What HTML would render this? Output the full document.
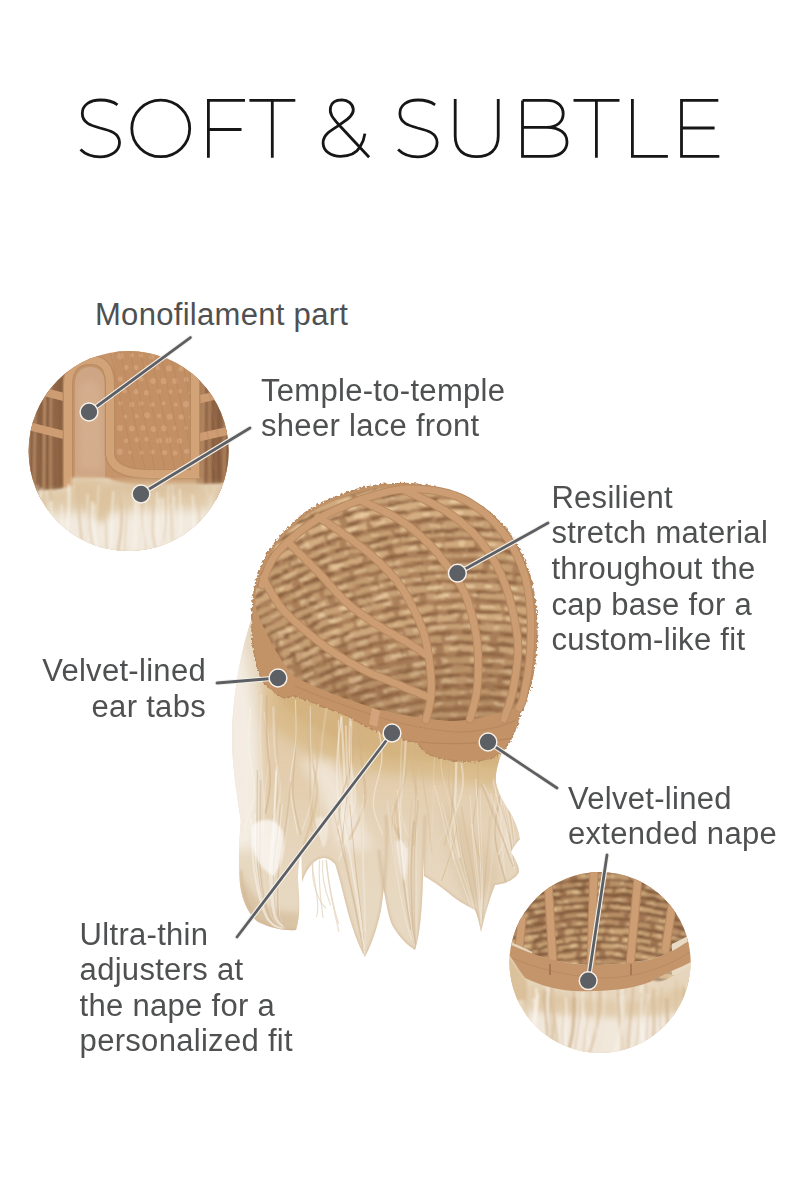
<!DOCTYPE html>
<html>
<head>
<meta charset="utf-8">
<style>
html,body{margin:0;padding:0;background:#fff;}
body{width:800px;height:1200px;position:relative;overflow:hidden;}
#art{position:absolute;left:0;top:0;}
.t{position:absolute;font-family:"Liberation Sans",sans-serif;font-size:31px;line-height:35.6px;color:#4f5051;letter-spacing:0.3px;white-space:nowrap;}
</style>
</head>
<body>
<svg id="art" width="800" height="1200" viewBox="0 0 800 1200">
<defs>
  <filter id="meshf" x="-5%" y="-5%" width="110%" height="110%"><feTurbulence type="fractalNoise" baseFrequency="0.06 0.25" numOctaves="2" seed="3" result="n"/><feDisplacementMap in="SourceGraphic" in2="n" scale="5" xChannelSelector="R" yChannelSelector="G" result="d"/><feGaussianBlur in="d" stdDeviation="1.1"/></filter>
  <filter id="blurS" x="-5%" y="-5%" width="110%" height="110%"><feGaussianBlur stdDeviation="0.5"/></filter>
  <filter id="fuzz" x="-5%" y="-5%" width="110%" height="110%"><feTurbulence type="fractalNoise" baseFrequency="0.35" numOctaves="2" seed="5" result="n"/><feDisplacementMap in="SourceGraphic" in2="n" scale="5" xChannelSelector="R" yChannelSelector="G" result="d"/><feGaussianBlur in="d" stdDeviation="0.4"/></filter>
  <filter id="blur08" x="-5%" y="-5%" width="110%" height="110%"><feGaussianBlur stdDeviation="0.8"/></filter>
  <filter id="blur1"><feGaussianBlur stdDeviation="1.2"/></filter>
  <filter id="blur3" x="-20%" y="-20%" width="140%" height="140%"><feGaussianBlur stdDeviation="3"/></filter>
  <filter id="blur6" x="-20%" y="-20%" width="140%" height="140%"><feGaussianBlur stdDeviation="6"/></filter>
  <clipPath id="c1"><circle cx="128.6" cy="451" r="100"/></clipPath>
  <clipPath id="c2"><circle cx="600" cy="962.5" r="90.5"/></clipPath>
</defs>

<g fill="none" stroke="#161616" stroke-width="2.8" stroke-linecap="butt" stroke-linejoin="miter">
  <path id="S1" d="M117.5,104.8 C113,101.5 107,100 100.5,100 C89,100 82.3,105.5 82.3,113.5 C82.3,123 91,125.5 100,128 C110,130.5 119.5,133 119.5,142.5 C119.5,151 111,156.8 100,156.8 C91,156.8 84.5,153.5 80.5,149.5"/>
  <ellipse cx="160.75" cy="128.4" rx="28.95" ry="28.3"/>
  <path d="M208.4,157.8 V100.4 H245 M208.4,129.5 H241.5"/>
  <path d="M249.4,100.4 H295.3 M272.3,100.4 V157.8"/>
  <path d="M369.1,157.2 L339.3,125.2 C333,118 329,114 330.6,107 C332,101 337,100 341.9,99.9 C348,100 353,104 353.3,109.5 C353.5,116 346,120 339.3,125.2 C330,131 323,135 323.1,143 C323,151 331,156.3 340.6,156.3 C351,156.3 357,152 360,147 C363,142 364.5,137 364.9,133.6"/>
  <use href="#S1" transform="translate(317.6,0)"/>
  <path d="M455.2,99 V136 C455.2,150 464,156.7 476.7,156.7 C489.4,156.7 498.25,150 498.25,136 V99"/>
  <path d="M522.5,100.4 H547 C557,100.4 563.2,106 563.2,113.8 C563.2,121.6 557,127.3 547,127.3 H522.5 M547,127.3 C560,127.3 567,133.5 567,142 C567,150.5 560,156.4 549,156.4 H522.5 V100.4"/>
  <path d="M573.5,100.4 H619.5 M596.4,100.4 V157.8"/>
  <path d="M632.4,99 V156.4 H667.9"/>
  <path d="M718.3,100.4 H681.5 V156.4 H719.3 M681.5,128 H714.6"/>
</g>

<g clip-path="url(#c1)">
<rect x="28" y="350" width="202" height="205" fill="#c6946a"/>
<path d="M28,360 L67,360 L67,500 L28,500 Z" fill="#9e7150"/>
<path d="M196,360 L232,360 L232,500 L196,500 Z" fill="#9e7150"/>
<g filter="url(#blur08)">
<path d="M29,360 C30,400 28,440 28.5,500" stroke="#c59d74" stroke-width="1.6" fill="none" opacity="0.75"/>
<path d="M32.1,360 C33.1,400 31.1,440 30.7,500" stroke="#6f4b30" stroke-width="1.6" fill="none" opacity="0.75"/>
<path d="M35.2,360 C36.2,400 34.2,440 33.9,500" stroke="#c59d74" stroke-width="1.2" fill="none" opacity="0.75"/>
<path d="M38.3,360 C39.3,400 37.3,440 38.1,500" stroke="#6f4b30" stroke-width="1.4" fill="none" opacity="0.75"/>
<path d="M41.4,360 C42.4,400 40.4,440 41.6,500" stroke="#6f4b30" stroke-width="2" fill="none" opacity="0.75"/>
<path d="M44.5,360 C45.5,400 43.5,440 43.4,500" stroke="#c59d74" stroke-width="1.8" fill="none" opacity="0.75"/>
<path d="M47.6,360 C48.6,400 46.6,440 47.8,500" stroke="#6f4b30" stroke-width="1.8" fill="none" opacity="0.75"/>
<path d="M50.7,360 C51.7,400 49.7,440 50.4,500" stroke="#c59d74" stroke-width="1.2" fill="none" opacity="0.75"/>
<path d="M53.8,360 C54.8,400 52.8,440 54.9,500" stroke="#7d573a" stroke-width="1.6" fill="none" opacity="0.75"/>
<path d="M56.9,360 C57.9,400 55.9,440 57,500" stroke="#7d573a" stroke-width="1.8" fill="none" opacity="0.75"/>
<path d="M60,360 C61,400 59,440 60.5,500" stroke="#6f4b30" stroke-width="1.8" fill="none" opacity="0.75"/>
<path d="M63.1,360 C64.1,400 62.1,440 63.5,500" stroke="#7d573a" stroke-width="1.3" fill="none" opacity="0.75"/>
<path d="M66.2,360 C67.2,400 65.2,440 66.8,500" stroke="#6f4b30" stroke-width="1.8" fill="none" opacity="0.75"/>
<path d="M197,360 C198,400 196,440 197,500" stroke="#b88d63" stroke-width="2" fill="none" opacity="0.75"/>
<path d="M200.1,360 C201.1,400 199.1,440 200,500" stroke="#b88d63" stroke-width="1.6" fill="none" opacity="0.75"/>
<path d="M203.2,360 C204.2,400 202.2,440 202.4,500" stroke="#c59d74" stroke-width="1.9" fill="none" opacity="0.75"/>
<path d="M206.3,360 C207.3,400 205.3,440 205.5,500" stroke="#7d573a" stroke-width="1.7" fill="none" opacity="0.75"/>
<path d="M209.4,360 C210.4,400 208.4,440 210.5,500" stroke="#b88d63" stroke-width="1.5" fill="none" opacity="0.75"/>
<path d="M212.5,360 C213.5,400 211.5,440 213.9,500" stroke="#6f4b30" stroke-width="1.7" fill="none" opacity="0.75"/>
<path d="M215.6,360 C216.6,400 214.6,440 214.6,500" stroke="#7d573a" stroke-width="1.4" fill="none" opacity="0.75"/>
<path d="M218.7,360 C219.7,400 217.7,440 218.7,500" stroke="#6f4b30" stroke-width="2.2" fill="none" opacity="0.75"/>
<path d="M221.8,360 C222.8,400 220.8,440 220.5,500" stroke="#7d573a" stroke-width="1.5" fill="none" opacity="0.75"/>
<path d="M224.9,360 C225.9,400 223.9,440 224.5,500" stroke="#b88d63" stroke-width="1.8" fill="none" opacity="0.75"/>
<path d="M228,360 C229,400 227,440 227.9,500" stroke="#6f4b30" stroke-width="2.1" fill="none" opacity="0.75"/>
<path d="M231.1,360 C232.1,400 230.1,440 231,500" stroke="#6f4b30" stroke-width="1.3" fill="none" opacity="0.75"/>
</g>
<path d="M28,388 L68,398 M28,426 L68,436 M196,400 L232,392 M196,438 L232,430" stroke="#cd9c72" stroke-width="8" fill="none"/>
<rect x="114" y="350" width="80" height="118" fill="#c38f64"/>
<circle cx="120.4" cy="356.3" r="3.2" fill="#d9aa80" opacity="0.6"/>
<circle cx="126.1" cy="367.6" r="2.5" fill="#d9aa80" opacity="0.6"/>
<circle cx="120.3" cy="379" r="2.6" fill="#d9aa80" opacity="0.6"/>
<circle cx="124.8" cy="391.2" r="2.1" fill="#d9aa80" opacity="0.6"/>
<circle cx="120.5" cy="403.3" r="2.3" fill="#d9aa80" opacity="0.6"/>
<circle cx="125.3" cy="416.7" r="2.1" fill="#d9aa80" opacity="0.6"/>
<circle cx="119.9" cy="428.1" r="3.1" fill="#d9aa80" opacity="0.6"/>
<circle cx="126.1" cy="440.7" r="2.3" fill="#d9aa80" opacity="0.6"/>
<circle cx="119.8" cy="451.7" r="3.1" fill="#d9aa80" opacity="0.6"/>
<circle cx="131.9" cy="355.3" r="2.2" fill="#d9aa80" opacity="0.6"/>
<circle cx="136" cy="367.5" r="2.6" fill="#d9aa80" opacity="0.6"/>
<circle cx="131.2" cy="379.5" r="2" fill="#d9aa80" opacity="0.6"/>
<circle cx="136.3" cy="391.7" r="2.7" fill="#d9aa80" opacity="0.6"/>
<circle cx="131.9" cy="404.4" r="2.6" fill="#d9aa80" opacity="0.6"/>
<circle cx="136.7" cy="416.4" r="2.1" fill="#d9aa80" opacity="0.6"/>
<circle cx="131.8" cy="428.6" r="3" fill="#d9aa80" opacity="0.6"/>
<circle cx="137.1" cy="439.8" r="2.5" fill="#d9aa80" opacity="0.6"/>
<circle cx="130.2" cy="452.3" r="2.1" fill="#d9aa80" opacity="0.6"/>
<circle cx="141.1" cy="355.4" r="2.2" fill="#d9aa80" opacity="0.6"/>
<circle cx="147.2" cy="367.1" r="2" fill="#d9aa80" opacity="0.6"/>
<circle cx="141.3" cy="379.2" r="2.4" fill="#d9aa80" opacity="0.6"/>
<circle cx="146.6" cy="392.7" r="2.7" fill="#d9aa80" opacity="0.6"/>
<circle cx="141.3" cy="403.5" r="2.4" fill="#d9aa80" opacity="0.6"/>
<circle cx="147.2" cy="415.2" r="3" fill="#d9aa80" opacity="0.6"/>
<circle cx="143" cy="427.9" r="2.6" fill="#d9aa80" opacity="0.6"/>
<circle cx="146.7" cy="439.2" r="2.4" fill="#d9aa80" opacity="0.6"/>
<circle cx="141.5" cy="452.7" r="2.2" fill="#d9aa80" opacity="0.6"/>
<circle cx="152" cy="356.9" r="2.6" fill="#d9aa80" opacity="0.6"/>
<circle cx="157.8" cy="368.1" r="2" fill="#d9aa80" opacity="0.6"/>
<circle cx="153.1" cy="381" r="3" fill="#d9aa80" opacity="0.6"/>
<circle cx="158.9" cy="391.5" r="2.4" fill="#d9aa80" opacity="0.6"/>
<circle cx="152.3" cy="404.5" r="2.6" fill="#d9aa80" opacity="0.6"/>
<circle cx="159.1" cy="415.7" r="2.3" fill="#d9aa80" opacity="0.6"/>
<circle cx="153.6" cy="429" r="3" fill="#d9aa80" opacity="0.6"/>
<circle cx="159.1" cy="440.6" r="2.9" fill="#d9aa80" opacity="0.6"/>
<circle cx="152.5" cy="452" r="2.4" fill="#d9aa80" opacity="0.6"/>
<circle cx="163.1" cy="355.1" r="2.3" fill="#d9aa80" opacity="0.6"/>
<circle cx="169" cy="368.4" r="3.1" fill="#d9aa80" opacity="0.6"/>
<circle cx="163.9" cy="380.9" r="3.2" fill="#d9aa80" opacity="0.6"/>
<circle cx="170.4" cy="391.7" r="2.3" fill="#d9aa80" opacity="0.6"/>
<circle cx="163.5" cy="403.4" r="2.2" fill="#d9aa80" opacity="0.6"/>
<circle cx="169.7" cy="416.8" r="3" fill="#d9aa80" opacity="0.6"/>
<circle cx="164" cy="428.3" r="3" fill="#d9aa80" opacity="0.6"/>
<circle cx="168.7" cy="440.3" r="3.1" fill="#d9aa80" opacity="0.6"/>
<circle cx="164.6" cy="452.5" r="2.6" fill="#d9aa80" opacity="0.6"/>
<circle cx="174.4" cy="356.6" r="2.4" fill="#d9aa80" opacity="0.6"/>
<circle cx="181.1" cy="368.9" r="2.5" fill="#d9aa80" opacity="0.6"/>
<circle cx="174.8" cy="380.9" r="2.9" fill="#d9aa80" opacity="0.6"/>
<circle cx="179.8" cy="391.3" r="2.2" fill="#d9aa80" opacity="0.6"/>
<circle cx="175.8" cy="404.6" r="2.2" fill="#d9aa80" opacity="0.6"/>
<circle cx="181.2" cy="417" r="2.8" fill="#d9aa80" opacity="0.6"/>
<circle cx="174.7" cy="428.1" r="2.2" fill="#d9aa80" opacity="0.6"/>
<circle cx="179.5" cy="440.9" r="2.8" fill="#d9aa80" opacity="0.6"/>
<circle cx="175.1" cy="452.9" r="2.5" fill="#d9aa80" opacity="0.6"/>
<circle cx="186.7" cy="356.7" r="2.3" fill="#d9aa80" opacity="0.6"/>
<circle cx="191" cy="367.6" r="2.3" fill="#d9aa80" opacity="0.6"/>
<circle cx="186.2" cy="379.5" r="2.5" fill="#d9aa80" opacity="0.6"/>
<circle cx="190.8" cy="392.8" r="2.4" fill="#d9aa80" opacity="0.6"/>
<circle cx="185.9" cy="404.2" r="3.1" fill="#d9aa80" opacity="0.6"/>
<circle cx="191.3" cy="416.8" r="2.6" fill="#d9aa80" opacity="0.6"/>
<circle cx="186.1" cy="428" r="2" fill="#d9aa80" opacity="0.6"/>
<circle cx="191.4" cy="439.4" r="2" fill="#d9aa80" opacity="0.6"/>
<circle cx="186.6" cy="451.3" r="2.6" fill="#d9aa80" opacity="0.6"/>
<g stroke="#b07e55" stroke-width="1" opacity="0.35">
<line x1="110" y1="350" x2="135" y2="470"/>
<line x1="120" y1="350" x2="145" y2="470"/>
<line x1="130" y1="350" x2="155" y2="470"/>
<line x1="140" y1="350" x2="165" y2="470"/>
<line x1="150" y1="350" x2="175" y2="470"/>
<line x1="160" y1="350" x2="185" y2="470"/>
<line x1="170" y1="350" x2="195" y2="470"/>
<line x1="180" y1="350" x2="205" y2="470"/>
<line x1="190" y1="350" x2="215" y2="470"/>
<line x1="200" y1="350" x2="225" y2="470"/>
</g>
<path d="M75,490 L75,385 C75,372 82,367 90,367 C98,367 105,372 105,385 L105,490 Z" fill="#cfa685"/>
<path d="M78,392 C82,378 95,376 100,388 L102,470 L80,470 Z" fill="#d7b393" opacity="0.6" filter="url(#blur3)"/>
<path d="M68,500 L68,385 C68,366 78,360 90,360 C102,360 110,366 110,385 L110,455 C112,468 125,474 150,474 L195,474 L195,360" stroke="#b98b62" stroke-width="10.5" fill="none"/>
<path d="M68,500 L68,385 C68,366 78,360 90,360 C102,360 110,366 110,385 L110,455 C112,468 125,474 150,474 L195,474 L195,360" stroke="#d3a378" stroke-width="8" fill="none"/>
<path d="M46,350 C52,360 60,362 68,372" stroke="#cf9d72" stroke-width="6" fill="none"/>
<path d="M210,350 C205,360 200,365 195,372" stroke="#cf9d72" stroke-width="6" fill="none"/>
<path d="M28,492 C45,490 60,490 72,486 L72,478 L108,478 C120,484 140,486 160,484 C185,483 210,486 232,482 L232,555 L28,555 Z" fill="#e6d5bc" filter="url(#blur1)"/>
<path d="M28,492 C60,490 120,488 232,484 L232,515 L28,520 Z" fill="#dcc39d" opacity="0.6" filter="url(#blur3)"/>
<path d="M28,515 C70,510 120,512 232,508 L232,555 L28,555 Z" fill="#f2eadf" filter="url(#blur6)"/>
<path d="M70,480 C82,476 102,478 112,486 C118,500 112,515 100,524 C88,515 76,500 70,480 Z" fill="#dcc29c" opacity="0.85" filter="url(#blur3)"/>
<path d="M110,480 L200,480 L200,492 C160,495 130,494 110,490 Z" fill="#d9be9a" opacity="0.7" filter="url(#blur3)"/>
<g filter="url(#blur08)">
<path d="M173.6,495.7 C172.5,520 173.8,535 174.5,556" stroke="#f8f2ea" stroke-width="2.8" fill="none" opacity="0.55"/>
<path d="M41.3,488 C38.5,520 37.2,535 40.5,556" stroke="#f8f2ea" stroke-width="2.5" fill="none" opacity="0.55"/>
<path d="M210.7,493.3 C211.3,520 210.7,535 210.9,556" stroke="#efe3d2" stroke-width="1.9" fill="none" opacity="0.55"/>
<path d="M135.6,494 C138.2,520 137.6,535 141.6,556" stroke="#efe3d2" stroke-width="2.8" fill="none" opacity="0.55"/>
<path d="M206.8,488.3 C206.5,520 205.9,535 205,556" stroke="#efe3d2" stroke-width="1.1" fill="none" opacity="0.55"/>
<path d="M77.6,485.5 C78.7,520 80.5,535 84,556" stroke="#d7bd99" stroke-width="2.9" fill="none" opacity="0.55"/>
<path d="M157.4,491.7 C155.9,520 153.8,535 156.9,556" stroke="#f8f2ea" stroke-width="1.8" fill="none" opacity="0.55"/>
<path d="M126.5,504.8 C128.5,520 123.1,535 125.4,556" stroke="#dcc4a2" stroke-width="1.8" fill="none" opacity="0.55"/>
<path d="M113.4,491.5 C111,520 112.1,535 110.8,556" stroke="#fbf8f3" stroke-width="1.9" fill="none" opacity="0.55"/>
<path d="M33.6,491 C34.3,520 33.7,535 26.6,556" stroke="#d7bd99" stroke-width="2.9" fill="none" opacity="0.55"/>
<path d="M50.7,489.6 C48,520 53.5,535 47.1,556" stroke="#d7bd99" stroke-width="2.6" fill="none" opacity="0.55"/>
<path d="M198.2,498.2 C200.9,520 197.3,535 198.8,556" stroke="#dcc4a2" stroke-width="2.1" fill="none" opacity="0.55"/>
<path d="M168.7,485.9 C166,520 170.6,535 167.5,556" stroke="#f8f2ea" stroke-width="1.5" fill="none" opacity="0.55"/>
<path d="M33.3,485.9 C31.9,520 34.4,535 28.9,556" stroke="#efe3d2" stroke-width="2.7" fill="none" opacity="0.55"/>
<path d="M119.8,491.1 C120.2,520 124.1,535 116.1,556" stroke="#d7bd99" stroke-width="1.1" fill="none" opacity="0.55"/>
<path d="M170.5,503.7 C173.3,520 168.1,535 165.4,556" stroke="#efe3d2" stroke-width="2.3" fill="none" opacity="0.55"/>
<path d="M135.2,488.3 C134.8,520 136.9,535 131.5,556" stroke="#f8f2ea" stroke-width="3" fill="none" opacity="0.55"/>
<path d="M37.3,484.4 C37.3,520 42.1,535 37.5,556" stroke="#d7bd99" stroke-width="2.9" fill="none" opacity="0.55"/>
<path d="M51,501.2 C50.6,520 51,535 56.4,556" stroke="#fbf8f3" stroke-width="2.9" fill="none" opacity="0.55"/>
<path d="M90.9,488.5 C89.3,520 87.9,535 97.1,556" stroke="#d7bd99" stroke-width="1.8" fill="none" opacity="0.55"/>
<path d="M98.8,485.1 C96.6,520 94.5,535 102.7,556" stroke="#efe3d2" stroke-width="1.9" fill="none" opacity="0.55"/>
<path d="M41,498 C40.3,520 41,535 48.5,556" stroke="#dcc4a2" stroke-width="1.5" fill="none" opacity="0.55"/>
<path d="M88,493.6 C86,520 87.5,535 84.2,556" stroke="#efe3d2" stroke-width="2.9" fill="none" opacity="0.55"/>
<path d="M138.3,489.1 C141.1,520 136.4,535 136,556" stroke="#f8f2ea" stroke-width="1.7" fill="none" opacity="0.55"/>
<path d="M46.6,489.9 C47.5,520 44.1,535 51,556" stroke="#f8f2ea" stroke-width="1.5" fill="none" opacity="0.55"/>
<path d="M47.8,492.4 C45,520 43,535 44.6,556" stroke="#d7bd99" stroke-width="1.2" fill="none" opacity="0.55"/>
<path d="M219.6,501.9 C217.5,520 223.5,535 224.2,556" stroke="#dcc4a2" stroke-width="1.8" fill="none" opacity="0.55"/>
<path d="M94.6,504.7 C92.5,520 96.8,535 96.9,556" stroke="#f8f2ea" stroke-width="2.6" fill="none" opacity="0.55"/>
<path d="M171.6,494.8 C171.1,520 173.6,535 171.7,556" stroke="#dcc4a2" stroke-width="2.5" fill="none" opacity="0.55"/>
<path d="M142.6,501.1 C139.7,520 144.4,535 147.3,556" stroke="#d7bd99" stroke-width="1.2" fill="none" opacity="0.55"/>
<path d="M38.3,497.4 C41,520 37.1,535 37.5,556" stroke="#f8f2ea" stroke-width="2.3" fill="none" opacity="0.55"/>
<path d="M154,498.3 C153.9,520 149,535 158.8,556" stroke="#dcc4a2" stroke-width="2.8" fill="none" opacity="0.55"/>
<path d="M48.2,495 C49.7,520 47.9,535 53.2,556" stroke="#efe3d2" stroke-width="1.5" fill="none" opacity="0.55"/>
<path d="M179.8,488.8 C180.7,520 179.4,535 185.3,556" stroke="#f8f2ea" stroke-width="2" fill="none" opacity="0.55"/>
<path d="M165.4,500.1 C166.1,520 166.8,535 158.6,556" stroke="#d7bd99" stroke-width="1.7" fill="none" opacity="0.55"/>
<path d="M159,498.6 C159.7,520 155.3,535 158.7,556" stroke="#fbf8f3" stroke-width="1.5" fill="none" opacity="0.55"/>
<path d="M163.1,498.5 C164.1,520 161,535 163.3,556" stroke="#fbf8f3" stroke-width="1.9" fill="none" opacity="0.55"/>
<path d="M181.9,504.9 C182.2,520 180,535 175.3,556" stroke="#fbf8f3" stroke-width="1" fill="none" opacity="0.55"/>
<path d="M120.9,501.2 C123.7,520 120.4,535 117.2,556" stroke="#d7bd99" stroke-width="2.8" fill="none" opacity="0.55"/>
<path d="M214.2,485.6 C211.8,520 216.7,535 210.4,556" stroke="#efe3d2" stroke-width="1.3" fill="none" opacity="0.55"/>
<path d="M192.4,494.7 C194.7,520 194.4,535 188.1,556" stroke="#fbf8f3" stroke-width="1.8" fill="none" opacity="0.55"/>
<path d="M61.5,503.9 C62.6,520 60.5,535 65.1,556" stroke="#fbf8f3" stroke-width="1.7" fill="none" opacity="0.55"/>
<path d="M92.6,501.6 C89.6,520 95.1,535 98,556" stroke="#f8f2ea" stroke-width="2.9" fill="none" opacity="0.55"/>
<path d="M68.8,484.2 C70.2,520 66.3,535 61.8,556" stroke="#fbf8f3" stroke-width="3" fill="none" opacity="0.55"/>
<path d="M146.7,491.6 C146.2,520 144.4,535 139.4,556" stroke="#f8f2ea" stroke-width="1.1" fill="none" opacity="0.55"/>
<path d="M161.1,497.3 C159,520 165.8,535 160.1,556" stroke="#efe3d2" stroke-width="1.4" fill="none" opacity="0.55"/>
<path d="M103.9,504.1 C106.2,520 107,535 106,556" stroke="#dcc4a2" stroke-width="2.1" fill="none" opacity="0.55"/>
<path d="M172.5,485 C173.9,520 172,535 176.5,556" stroke="#efe3d2" stroke-width="2" fill="none" opacity="0.55"/>
<path d="M210.6,495.6 C208.6,520 209.7,535 207.1,556" stroke="#efe3d2" stroke-width="2.5" fill="none" opacity="0.55"/>
<path d="M223.3,489.5 C224.2,520 221.3,535 224.2,556" stroke="#fbf8f3" stroke-width="1.2" fill="none" opacity="0.55"/>
</g>
</g>
<g id="hair" filter="url(#blurS)">
<path d="M254,612 C243,640 233,690 232,735 C232,770 238,800 241,822 L520,840 C519,832 517,825 510,812 C504,804 499,795 496,783 C495,775 497,765 502,752 L420,728 L300,684 L262,655 Z" fill="#e7d8c1"/>
<path d="M240,780 L306,780 L306,830 C302,848 298,862 298,878 C299,896 301,914 296,930 C285,931 270,928 258,922 C248,914 242,900 240,885 C238,865 239,840 241,820 Z" fill="#e7d8c1"/>
<path d="M300,790 L386,790 C388,830 386,880 381,910 C377,930 371,945 365,957 C358,945 351,925 346,905 C341,885 338,872 335,864 C325,852 310,858 302,882 Z" fill="#e7d8c1"/>
<path d="M374,790 L426,790 C425,820 424,850 423,880 C422,910 420,935 415,950 C405,944 398,935 392,925 C386,910 382,880 379,850 Z" fill="#e7d8c1"/>
<path d="M420,790 L497,790 C505,805 514,818 519,840 C515,845 511,850 511,853 C516,860 519,866 519,872 C515,880 505,884 495,885 C490,897 485,915 481,932 C479,922 477,914 475,910 C465,905 455,899 446,891 C436,883 429,879 424,876 C424,850 422,820 420,790 Z" fill="#e7d8c1"/>
<clipPath id="hairclip"><path d="M254,612 C243,640 233,690 232,735 C232,770 238,800 241,822 L520,840 C519,832 517,825 510,812 C504,804 499,795 496,783 C495,775 497,765 502,752 L420,728 L300,684 L262,655 Z"/><path d="M240,780 L306,780 L306,830 C302,848 298,862 298,878 C299,896 301,914 296,930 C285,931 270,928 258,922 C248,914 242,900 240,885 C238,865 239,840 241,820 Z"/><path d="M300,790 L386,790 C388,830 386,880 381,910 C377,930 371,945 365,957 C358,945 351,925 346,905 C341,885 338,872 335,864 C325,852 310,858 302,882 Z"/><path d="M374,790 L426,790 C425,820 424,850 423,880 C422,910 420,935 415,950 C405,944 398,935 392,925 C386,910 382,880 379,850 Z"/><path d="M420,790 L497,790 C505,805 514,818 519,840 C515,845 511,850 511,853 C516,860 519,866 519,872 C515,880 505,884 495,885 C490,897 485,915 481,932 C479,922 477,914 475,910 C465,905 455,899 446,891 C436,883 429,879 424,876 C424,850 422,820 420,790 Z"/></clipPath>
<g clip-path="url(#hairclip)">
<path d="M440,800 C470,820 495,850 500,880 C490,890 480,900 470,905 C455,880 445,840 440,800 Z" fill="#d9c3a2" opacity="0.8" filter="url(#blur6)"/>
<path d="M240,870 C250,900 272,915 300,912 L300,935 L238,935 Z" fill="#d5bd9b" opacity="0.75" filter="url(#blur3)"/>
<linearGradient id="gb" x1="0" y1="0" x2="0" y2="1"><stop offset="0" stop-color="#dfc59e" stop-opacity="0.9"/><stop offset="0.5" stop-color="#e1c8a4" stop-opacity="0.65"/><stop offset="1" stop-color="#e6d3b8" stop-opacity="0"/></linearGradient>
<path d="M262,668 L300,685 L420,730 L505,745 L525,760 L525,900 L262,900 C258,820 262,720 262,668 Z" fill="url(#gb)" filter="url(#blur3)"/>
<path d="M268,676 L300,688 L420,732 L505,742 L510,790 C470,782 430,778 380,772 C330,765 290,745 268,720 Z" fill="#d9bb8a" opacity="0.95" filter="url(#blur6)"/>
<path d="M280,690 L420,736 L500,748 L503,768 C470,764 430,760 390,758 C350,750 300,725 280,700 Z" fill="#d3b07b" opacity="0.75" filter="url(#blur3)"/>
<path d="M226,600 C246,640 256,700 258,760 C260,800 258,830 254,850 L226,850 Z" fill="#f5efe6" opacity="0.9" filter="url(#blur6)"/>
<path d="M300,760 C320,790 330,820 340,850 L372,850 C360,810 345,780 330,760 Z" fill="#f4ede3" opacity="0.7" filter="url(#blur6)"/>
<path d="M412.2,721.6 L412.2,724.7 L412.1,728.7 L412,733.5 L411.9,738.8 L411.9,744.5 L411.9,750.3 L412,756.1 L412.2,761.6 L412.7,767 L413.3,772.7 L414.1,778.4 L415,784.2 L415.8,790 L416.5,795.7 L417,801.3 L417.2,806.6 L417.1,812 L416.8,817.6 L416.2,823.2 L415.5,828.7 L414.8,833.8 L414.2,838.4 L413.6,842.3 L413.2,845.2" stroke="#d5b98f" stroke-width="2.6" stroke-opacity="0.4" fill="none" stroke-linecap="round"/>
<path d="M281.3,700.4 L280.9,703.4 L280.2,707.5 L279.5,712.2 L278.7,717.6 L277.9,723.3 L277.2,729.1 L276.7,734.9 L276.4,740.4 L276.4,745.9 L276.7,751.6 L277.1,757.5 L277.6,763.4 L278.1,769.2 L278.6,774.9 L278.8,780.3 L278.8,785.4 L278.4,790.2 L277.8,795.1 L277,799.8 L276.1,804.3 L275.2,808.4 L274.3,812.1 L273.6,815.2 L273.1,817.6" stroke="#d5b98f" stroke-width="2.3" stroke-opacity="0.4" fill="none" stroke-linecap="round"/>
<path d="M250.2,708.4 L250.1,711.4 L249.8,715.4 L249.5,720.2 L249.2,725.5 L248.9,731.2 L248.7,737.1 L248.7,742.8 L248.8,748.4 L249.3,753.8 L250,759.5 L251,765.4 L252,771.3 L253,777.1 L253.7,782.8 L254.2,788.3 L254.2,793.4 L253.6,798.3 L252.6,803.2 L251.2,808.1 L249.6,812.7 L248,817 L246.5,820.8 L245.3,824 L244.4,826.5" stroke="#f8f3eb" stroke-width="1.8" stroke-opacity="0.5" fill="none" stroke-linecap="round"/>
<path d="M338.6,720.6 L338.6,723.6 L338.6,727.7 L338.6,732.4 L338.5,737.8 L338.6,743.5 L338.6,749.3 L338.8,755.1 L339,760.6 L339.3,766.1 L339.8,771.9 L340.4,777.9 L341,783.9 L341.6,789.8 L342.3,795.4 L342.8,800.8 L343.3,805.6 L343.7,810.1 L344.1,814.4 L344.4,818.5 L344.7,822.3 L345,825.7 L345.2,828.8 L345.4,831.3 L345.6,833.4" stroke="#f3eadc" stroke-width="1.6" stroke-opacity="0.5" fill="none" stroke-linecap="round"/>
<path d="M357.3,716.5 L357.6,719.5 L358,723.5 L358.4,728.3 L358.9,733.6 L359.5,739.3 L360,745.2 L360.6,750.9 L361,756.5 L361.6,761.9 L362.4,767.5 L363.3,773.3 L364.1,779.1 L364.7,784.9 L365.2,790.6 L365.2,796.1 L364.8,801.5 L363.7,806.8 L362,812.3 L359.9,817.8 L357.5,823.1 L355.2,828.1 L352.9,832.6 L351.1,836.3 L349.8,839.2" stroke="#cfb087" stroke-width="2.5" stroke-opacity="0.4" fill="none" stroke-linecap="round"/>
<path d="M264,712 L264.5,715.1 L265.2,719.1 L266,723.9 L266.9,729.2 L267.7,734.9 L268.4,740.7 L268.9,746.5 L269.2,752 L269,757.5 L268.6,763.1 L268,768.8 L267.2,774.6 L266.4,780.4 L265.6,786.1 L264.9,791.7 L264.5,797 L264.1,802.4 L263.9,808 L263.7,813.6 L263.6,819.1 L263.5,824.2 L263.5,828.7 L263.4,832.6 L263.4,835.5" stroke="#f8f3eb" stroke-width="1.4" stroke-opacity="0.3" fill="none" stroke-linecap="round"/>
<path d="M497.7,737.7 L498,740.7 L498.5,744.7 L499.1,749.5 L499.7,754.8 L500.3,760.5 L500.9,766.4 L501.3,772.1 L501.6,777.7 L501.7,783 L501.6,788.4 L501.5,793.9 L501.3,799.4 L501,805.1 L500.9,810.8 L500.8,816.7 L500.9,822.7 L501.2,829.2 L501.6,836.4 L502.1,843.9 L502.7,851.4 L503.3,858.6 L503.9,865 L504.3,870.5 L504.6,874.5" stroke="#f8f3eb" stroke-width="1.9" stroke-opacity="0.3" fill="none" stroke-linecap="round"/>
<path d="M448.4,731.3 L448.8,734.3 L449.5,738.3 L450.3,743.1 L451.1,748.5 L451.9,754.1 L452.6,760 L453.1,765.8 L453.4,771.3 L453.5,776.8 L453.4,782.5 L453.1,788.5 L452.8,794.5 L452.3,800.4 L451.8,806 L451.3,811.4 L450.7,816.3 L450.1,820.8 L449.3,825.3 L448.4,829.5 L447.4,833.5 L446.5,837.1 L445.7,840.3 L445,843 L444.5,845.1" stroke="#d5b98f" stroke-width="1.8" stroke-opacity="0.4" fill="none" stroke-linecap="round"/>
<path d="M443.6,727.7 L443.3,730.8 L442.9,734.8 L442.4,739.6 L441.8,744.9 L441.3,750.6 L441,756.4 L441,762.2 L441.2,767.7 L442,773.2 L443.3,778.9 L444.9,784.8 L446.6,790.7 L448.3,796.5 L449.6,802.2 L450.5,807.7 L450.7,812.7 L450,817.6 L448.7,822.6 L446.8,827.4 L444.7,832 L442.4,836.2 L440.3,840 L438.6,843.1 L437.4,845.6" stroke="#ece0cc" stroke-width="1" stroke-opacity="0.5" fill="none" stroke-linecap="round"/>
<path d="M504.1,742.2 L503.8,745.3 L503.4,749.3 L503,754.1 L502.5,759.4 L502.1,765.1 L501.8,770.9 L501.7,776.7 L501.9,782.2 L502.5,787.6 L503.5,793.2 L504.8,798.9 L506.2,804.7 L507.5,810.4 L508.6,816.1 L509.3,821.7 L509.5,827.2 L509,832.8 L507.9,838.7 L506.4,844.6 L504.7,850.4 L502.9,855.9 L501.2,860.8 L499.8,864.9 L498.9,868" stroke="#ece0cc" stroke-width="1.4" stroke-opacity="0.6" fill="none" stroke-linecap="round"/>
<path d="M428.2,729.1 L427.7,732.2 L426.9,736.2 L426,741 L425,746.3 L424,752 L423.2,757.8 L422.7,763.6 L422.5,769.1 L422.7,774.6 L423.1,780.2 L423.9,786 L424.7,791.8 L425.7,797.6 L426.6,803.3 L427.5,808.8 L428.2,814.1 L428.8,819.4 L429.3,824.9 L429.8,830.4 L430.3,835.7 L430.7,840.7 L431.1,845.1 L431.4,848.9 L431.7,851.7" stroke="#d5b98f" stroke-width="1.4" stroke-opacity="0.4" fill="none" stroke-linecap="round"/>
<path d="M341.3,717.2 L341.4,720.2 L341.7,724.3 L342,729 L342.4,734.4 L342.7,740.1 L343,745.9 L343.4,751.7 L343.6,757.2 L343.9,762.6 L344.2,768.3 L344.4,774.1 L344.7,779.9 L344.9,785.7 L345,791.4 L345,796.9 L344.8,802.2 L344.3,807.4 L343.6,812.8 L342.7,818.2 L341.7,823.4 L340.7,828.3 L339.8,832.6 L339,836.3 L338.5,839.1" stroke="#f8f3eb" stroke-width="2.3" stroke-opacity="0.5" fill="none" stroke-linecap="round"/>
<path d="M376.3,717.7 L376.8,720.8 L377.6,724.8 L378.6,729.6 L379.6,734.9 L380.6,740.6 L381.4,746.4 L381.8,752.2 L381.9,757.7 L381.4,763.2 L380.3,768.9 L378.9,774.8 L377.3,780.7 L375.8,786.6 L374.5,792.3 L373.6,797.7 L373.3,802.7 L373.6,807.6 L374.6,812.4 L375.9,817.1 L377.4,821.5 L379,825.6 L380.6,829.2 L381.8,832.3 L382.7,834.7" stroke="#f3eadc" stroke-width="1.4" stroke-opacity="0.6" fill="none" stroke-linecap="round"/>
<path d="M273.3,707.6 L273.4,710.6 L273.5,714.6 L273.6,719.4 L273.7,724.8 L273.8,730.4 L274,736.3 L274.3,742.1 L274.7,747.6 L275.2,752.9 L275.9,758.3 L276.8,763.8 L277.7,769.3 L278.5,774.9 L279.2,780.7 L279.6,786.6 L279.7,792.6 L279.4,799.1 L278.7,806.4 L277.8,814 L276.7,821.5 L275.6,828.8 L274.5,835.3 L273.6,840.8 L273,844.9" stroke="#f8f3eb" stroke-width="2.5" stroke-opacity="0.3" fill="none" stroke-linecap="round"/>
<path d="M347.3,712.7 L347.9,715.7 L348.7,719.7 L349.8,724.5 L350.9,729.9 L351.9,735.5 L352.6,741.4 L353.1,747.2 L353,752.7 L352.3,758.2 L351.1,764 L349.6,770 L347.8,776 L346,781.9 L344.3,787.6 L342.7,792.9 L341.6,797.7 L340.8,802.1 L340.1,806.3 L339.6,810.2 L339.2,813.9 L339,817.2 L338.7,820.1 L338.5,822.5 L338.3,824.5" stroke="#cfb087" stroke-width="1.7" stroke-opacity="0.5" fill="none" stroke-linecap="round"/>
<path d="M326.7,707 L326.3,710 L325.7,714 L325,718.8 L324.2,724.2 L323.4,729.8 L322.7,735.7 L322.1,741.5 L321.6,747 L321.4,752.4 L321.2,757.9 L321.2,763.5 L321.2,769.2 L321.3,774.9 L321.3,780.6 L321.4,786.3 L321.3,792 L321.3,797.9 L321.2,804.2 L321,810.7 L320.9,817.1 L320.8,823.1 L320.7,828.5 L320.6,833.1 L320.5,836.5" stroke="#ece0cc" stroke-width="2.2" stroke-opacity="0.3" fill="none" stroke-linecap="round"/>
<path d="M417.8,728.7 L417.6,731.7 L417.5,735.7 L417.3,740.5 L417.1,745.9 L416.8,751.5 L416.6,757.4 L416.4,763.2 L416.2,768.7 L416.1,774.2 L416,780 L415.9,786.1 L415.8,792.1 L415.7,798 L415.5,803.7 L415.3,809 L415.1,813.7 L414.7,817.9 L414.2,821.9 L413.6,825.6 L413,829 L412.4,832.1 L411.9,834.7 L411.5,837 L411.1,838.8" stroke="#d5b98f" stroke-width="1.1" stroke-opacity="0.4" fill="none" stroke-linecap="round"/>
<path d="M475.1,742.6 L475.4,745.7 L475.9,749.7 L476.4,754.5 L477,759.8 L477.5,765.5 L478,771.4 L478.2,777.1 L478.3,782.6 L477.9,788.1 L477.3,793.8 L476.4,799.6 L475.5,805.5 L474.6,811.3 L473.8,817 L473.3,822.5 L473.2,827.6 L473.6,832.7 L474.4,837.8 L475.4,842.8 L476.6,847.6 L477.8,852 L478.9,856 L479.9,859.3 L480.5,861.9" stroke="#cfb087" stroke-width="1.1" stroke-opacity="0.5" fill="none" stroke-linecap="round"/>
<path d="M295.9,710 L295.8,713 L295.8,717.1 L295.8,721.8 L295.7,727.2 L295.6,732.9 L295.5,738.7 L295.4,744.5 L295.2,750 L295,755.4 L294.6,761 L294.1,766.8 L293.6,772.5 L293.2,778.3 L293,784 L292.9,789.6 L293.1,795 L293.6,800.4 L294.4,806.1 L295.5,811.8 L296.7,817.4 L297.9,822.6 L299,827.3 L300,831.2 L300.6,834.2" stroke="#cfb087" stroke-width="1.4" stroke-opacity="0.5" fill="none" stroke-linecap="round"/>
<path d="M350.2,716.5 L350.2,719.5 L350,723.5 L349.9,728.3 L349.7,733.6 L349.6,739.3 L349.5,745.2 L349.6,750.9 L349.8,756.5 L350.3,761.9 L351.2,767.7 L352.2,773.6 L353.3,779.5 L354.2,785.4 L355,791.1 L355.3,796.5 L355.1,801.5 L354.2,806.2 L352.7,810.9 L350.8,815.4 L348.6,819.7 L346.4,823.6 L344.4,827.1 L342.7,830 L341.5,832.3" stroke="#f8f3eb" stroke-width="2.4" stroke-opacity="0.4" fill="none" stroke-linecap="round"/>
<path d="M315.8,721.9 L316,724.9 L316.2,729 L316.5,733.7 L316.8,739.1 L317.1,744.8 L317.3,750.6 L317.3,756.4 L317.2,761.9 L316.8,767.4 L316.1,773 L315.1,778.9 L314.2,784.7 L313.3,790.6 L312.5,796.3 L312.1,801.7 L312,806.9 L312.4,811.9 L313.3,817.1 L314.4,822.1 L315.7,827 L317.1,831.4 L318.4,835.4 L319.4,838.8 L320.1,841.4" stroke="#d5b98f" stroke-width="1.5" stroke-opacity="0.5" fill="none" stroke-linecap="round"/>
<path d="M399.8,734 L400.4,737 L401.2,741.1 L402.2,745.8 L403.3,751.2 L404.3,756.9 L405,762.7 L405.3,768.5 L405.2,774 L404.3,779.5 L402.8,785.3 L400.7,791.2 L398.5,797.2 L396.4,803.1 L394.6,808.8 L393.3,814.1 L392.9,819 L393.4,823.5 L394.8,827.9 L396.6,832 L398.9,835.9 L401.2,839.4 L403.3,842.5 L405.2,845.1 L406.4,847.2" stroke="#cfb087" stroke-width="2.5" stroke-opacity="0.4" fill="none" stroke-linecap="round"/>
<path d="M310.3,710.3 L310.2,713.4 L310.1,717.4 L309.9,722.2 L309.8,727.5 L309.7,733.2 L309.7,739.1 L309.9,744.8 L310.2,750.3 L310.9,755.7 L311.9,761.2 L313.2,766.7 L314.5,772.3 L315.7,778 L316.6,783.7 L317.2,789.5 L317.1,795.3 L316.3,801.6 L314.9,808.5 L313.1,815.6 L311,822.7 L308.8,829.4 L306.8,835.5 L305.1,840.6 L303.9,844.4" stroke="#d5b98f" stroke-width="2.3" stroke-opacity="0.5" fill="none" stroke-linecap="round"/>
<path d="M402.9,725 L402.7,728 L402.4,732 L402.1,736.8 L401.8,742.2 L401.5,747.9 L401.2,753.7 L400.9,759.5 L400.7,765 L400.6,770.5 L400.4,776.3 L400.2,782.3 L400.1,788.3 L400,794.2 L400.1,799.8 L400.3,805.2 L400.7,810 L401.3,814.4 L402.3,818.7 L403.4,822.7 L404.6,826.5 L405.8,829.9 L406.9,832.8 L407.9,835.4 L408.5,837.3" stroke="#f3eadc" stroke-width="1.6" stroke-opacity="0.3" fill="none" stroke-linecap="round"/>
<path d="M351,722.1 L351,725.1 L351,729.1 L350.9,733.9 L350.8,739.3 L350.8,744.9 L350.8,750.8 L350.8,756.6 L350.8,762.1 L350.9,767.5 L351.1,773.1 L351.4,778.9 L351.7,784.7 L351.9,790.5 L352.1,796.2 L352,801.8 L351.7,807.1 L351.1,812.4 L350.3,817.9 L349.2,823.4 L348,828.8 L346.9,833.8 L345.8,838.2 L344.9,842 L344.2,844.9" stroke="#f8f3eb" stroke-width="2.6" stroke-opacity="0.4" fill="none" stroke-linecap="round"/>
<path d="M266.9,695.9 L266.8,698.9 L266.8,702.9 L266.7,707.7 L266.6,713.1 L266.6,718.7 L266.6,724.6 L266.7,730.4 L266.8,735.9 L267.2,741.3 L267.6,747.1 L268.2,752.9 L268.8,758.9 L269.4,764.7 L269.8,770.4 L270.1,775.8 L270.2,780.9 L270,785.7 L269.6,790.5 L268.9,795.2 L268.2,799.7 L267.5,803.8 L266.8,807.4 L266.2,810.5 L265.8,812.9" stroke="#cfb087" stroke-width="1.7" stroke-opacity="0.6" fill="none" stroke-linecap="round"/>
<path d="M306.1,711.8 L306.4,714.8 L306.7,718.8 L307.2,723.6 L307.7,729 L308.2,734.6 L308.6,740.5 L309.1,746.3 L309.4,751.8 L309.6,757.2 L309.7,762.9 L309.8,768.8 L309.9,774.7 L310,780.5 L310,786.2 L310.1,791.6 L310.2,796.8 L310.4,801.8 L310.6,806.8 L310.8,811.8 L311,816.5 L311.2,820.9 L311.4,824.8 L311.6,828.1 L311.7,830.6" stroke="#d5b98f" stroke-width="1.9" stroke-opacity="0.4" fill="none" stroke-linecap="round"/>
<path d="M436.9,728.5 L436.7,731.6 L436.3,735.6 L435.9,740.4 L435.4,745.7 L435,751.4 L434.6,757.2 L434.2,763 L433.9,768.5 L433.7,773.9 L433.5,779.3 L433.4,784.7 L433.3,790.3 L433.3,796 L433.2,801.7 L433,807.6 L432.8,813.5 L432.5,820 L432.2,827.2 L431.8,834.6 L431.3,842.1 L430.9,849.2 L430.5,855.6 L430.2,861 L430,865.1" stroke="#ece0cc" stroke-width="1.3" stroke-opacity="0.3" fill="none" stroke-linecap="round"/>
<path d="M310.4,706.7 L310.4,709.7 L310.4,713.8 L310.4,718.5 L310.5,723.9 L310.5,729.6 L310.5,735.4 L310.6,741.2 L310.7,746.7 L311,752.1 L311.4,757.7 L311.9,763.5 L312.5,769.3 L312.9,775 L313.1,780.8 L313.1,786.3 L312.8,791.7 L312.1,797.1 L310.9,802.8 L309.4,808.4 L307.8,814 L306.1,819.1 L304.6,823.8 L303.3,827.7 L302.4,830.6" stroke="#f8f3eb" stroke-width="1.2" stroke-opacity="0.4" fill="none" stroke-linecap="round"/>
<path d="M458,745.1 L458.5,748.2 L459.3,752.2 L460.2,757 L461.2,762.3 L462.1,768 L462.8,773.9 L463.1,779.6 L462.9,785.1 L462.1,790.6 L460.7,796.4 L458.9,802.4 L456.9,808.4 L454.9,814.3 L453,819.9 L451.5,825.3 L450.6,830.1 L450.3,834.7 L450.4,839.1 L450.8,843.3 L451.5,847.2 L452.2,850.8 L452.9,854 L453.5,856.6 L453.8,858.7" stroke="#f3eadc" stroke-width="2" stroke-opacity="0.5" fill="none" stroke-linecap="round"/>
<path d="M295.5,700.6 L295.5,703.6 L295.6,707.7 L295.8,712.4 L295.9,717.8 L296,723.5 L296,729.3 L295.9,735.1 L295.6,740.6 L295.1,746 L294.4,751.4 L293.5,757 L292.5,762.6 L291.6,768.3 L290.9,774 L290.4,779.8 L290.3,785.6 L290.7,791.8 L291.4,798.6 L292.4,805.6 L293.6,812.5 L294.8,819.1 L296,825.1 L296.9,830.1 L297.5,833.8" stroke="#f8f3eb" stroke-width="1.2" stroke-opacity="0.5" fill="none" stroke-linecap="round"/>
<path d="M406.2,723.4 L406.1,726.4 L406,730.4 L405.8,735.2 L405.7,740.6 L405.5,746.2 L405.2,752.1 L404.9,757.9 L404.6,763.4 L404.2,768.8 L403.7,774.6 L403.1,780.4 L402.4,786.3 L401.8,792.2 L401.3,797.9 L400.8,803.3 L400.4,808.4 L400.2,813.3 L400.1,818.2 L400.1,822.9 L400.1,827.5 L400.1,831.7 L400.2,835.4 L400.3,838.6 L400.3,841" stroke="#ece0cc" stroke-width="2.2" stroke-opacity="0.6" fill="none" stroke-linecap="round"/>
<path d="M456.8,744.5 L456.7,747.6 L456.6,751.6 L456.5,756.4 L456.3,761.7 L456.2,767.4 L456,773.2 L455.9,779 L455.7,784.5 L455.6,790 L455.4,795.8 L455.1,801.8 L454.9,807.8 L454.7,813.7 L454.6,819.4 L454.6,824.7 L454.8,829.5 L455.1,834 L455.6,838.2 L456.3,842.3 L457,846 L457.7,849.4 L458.3,852.3 L458.9,854.9 L459.3,856.8" stroke="#f8f3eb" stroke-width="2.3" stroke-opacity="0.5" fill="none" stroke-linecap="round"/>
<path d="M261.5,695 L261.3,698 L261.1,702.1 L260.9,706.8 L260.7,712.2 L260.5,717.9 L260.3,723.7 L260.2,729.5 L260.2,735 L260.3,740.5 L260.5,746.3 L260.7,752.3 L261,758.3 L261.3,764.2 L261.7,769.8 L262,775.2 L262.3,780 L262.5,784.5 L262.8,788.8 L263.1,792.9 L263.4,796.7 L263.6,800.1 L263.9,803.1 L264.1,805.7 L264.2,807.7" stroke="#f3eadc" stroke-width="1.6" stroke-opacity="0.4" fill="none" stroke-linecap="round"/>
<path d="M501.9,749.6 L501.9,752.7 L501.9,756.7 L501.9,761.5 L501.8,766.8 L501.8,772.5 L501.6,778.3 L501.3,784.1 L501,789.6 L500.3,794.9 L499.3,800.4 L498.2,805.8 L497,811.4 L496,817 L495.1,822.8 L494.7,828.6 L494.8,834.6 L495.5,841.1 L496.8,848.2 L498.5,855.7 L500.4,863.2 L502.4,870.3 L504.2,876.7 L505.8,882.1 L506.8,886.1" stroke="#cfb087" stroke-width="1.7" stroke-opacity="0.6" fill="none" stroke-linecap="round"/>
<path d="M504.1,743.9 L503.8,747 L503.2,751 L502.5,755.8 L501.8,761.1 L501.2,766.8 L500.7,772.6 L500.4,778.4 L500.5,783.9 L501,789.4 L501.9,795.3 L503.2,801.3 L504.5,807.3 L505.8,813.3 L506.9,818.9 L507.6,824.2 L507.8,828.9 L507.3,833.2 L506.3,837.2 L505,840.9 L503.4,844.3 L501.8,847.4 L500.3,850 L499,852.3 L498.2,854.1" stroke="#f3eadc" stroke-width="1.7" stroke-opacity="0.5" fill="none" stroke-linecap="round"/>
<path d="M350.6,726.7 L350.6,729.7 L350.6,733.7 L350.7,738.5 L350.7,743.9 L350.7,749.5 L350.6,755.4 L350.4,761.2 L350.1,766.7 L349.7,772.1 L349.2,777.6 L348.6,783.3 L347.9,789.1 L347.2,794.8 L346.5,800.5 L345.8,806.2 L345.2,811.7 L344.6,817.3 L344,823.3 L343.4,829.3 L342.8,835.3 L342.2,840.8 L341.7,845.8 L341.2,850 L340.9,853.2" stroke="#cfb087" stroke-width="1.1" stroke-opacity="0.5" fill="none" stroke-linecap="round"/>
<path d="M341.4,717.4 L341.1,720.5 L340.5,724.5 L339.9,729.3 L339.2,734.6 L338.6,740.3 L338,746.2 L337.5,751.9 L337.2,757.4 L337,762.8 L336.9,768.2 L337,773.6 L337.1,779.1 L337.2,784.8 L337.4,790.5 L337.7,796.4 L338,802.4 L338.3,809 L338.8,816.3 L339.4,824 L339.9,831.6 L340.5,838.9 L341.1,845.5 L341.5,851.1 L341.8,855.2" stroke="#f8f3eb" stroke-width="1.6" stroke-opacity="0.5" fill="none" stroke-linecap="round"/>
<path d="M451,743.2 L450.7,746.2 L450.3,750.2 L449.8,755 L449.3,760.4 L448.8,766 L448.5,771.9 L448.4,777.7 L448.6,783.2 L449.2,788.5 L450.3,793.9 L451.7,799.4 L453.2,804.9 L454.6,810.5 L455.7,816.3 L456.4,822.2 L456.4,828.2 L455.5,834.7 L454,842 L451.9,849.6 L449.6,857.2 L447.2,864.4 L445,871 L443.1,876.5 L441.8,880.6" stroke="#d5b98f" stroke-width="1.1" stroke-opacity="0.6" fill="none" stroke-linecap="round"/>
<path d="M345.9,726.2 L345.9,729.3 L346.1,733.3 L346.2,738.1 L346.3,743.4 L346.5,749.1 L346.7,754.9 L347,760.7 L347.3,766.2 L347.8,771.6 L348.4,777.1 L349.2,782.6 L350,788.2 L350.7,793.9 L351.2,799.6 L351.3,805.4 L351,811.2 L350.2,817.5 L348.9,824.3 L347.2,831.3 L345.3,838.3 L343.4,845 L341.6,851 L340.1,856 L339.1,859.8" stroke="#f3eadc" stroke-width="2" stroke-opacity="0.5" fill="none" stroke-linecap="round"/>
<g filter="url(#blur1)" fill="none" stroke="#cdb08a" stroke-width="3" stroke-opacity="0.45">
<path d="M386,815 C388,830 386,880 381,910 C377,930 371,945 365,957 C358,945 351,925 346,905 C341,885 338,872 335,864 C325,852 310,858 302,882"/>
<path d="M425,815 C425,820 424,850 423,880 C422,910 420,935 415,950 C405,944 398,935 392,925 C386,910 382,880 379,850"/>
<path d="M424,876 C429,879 436,883 446,891 C455,899 465,905 475,910 C477,914 479,922 481,932 C485,915 490,897 495,885 C505,884 515,880 519,872 C519,866 516,860 511,853 C511,850 515,845 519,840"/>
<path d="M302,882 C300,898 302,915 298,930 C285,930 270,926 258,920 C248,910 241,890 241,870"/>
</g>
<path d="M282.2,804.8 L281.7,810.3 L281.2,815.6 L280.6,820.5 L280.1,825.1 L279.5,829.6 L278.9,834 L278.3,838.3 L277.7,842.5 L277.1,846.6 L276.5,850.6 L276,854.5 L275.5,858.3 L275.1,862.1 L274.8,865.9 L274.5,869.7 L274.4,873.6 L274.3,877.6 L274.2,881.7 L274.2,885.9 L274.3,890 L274.4,894 L274.6,897.9 L274.8,901.6 L275.1,905.1 L275.4,908.3 L275.7,911.2 L276.1,913.6 L276.5,915.6 L277,917.3 L277.6,918.8 L278.3,920.2 L279.2,921.4 L280.1,922.5 L281.1,923.6 L282.1,924.6 L283,925.5" stroke="#f8f3eb" stroke-width="1.3" stroke-opacity="0.5" fill="none" stroke-linecap="round" stroke-linejoin="round"/>
<path d="M276.1,771.2 L275.9,776.1 L275.8,781.5 L275.6,787.1 L275.4,792.9 L275.2,798.7 L275,804.5 L274.8,810.1 L274.6,815.4 L274.4,820.2 L274.2,824.8 L273.9,829.3 L273.6,833.7 L273.3,838 L272.9,842.2 L272.6,846.3 L272.3,850.3 L272,854.3 L271.8,858.2 L271.6,862.1 L271.5,865.9 L271.5,869.8 L271.5,873.7 L271.6,877.8 L271.8,881.9 L272,886.1 L272.2,890.2 L272.5,894.2 L272.9,898.2 L273.2,901.9 L273.6,905.4 L274.1,908.6 L274.5,911.5 L275,914 L275.6,916 L276.2,917.8 L277,919.3 L277.9,920.6 L278.8,921.8 L279.8,922.9 L280.9,923.9 L281.9,924.8 L282.9,925.7" stroke="#f8f3eb" stroke-width="1.9" stroke-opacity="0.6" fill="none" stroke-linecap="round" stroke-linejoin="round"/>
<path d="M260.5,781 L260.5,786.6 L260.4,792.4 L260.3,798.2 L260.3,804 L260.2,809.6 L260.2,814.9 L260.2,819.7 L260.2,824.2 L260.1,828.5 L260,832.9 L259.9,837.1 L259.8,841.3 L259.7,845.5 L259.6,849.7 L259.6,853.8 L259.6,857.9 L259.7,862 L259.9,866.1 L260.3,870.2 L260.7,874.3 L261.1,878.5 L261.7,882.8 L262.2,887 L262.9,891.2 L263.6,895.4 L264.4,899.4 L265.2,903.2 L266.1,906.8 L267,910.2 L268,913.2 L269.1,916 L270.3,918.4 L271.7,920.5 L273.2,922.3 L274.8,923.7 L276.4,924.8 L278,925.6 L279.5,926.2 L280.9,926.7 L282.1,927.1 L283.2,927.4 L284.2,927.7" stroke="#cdb190" stroke-width="1.5" stroke-opacity="0.5" fill="none" stroke-linecap="round" stroke-linejoin="round"/>
<path d="M263.5,786.7 L263.5,792.5 L263.5,798.3 L263.5,804.1 L263.5,809.7 L263.6,815 L263.6,819.8 L263.6,824.3 L263.6,828.7 L263.5,833.1 L263.4,837.4 L263.3,841.6 L263.2,845.7 L263.1,849.9 L263.1,854 L263.1,858 L263.2,862.1 L263.4,866.1 L263.7,870.1 L264,874.1 L264.4,878.3 L264.9,882.5 L265.4,886.7 L265.9,890.9 L266.5,895 L267.2,899 L267.9,902.8 L268.6,906.3 L269.4,909.7 L270.2,912.6 L271.1,915.3 L272.1,917.6 L273.3,919.6 L274.5,921.2 L275.9,922.6 L277.3,923.7 L278.6,924.7 L280,925.4 L281.2,926.1" stroke="#ebdfcc" stroke-width="1.1" stroke-opacity="0.4" fill="none" stroke-linecap="round" stroke-linejoin="round"/>
<path d="M276.8,766.9 L276.5,771.2 L276.2,776.1 L275.8,781.5 L275.5,787.1 L275.1,792.9 L274.8,798.7 L274.5,804.5 L274.1,810.1 L273.8,815.4 L273.4,820.2 L273.1,824.8 L272.7,829.3 L272.3,833.6 L271.9,837.9 L271.4,842.1 L271,846.2 L270.6,850.3 L270.3,854.2 L270,858.2 L269.8,862.1 L269.7,866 L269.6,869.9 L269.7,873.8 L269.8,877.9 L269.9,882.1 L270.2,886.3 L270.4,890.4 L270.8,894.5 L271.1,898.4 L271.6,902.2 L272,905.7 L272.6,908.9 L273.1,911.9 L273.7,914.4 L274.4,916.6 L275.2,918.4 L276.1,920 L277.2,921.3 L278.2,922.5 L279.4,923.6 L280.5,924.5 L281.7,925.3 L282.7,926 L283.7,926.7 L284.4,927.4 L285,928" stroke="#f8f3eb" stroke-width="1.5" stroke-opacity="0.5" fill="none" stroke-linecap="round" stroke-linejoin="round"/>
<path d="M277.8,820.4 L277.2,825 L276.6,829.5 L276,833.9 L275.4,838.1 L274.7,842.3 L274.1,846.4 L273.6,850.4 L273,854.4 L272.6,858.3 L272.2,862.1 L271.9,865.9 L271.7,869.8 L271.6,873.7 L271.5,877.8 L271.6,882 L271.7,886.1 L271.8,890.3 L272,894.3 L272.3,898.2 L272.6,902 L273,905.5 L273.4,908.8 L273.9,911.7 L274.4,914.2 L275,916.3 L275.7,918.1 L276.5,919.7 L277.5,921 L278.5,922.2" stroke="#f1e6d6" stroke-width="1.8" stroke-opacity="0.4" fill="none" stroke-linecap="round" stroke-linejoin="round"/>
<path d="M290.9,782 L290.3,787.6 L289.6,793.4 L289,799.2 L288.4,805 L287.7,810.6 L287.1,815.8 L286.4,820.7 L285.8,825.4 L285.1,830 L284.4,834.4 L283.6,838.7 L282.9,842.8 L282.1,846.9 L281.4,850.8 L280.8,854.7 L280.2,858.4 L279.6,862.2 L279.1,865.8 L278.7,869.5 L278.4,873.3 L278.2,877.3 L278,881.4 L277.8,885.5 L277.7,889.6 L277.7,893.6 L277.7,897.5 L277.7,901.1 L277.8,904.6 L277.9,907.7 L278.1,910.6 L278.2,912.9 L278.3,914.7 L278.6,916.3 L278.9,917.7 L279.4,919.1 L280,920.4 L280.8,921.6 L281.6,922.8 L282.4,923.9 L283.3,925 L284.1,926 L284.7,927" stroke="#cdb190" stroke-width="1.4" stroke-opacity="0.5" fill="none" stroke-linecap="round" stroke-linejoin="round"/>
<path d="M289.1,815.9 L288.5,820.8 L287.9,825.5 L287.2,830.1 L286.5,834.5 L285.8,838.8 L285,843 L284.3,847 L283.6,850.9 L282.9,854.8 L282.3,858.5 L281.8,862.2 L281.3,865.8 L280.8,869.4 L280.5,873.2 L280.2,877.2 L280,881.3 L279.8,885.3 L279.6,889.4 L279.5,893.4 L279.4,897.2 L279.4,900.9 L279.4,904.3 L279.4,907.4 L279.5,910.2 L279.5,912.5 L279.5,914.2 L279.6,915.7 L279.7,917.1 L280.1,918.4 L280.5,919.7 L281.2,921 L281.9,922.3" stroke="#ebdfcc" stroke-width="0.9" stroke-opacity="0.6" fill="none" stroke-linecap="round" stroke-linejoin="round"/>
<path d="M251.1,819.3 L251.3,823.7 L251.5,828.1 L251.7,832.3 L251.8,836.6 L251.9,840.8 L252.1,845.1 L252.3,849.3 L252.5,853.5 L252.8,857.8 L253.2,862 L253.7,866.2 L254.2,870.5 L254.9,874.7 L255.6,878.9 L256.4,883.2 L257.3,887.5 L258.2,891.8 L259.1,895.9 L260.2,900 L261.3,903.9 L262.4,907.5 L263.6,911 L264.9,914.1 L266.2,917 L267.8,919.6 L269.6,921.8 L271.5,923.6 L273.4,925.1 L275.3,926.1 L277.1,926.8 L278.8,927.3 L280.4,927.6 L281.8,927.8 L283,927.8" stroke="#f8f3eb" stroke-width="1.8" stroke-opacity="0.6" fill="none" stroke-linecap="round" stroke-linejoin="round"/>
<path d="M257.3,770.6 L257.3,775.5 L257.3,780.9 L257.2,786.5 L257.2,792.3 L257.2,798.1 L257.1,803.9 L257.1,809.5 L257.1,814.8 L257.1,819.6 L257.1,824 L257.1,828.4 L257,832.7 L256.9,836.9 L256.8,841.2 L256.8,845.4 L256.8,849.5 L256.8,853.7 L256.9,857.9 L257.1,862 L257.4,866.2 L257.7,870.3 L258.2,874.5 L258.7,878.7 L259.4,883 L260,887.2 L260.8,891.5 L261.6,895.6 L262.4,899.7 L263.4,903.5 L264.4,907.2 L265.4,910.6 L266.5,913.6 L267.7,916.5 L269.1,919 L270.7,921.2 L272.4,922.9 L274.1,924.3 L275.9,925.4 L277.6,926.2 L279.2,926.8 L280.6,927.2 L281.9,927.4 L283.1,927.6" stroke="#cdb190" stroke-width="1.1" stroke-opacity="0.6" fill="none" stroke-linecap="round" stroke-linejoin="round"/>
<path d="M254.9,814.7 L255.1,819.5 L255.2,823.9 L255.2,828.3 L255.3,832.6 L255.3,836.8 L255.3,841.1 L255.3,845.3 L255.4,849.5 L255.5,853.6 L255.7,857.8 L256,862 L256.3,866.2 L256.8,870.4 L257.3,874.5 L257.9,878.7 L258.6,883 L259.3,887.3 L260.1,891.5 L261,895.7 L261.9,899.7 L262.9,903.6 L263.9,907.2 L265,910.6 L266.2,913.7 L267.4,916.6 L268.8,919.1 L270.5,921.3 L272.2,923.1 L274,924.5 L275.8,925.6 L277.5,926.3 L279.1,926.9 L280.6,927.3 L281.9,927.5" stroke="#f8f3eb" stroke-width="1.8" stroke-opacity="0.5" fill="none" stroke-linecap="round" stroke-linejoin="round"/>
<path d="M280.2,804.7 L279.8,810.3 L279.4,815.6 L279,820.4 L278.5,825 L278,829.6 L277.5,834 L277,838.2 L276.5,842.4 L276,846.5 L275.5,850.5 L275,854.4 L274.6,858.3 L274.3,862.1 L274,865.9 L273.9,869.7 L273.8,873.6 L273.7,877.7 L273.7,881.8 L273.8,885.9 L273.9,890 L274.1,894 L274.3,897.9 L274.6,901.7 L274.9,905.1 L275.2,908.4 L275.6,911.2 L275.9,913.7 L276.4,915.7 L276.9,917.3 L277.5,918.9 L278.3,920.2 L279.1,921.4 L280.1,922.6 L281.1,923.6 L282,924.6" stroke="#cdb190" stroke-width="1" stroke-opacity="0.5" fill="none" stroke-linecap="round" stroke-linejoin="round"/>
<path d="M332.5,807.2 L333.7,812.3 L335,817.7 L336.2,823.4 L337.5,829.2 L338.7,834.9 L340,840.6 L341.2,846 L342.4,851.2 L343.6,856.2 L344.8,861.3 L346,866.4 L347.2,871.6 L348.4,876.7 L349.5,881.8 L350.7,886.9 L351.8,891.9 L352.9,896.8 L354,901.5 L355,906.1 L355.9,910.5 L356.9,914.9 L357.8,919.3 L358.6,923.7 L359.5,928.1 L360.3,932.3 L361.1,936.5 L361.8,940.4 L362.6,944 L363.2,947.4" stroke="#d6bc98" stroke-width="1.2" stroke-opacity="0.4" fill="none" stroke-linecap="round" stroke-linejoin="round"/>
<path d="M349.9,805.2 L350.3,810.4 L350.8,815.9 L351.3,821.7 L351.8,827.5 L352.3,833.3 L352.8,839 L353.4,844.6 L353.9,849.8 L354.4,854.8 L354.9,860 L355.4,865.2 L356,870.4 L356.6,875.6 L357.2,880.8 L357.8,885.9 L358.4,891 L359,895.9 L359.6,900.8 L360.1,905.4 L360.6,909.9 L361,914.4 L361.5,918.8 L362,923.3 L362.4,927.7 L362.8,932.1 L363.2,936.2 L363.6,940.2" stroke="#cdb190" stroke-width="1" stroke-opacity="0.6" fill="none" stroke-linecap="round" stroke-linejoin="round"/>
<path d="M360.5,809.2 L360.7,814.8 L360.9,820.5 L361.1,826.4 L361.4,832.3 L361.6,838 L361.8,843.5 L362,848.7 L362.2,853.8 L362.5,859 L362.7,864.2 L363,869.4 L363.3,874.7 L363.6,879.9 L363.9,885.1 L364.1,890.2 L364.4,895.2 L364.6,900.1 L364.8,904.8 L364.9,909.4 L365.1,913.9 L365.2,918.4 L365.3,922.9 L365.4,927.4 L365.4,931.8" stroke="#ebdfcc" stroke-width="1.4" stroke-opacity="0.5" fill="none" stroke-linecap="round" stroke-linejoin="round"/>
<path d="M338,829.1 L339.3,834.9 L340.5,840.5 L341.6,846 L342.8,851.2 L343.9,856.2 L345.1,861.3 L346.3,866.4 L347.4,871.5 L348.6,876.7 L349.8,881.8 L350.9,886.9 L352,891.9 L353.1,896.7 L354.1,901.5 L355.1,906.1 L356,910.5 L356.9,914.8 L357.8,919.3 L358.7,923.7 L359.5,928.1 L360.3,932.3 L361.1,936.5" stroke="#d6bc98" stroke-width="1.1" stroke-opacity="0.6" fill="none" stroke-linecap="round" stroke-linejoin="round"/>
<path d="M342.4,793.2 L343,796.8 L343.6,801.1 L344.3,805.8 L345.1,811 L345.9,816.5 L346.7,822.2 L347.5,828 L348.3,833.8 L349.1,839.5 L349.9,845 L350.7,850.2 L351.4,855.2 L352.2,860.3 L353,865.5 L353.8,870.7 L354.6,875.9 L355.4,881 L356.2,886.1 L357,891.2 L357.7,896.1 L358.4,900.9 L359.1,905.6 L359.7,910 L360.3,914.4 L360.8,918.9 L361.4,923.4 L361.9,927.8 L362.4,932.1" stroke="#f1e6d6" stroke-width="1" stroke-opacity="0.6" fill="none" stroke-linecap="round" stroke-linejoin="round"/>
<path d="M362.1,803.8 L362,809.1 L362,814.6 L362,820.4 L362.1,826.3 L362.1,832.2 L362.2,837.9 L362.3,843.5 L362.3,848.7 L362.4,853.8 L362.5,859 L362.6,864.2 L362.8,869.5 L363,874.7 L363.2,880 L363.4,885.2 L363.6,890.3 L363.8,895.3 L364,900.2 L364.2,904.9 L364.3,909.5 L364.5,913.9 L364.6,918.5 L364.7,923 L364.8,927.5 L364.9,931.8 L365,936 L365.1,940 L365.2,943.7" stroke="#ebdfcc" stroke-width="1.9" stroke-opacity="0.6" fill="none" stroke-linecap="round" stroke-linejoin="round"/>
<path d="M337.4,801.8 L338,806.6 L338.8,811.7 L339.5,817.2 L340.4,822.9 L341.2,828.7 L342,834.5 L342.9,840.2 L343.7,845.7 L344.6,850.9 L345.4,856 L346.3,861.1 L347.2,866.3 L348.1,871.4 L349.1,876.6 L350,881.8 L351,886.9 L352,891.9 L352.9,896.8 L353.9,901.5 L354.8,906.1 L355.6,910.5 L356.5,914.9 L357.4,919.3 L358.2,923.7 L359.1,928.1 L359.9,932.4 L360.7,936.5 L361.5,940.4 L362.3,944.1 L363,947.4 L363.7,950.4" stroke="#d6bc98" stroke-width="1.5" stroke-opacity="0.5" fill="none" stroke-linecap="round" stroke-linejoin="round"/>
<path d="M344.9,796.6 L345.2,800.9 L345.5,805.7 L345.9,810.9 L346.4,816.4 L346.9,822.2 L347.4,828 L348,833.8 L348.5,839.6 L349.1,845.1 L349.6,850.3 L350.2,855.4 L350.8,860.5 L351.4,865.7 L352.1,870.9 L352.8,876.1 L353.5,881.3 L354.2,886.4 L355,891.5 L355.7,896.4 L356.4,901.2 L357.1,905.8 L357.8,910.3 L358.5,914.7 L359.1,919.1 L359.8,923.6 L360.4,928 L361.1,932.3" stroke="#f1e6d6" stroke-width="1.5" stroke-opacity="0.3" fill="none" stroke-linecap="round" stroke-linejoin="round"/>
<path d="M362.4,803.8 L362.5,809 L362.6,814.6 L362.7,820.3 L362.8,826.2 L363,832.1 L363.2,837.8 L363.3,843.3 L363.4,848.6 L363.6,853.6 L363.7,858.8 L363.9,864 L364.1,869.3 L364.3,874.5 L364.6,879.8 L364.8,885 L365,890.1 L365.2,895.1 L365.3,900 L365.5,904.8 L365.5,909.3 L365.6,913.8 L365.7,918.4 L365.7,922.9 L365.8,927.4 L365.8,931.7 L365.8,936 L365.7,940 L365.6,943.7 L365.5,947.1 L365.4,950.2 L365.2,952.8" stroke="#ebdfcc" stroke-width="1.2" stroke-opacity="0.4" fill="none" stroke-linecap="round" stroke-linejoin="round"/>
<path d="M343.1,801.1 L343.6,805.9 L344.3,811.1 L345,816.6 L345.7,822.3 L346.4,828.1 L347.1,833.9 L347.9,839.6 L348.6,845.1 L349.3,850.3 L350,855.4 L350.8,860.5 L351.6,865.7 L352.3,870.9 L353.1,876.1 L353.9,881.2 L354.7,886.3 L355.5,891.4 L356.3,896.3 L357,901.1 L357.8,905.7 L358.4,910.2 L359.1,914.6 L359.7,919 L360.4,923.5 L361,927.9 L361.6,932.2 L362.2,936.3 L362.7,940.3" stroke="#ebdfcc" stroke-width="1.8" stroke-opacity="0.4" fill="none" stroke-linecap="round" stroke-linejoin="round"/>
<path d="M363.7,794.5 L363.5,798.8 L363.3,803.7 L363.2,808.9 L363.2,814.5 L363.2,820.3 L363.2,826.2 L363.2,832 L363.3,837.8 L363.3,843.4 L363.3,848.6 L363.3,853.7 L363.4,858.8 L363.5,864.1 L363.6,869.3 L363.8,874.6 L364,879.9 L364.1,885.1 L364.3,890.2 L364.5,895.2 L364.6,900.1 L364.8,904.8 L364.9,909.4 L365,913.9 L365,918.4 L365.1,923 L365.2,927.4 L365.3,931.8" stroke="#f8f3eb" stroke-width="0.9" stroke-opacity="0.4" fill="none" stroke-linecap="round" stroke-linejoin="round"/>
<path d="M341.4,806.2 L342.3,811.3 L343.2,816.8 L344.1,822.5 L345.1,828.3 L346.1,834.1 L347,839.7 L347.9,845.2 L348.8,850.4 L349.7,855.4 L350.6,860.5 L351.5,865.7 L352.4,870.9 L353.3,876 L354.2,881.2 L355.1,886.3 L356,891.3 L356.8,896.2 L357.6,901 L358.3,905.7 L359,910.1 L359.7,914.5 L360.3,919 L360.9,923.4 L361.5,927.8 L362.1,932.1 L362.6,936.3 L363.1,940.2 L363.6,943.9 L364,947.3 L364.4,950.3 L364.7,952.9 L365,955" stroke="#f8f3eb" stroke-width="1.6" stroke-opacity="0.5" fill="none" stroke-linecap="round" stroke-linejoin="round"/>
<path d="M405.1,821.8 L405.1,827.6 L405,833.4 L405.1,839.1 L405.1,844.6 L405.2,849.8 L405.4,854.8 L405.6,860 L405.8,865.3 L406.1,870.6 L406.4,875.9 L406.8,881.2 L407.2,886.4 L407.6,891.4 L408,896.4 L408.4,901.1 L408.8,905.6 L409.2,909.8 L409.7,913.9 L410.2,917.9 L410.7,921.8 L411.3,925.6 L411.9,929.2" stroke="#f1e6d6" stroke-width="1" stroke-opacity="0.3" fill="none" stroke-linecap="round" stroke-linejoin="round"/>
<path d="M417.2,796.1 L417.1,800.4 L416.9,805.2 L416.8,810.4 L416.7,815.8 L416.5,821.5 L416.4,827.3 L416.3,833 L416.2,838.6 L416.2,844 L416.1,849.1 L416.1,854.1 L416.1,859.2 L416.1,864.4 L416.2,869.7 L416.2,875 L416.2,880.2 L416.3,885.4 L416.3,890.5 L416.3,895.4 L416.3,900.1 L416.3,904.7 L416.2,908.9 L416.2,912.9 L416.2,916.9 L416.2,920.8 L416.2,924.7 L416.2,928.4 L416.1,931.9 L416.1,935.2 L416,938.4 L415.9,941.2" stroke="#f1e6d6" stroke-width="0.9" stroke-opacity="0.6" fill="none" stroke-linecap="round" stroke-linejoin="round"/>
<path d="M418.1,800.4 L417.6,805.2 L417.2,810.3 L416.7,815.8 L416.3,821.5 L415.9,827.3 L415.6,833 L415.3,838.7 L415,844.1 L414.7,849.2 L414.5,854.2 L414.4,859.3 L414.2,864.6 L414.2,869.9 L414.1,875.2 L414.1,880.4 L414.1,885.6 L414.1,890.7 L414.1,895.6 L414.1,900.4 L414.2,904.9 L414.2,909.2 L414.2,913.2 L414.3,917.2 L414.4,921.1 L414.6,925 L414.8,928.6 L414.9,932.1 L415.1,935.5 L415.2,938.5 L415.2,941.4 L415.2,943.9" stroke="#cdb190" stroke-width="1" stroke-opacity="0.5" fill="none" stroke-linecap="round" stroke-linejoin="round"/>
<path d="M400.4,833.6 L400.6,839.3 L400.8,844.9 L401.1,850.1 L401.4,855.1 L401.8,860.3 L402.2,865.6 L402.7,870.9 L403.2,876.2 L403.7,881.5 L404.3,886.7 L404.8,891.7 L405.4,896.7 L406,901.4 L406.6,905.9 L407.2,910.1 L407.8,914.2 L408.5,918.2 L409.2,922.1 L409.9,925.8 L410.7,929.4 L411.4,932.8 L412.1,936.1 L412.8,939 L413.5,941.7 L414.1,944.2" stroke="#ebdfcc" stroke-width="1.2" stroke-opacity="0.4" fill="none" stroke-linecap="round" stroke-linejoin="round"/>
<path d="M414,821.6 L413.5,827.4 L413.1,833.1 L412.7,838.8 L412.3,844.2 L412,849.3 L411.8,854.4 L411.6,859.5 L411.4,864.8 L411.4,870.1 L411.3,875.4 L411.3,880.7 L411.4,885.9 L411.5,891 L411.6,895.9 L411.7,900.7 L411.8,905.2 L412,909.5 L412.1,913.5 L412.4,917.5 L412.7,921.4 L413,925.3 L413.3,928.9 L413.7,932.4 L414,935.7 L414.3,938.7 L414.6,941.5 L414.8,944 L414.9,946.2 L415,948" stroke="#cdb190" stroke-width="1.8" stroke-opacity="0.6" fill="none" stroke-linecap="round" stroke-linejoin="round"/>
<path d="M401.1,822 L401.1,827.8 L401.2,833.6 L401.3,839.3 L401.5,844.8 L401.7,850 L401.9,855.1 L402.2,860.3 L402.6,865.6 L403,870.9 L403.5,876.2 L403.9,881.5 L404.4,886.6 L405,891.7 L405.5,896.6 L406.1,901.4 L406.6,905.9 L407.2,910.1 L407.8,914.2 L408.5,918.2 L409.2,922.1 L409.9,925.8 L410.6,929.4 L411.4,932.8 L412.1,936.1 L412.8,939 L413.5,941.7 L414.1,944.2" stroke="#f1e6d6" stroke-width="2" stroke-opacity="0.4" fill="none" stroke-linecap="round" stroke-linejoin="round"/>
<path d="M396,805.7 L396.5,810.8 L397,816.3 L397.4,822.1 L397.9,827.9 L398.5,833.7 L399,839.4 L399.5,844.9 L400.1,850.1 L400.7,855.2 L401.4,860.4 L402,865.6 L402.7,870.9 L403.4,876.2 L404.1,881.4 L404.8,886.6 L405.4,891.7 L406.1,896.6 L406.8,901.3 L407.4,905.8 L408,910 L408.7,914 L409.3,918 L410,921.9 L410.7,925.7 L411.4,929.3 L412,932.7 L412.7,935.9 L413.3,938.9 L413.8,941.7 L414.3,944.1 L414.7,946.2 L415,948" stroke="#d6bc98" stroke-width="1.6" stroke-opacity="0.5" fill="none" stroke-linecap="round" stroke-linejoin="round"/>
<path d="M392.9,805.7 L393,810.9 L393.2,816.4 L393.4,822.2 L393.6,828 L393.8,833.9 L394.1,839.6 L394.5,845.2 L394.9,850.5 L395.4,855.6 L395.9,860.8 L396.5,866.1 L397.1,871.4 L397.8,876.7 L398.5,882 L399.3,887.2 L400,892.3 L400.9,897.2 L401.7,901.9 L402.5,906.4 L403.4,910.6 L404.3,914.7 L405.3,918.7 L406.3,922.6 L407.3,926.3 L408.4,929.9 L409.4,933.2 L410.5,936.4 L411.5,939.3" stroke="#f1e6d6" stroke-width="0.9" stroke-opacity="0.5" fill="none" stroke-linecap="round" stroke-linejoin="round"/>
<path d="M411.7,800.5 L411.3,805.3 L410.8,810.5 L410.4,816 L410,821.7 L409.7,827.5 L409.4,833.3 L409.1,839 L408.9,844.4 L408.7,849.6 L408.6,854.6 L408.5,859.8 L408.5,865.1 L408.6,870.4 L408.7,875.7 L408.8,881 L409,886.2 L409.2,891.2 L409.5,896.2 L409.7,900.9 L410,905.4 L410.3,909.7 L410.6,913.8 L411,917.8 L411.4,921.7 L411.9,925.5 L412.4,929.1 L412.8,932.6 L413.3,935.8 L413.8,938.8 L414.2,941.6 L414.5,944.1" stroke="#d6bc98" stroke-width="1" stroke-opacity="0.4" fill="none" stroke-linecap="round" stroke-linejoin="round"/>
<path d="M398.3,827.9 L398.6,833.7 L399,839.4 L399.5,844.9 L399.9,850.1 L400.4,855.2 L401,860.4 L401.5,865.7 L402.1,871 L402.8,876.3 L403.4,881.5 L404,886.7 L404.7,891.7 L405.4,896.7 L406,901.4 L406.7,905.9 L407.3,910.1 L407.9,914.2 L408.6,918.1 L409.4,922 L410.1,925.8 L410.8,929.4" stroke="#cdb190" stroke-width="1.8" stroke-opacity="0.5" fill="none" stroke-linecap="round" stroke-linejoin="round"/>
<path d="M387.3,801.1 L387.8,805.8 L388.3,811 L388.9,816.6 L389.5,822.3 L390.1,828.1 L390.7,834 L391.4,839.8 L392.1,845.3 L392.8,850.6 L393.6,855.7 L394.4,860.9 L395.2,866.2 L396.1,871.5 L397,876.8 L397.9,882.1 L398.9,887.2 L399.8,892.3 L400.8,897.2 L401.7,901.9 L402.7,906.4 L403.6,910.6 L404.6,914.7 L405.6,918.6 L406.6,922.5 L407.6,926.2 L408.7,929.8 L409.7,933.2 L410.7,936.3 L411.7,939.3" stroke="#f1e6d6" stroke-width="1.3" stroke-opacity="0.5" fill="none" stroke-linecap="round" stroke-linejoin="round"/>
<path d="M397.4,790.1 L397.7,793 L398.1,796.6 L398.4,800.8 L398.7,805.6 L399.1,810.8 L399.4,816.3 L399.8,822 L400.2,827.8 L400.6,833.6 L401,839.3 L401.5,844.8 L402,850 L402.5,855.1 L403,860.2 L403.6,865.5 L404.2,870.8 L404.7,876.1 L405.4,881.3 L406,886.5 L406.6,891.5 L407.1,896.5 L407.7,901.2 L408.3,905.7 L408.8,909.9 L409.4,913.9 L410,917.9 L410.6,921.8 L411.2,925.6 L411.8,929.2 L412.4,932.6 L413,935.9 L413.5,938.9 L414,941.6 L414.4,944.1 L414.8,946.2 L415,948" stroke="#f8f3eb" stroke-width="0.9" stroke-opacity="0.6" fill="none" stroke-linecap="round" stroke-linejoin="round"/>
<path d="M475.8,779.1 L475.9,782.1 L476.1,785.8 L476.4,790.2 L476.6,795.1 L476.9,800.4 L477.2,806.1 L477.5,811.9 L477.9,817.7 L478.2,823.5 L478.5,829 L478.8,834.3 L479.1,839.1 L479.3,843.6 L479.6,848.1 L479.8,852.5 L480.1,856.8 L480.3,861.1 L480.5,865.3 L480.7,869.5 L480.9,873.6 L481.1,877.6 L481.2,881.6 L481.4,885.5 L481.4,889.3 L481.5,893.2 L481.6,897.1 L481.6,901.1 L481.7,905.1 L481.7,909 L481.7,912.8 L481.7,916.4 L481.7,919.8 L481.6,922.9 L481.4,925.6 L481.2,928 L481,930" stroke="#f8f3eb" stroke-width="1" stroke-opacity="0.5" fill="none" stroke-linecap="round" stroke-linejoin="round"/>
<path d="M496.9,777.4 L496.5,780.4 L496.1,784.2 L495.8,788.7 L495.5,793.6 L495.3,799 L495,804.6 L494.8,810.5 L494.5,816.3 L494.3,822.1 L494.1,827.7 L493.8,832.9 L493.5,837.7 L493.1,842.2 L492.8,846.6 L492.5,851 L492.2,855.4 L491.8,859.7 L491.5,863.9 L491.1,868.2 L490.7,872.3 L490.3,876.4 L489.8,880.5 L489.3,884.5 L488.8,888.4 L488.3,892.4 L487.7,896.4 L487.2,900.4 L486.6,904.5 L486.1,908.4 L485.5,912.3 L484.8,916 L484.2,919.4 L483.4,922.6 L482.7,925.5 L481.9,928" stroke="#ebdfcc" stroke-width="1.7" stroke-opacity="0.4" fill="none" stroke-linecap="round" stroke-linejoin="round"/>
<path d="M434.4,785.4 L435.5,789 L436.7,793.3 L438,798.1 L439.3,803.4 L440.6,809 L441.9,814.8 L443.3,820.6 L444.6,826.4 L446,831.9 L447.4,837.2 L448.7,842.1 L450.1,846.7 L451.4,851.2 L452.8,855.6 L454.2,859.9 L455.6,864.1 L457,868.2 L458.4,872.3 L459.8,876.3 L461.2,880.1 L462.6,883.9 L463.9,887.7 L465.3,891.3 L466.7,895 L468,898.8 L469.4,902.6 L470.8,906.4 L472.2,910.2 L473.5,913.8" stroke="#f8f3eb" stroke-width="1.1" stroke-opacity="0.4" fill="none" stroke-linecap="round" stroke-linejoin="round"/>
<path d="M496.6,780.4 L495.8,784.3 L495,788.7 L494.3,793.7 L493.6,799.1 L492.9,804.8 L492.3,810.7 L491.6,816.6 L491,822.4 L490.5,828 L489.9,833.2 L489.3,838.1 L488.8,842.6 L488.3,847.1 L487.8,851.6 L487.3,855.9 L486.9,860.3 L486.5,864.6 L486.1,868.8 L485.8,872.9 L485.5,877 L485.1,881.1 L484.8,885.1 L484.5,889 L484.2,892.9 L483.9,896.8 L483.6,900.9 L483.4,904.9 L483.2,908.8 L482.9,912.6 L482.7,916.3 L482.4,919.7" stroke="#cdb190" stroke-width="0.9" stroke-opacity="0.3" fill="none" stroke-linecap="round" stroke-linejoin="round"/>
<path d="M452,802.4 L453,808 L454.1,813.8 L455.2,819.6 L456.3,825.3 L457.4,830.9 L458.5,836.2 L459.6,841 L460.6,845.6 L461.7,850.1 L462.7,854.4 L463.8,858.8 L464.8,863 L465.8,867.1 L466.8,871.2 L467.8,875.2 L468.8,879.2 L469.7,883 L470.7,886.8 L471.6,890.5 L472.4,894.3 L473.3,898.2 L474.2,902 L475.1,905.9 L475.9,909.7 L476.8,913.4 L477.6,916.9" stroke="#cdb190" stroke-width="1.1" stroke-opacity="0.4" fill="none" stroke-linecap="round" stroke-linejoin="round"/>
<path d="M442,803.2 L443.5,808.8 L445,814.5 L446.5,820.3 L448,826.1 L449.5,831.6 L450.9,836.9 L452.4,841.8 L453.8,846.3 L455.2,850.8 L456.6,855.2 L458,859.4 L459.4,863.7 L460.8,867.8 L462.1,871.8 L463.4,875.8 L464.7,879.7 L466,883.5 L467.2,887.3 L468.4,890.9 L469.5,894.7 L470.7,898.5 L471.9,902.3 L473,906.2 L474.1,909.9 L475.2,913.6 L476.3,917.1" stroke="#ebdfcc" stroke-width="1.4" stroke-opacity="0.6" fill="none" stroke-linecap="round" stroke-linejoin="round"/>
<path d="M461.6,807.3 L462.6,813.1 L463.5,818.9 L464.4,824.7 L465.2,830.2 L466.1,835.5 L466.9,840.3 L467.7,844.8 L468.6,849.3 L469.4,853.7 L470.1,858 L470.9,862.2 L471.7,866.4 L472.4,870.5 L473.1,874.6 L473.8,878.5 L474.5,882.4 L475.1,886.3 L475.7,890 L476.2,893.8 L476.8,897.7 L477.4,901.7 L477.9,905.6 L478.4,909.4 L478.9,913.1 L479.4,916.7 L479.8,920 L480.2,923 L480.5,925.8 L480.8,928.1 L481,930" stroke="#cdb190" stroke-width="1.4" stroke-opacity="0.3" fill="none" stroke-linecap="round" stroke-linejoin="round"/>
<path d="M472.1,824 L472.7,829.6 L473.2,834.8 L473.8,839.6 L474.3,844.1 L474.8,848.6 L475.3,853 L475.8,857.3 L476.3,861.6 L476.8,865.8 L477.2,869.9 L477.6,874 L478,878 L478.4,881.9 L478.8,885.8 L479.1,889.6 L479.3,893.5 L479.6,897.4 L479.9,901.3 L480.1,905.3 L480.4,909.2 L480.6,912.9 L480.8,916.5 L480.9,919.9 L481,922.9" stroke="#f8f3eb" stroke-width="1.5" stroke-opacity="0.4" fill="none" stroke-linecap="round" stroke-linejoin="round"/>
<path d="M470.2,795.6 L470.5,801 L470.8,806.6 L471.1,812.4 L471.5,818.2 L471.8,824 L472.2,829.6 L472.5,834.9 L472.8,839.7 L473.2,844.3 L473.5,848.7 L473.9,853.2 L474.3,857.5 L474.7,861.8 L475.1,866 L475.5,870.1 L475.9,874.2 L476.3,878.2 L476.6,882.2 L477,886 L477.4,889.8 L477.7,893.7 L478.1,897.6 L478.4,901.5 L478.8,905.4 L479.2,909.3 L479.5,913 L479.9,916.6 L480.2,919.9 L480.5,923 L480.7,925.7 L480.9,928.1 L481,930" stroke="#f8f3eb" stroke-width="1.2" stroke-opacity="0.3" fill="none" stroke-linecap="round" stroke-linejoin="round"/>
<path d="M455.5,813.7 L456.2,819.5 L457,825.3 L457.7,830.9 L458.5,836.2 L459.3,841.1 L460,845.7 L460.8,850.1 L461.7,854.6 L462.5,858.9 L463.4,863.2 L464.3,867.3 L465.2,871.4 L466.1,875.5 L467,879.4 L468,883.3 L468.9,887 L469.8,890.8 L470.7,894.5 L471.7,898.4 L472.7,902.2 L473.7,906.1 L474.7,909.9 L475.6,913.5 L476.6,917" stroke="#ebdfcc" stroke-width="1.1" stroke-opacity="0.6" fill="none" stroke-linecap="round" stroke-linejoin="round"/>
<path d="M480.2,789.9 L480.3,794.8 L480.4,800.2 L480.6,805.8 L480.7,811.6 L480.9,817.4 L481.1,823.2 L481.2,828.8 L481.4,834 L481.5,838.9 L481.6,843.4 L481.7,847.8 L481.9,852.2 L482,856.6 L482.1,860.9 L482.2,865.1 L482.3,869.3 L482.4,873.4 L482.4,877.4 L482.5,881.4 L482.5,885.3 L482.5,889.2 L482.5,893.1 L482.4,897 L482.4,901 L482.4,905 L482.3,908.9" stroke="#f1e6d6" stroke-width="0.9" stroke-opacity="0.5" fill="none" stroke-linecap="round" stroke-linejoin="round"/>
<path d="M489.7,816.7 L489.3,822.5 L488.8,828.1 L488.4,833.4 L488,838.2 L487.6,842.7 L487.2,847.2 L486.8,851.7 L486.5,856 L486.1,860.4 L485.8,864.6 L485.6,868.9 L485.3,873 L485,877.1 L484.8,881.1 L484.5,885.1 L484.2,889 L484,892.9 L483.7,896.9 L483.5,900.9 L483.3,904.9 L483.1,908.8 L482.9,912.6 L482.6,916.3 L482.4,919.7 L482.1,922.8 L481.8,925.6 L481.4,928" stroke="#d6bc98" stroke-width="1.2" stroke-opacity="0.4" fill="none" stroke-linecap="round" stroke-linejoin="round"/>
<path d="M493.5,778.9 L493.8,781.5 L494.3,784.7 L495,788.5 L495.9,792.8 L496.9,797.4 L497.9,802.2 L499.1,807.1 L500.2,812.1 L501.4,817 L502.5,821.7 L503.6,826.1 L504.5,830.1 L505.4,834 L506.4,837.9 L507.3,841.8 L508.3,845.7 L509.3,849.6 L510.2,853.3 L511.2,856.8 L512,860.1 L512.9,863.1" stroke="#f8f3eb" stroke-width="1.2" stroke-opacity="0.4" fill="none" stroke-linecap="round" stroke-linejoin="round"/>
<path d="M493,781.8 L493.8,784.9 L494.8,788.6 L496,792.8 L497.2,797.3 L498.5,802 L499.8,806.9 L501.2,811.8 L502.5,816.7 L503.8,821.3 L504.9,825.7 L506,829.7 L506.9,833.6 L507.8,837.5 L508.8,841.5 L509.7,845.4 L510.5,849.3 L511.4,853 L512.1,856.6 L512.9,859.9 L513.5,863" stroke="#f1e6d6" stroke-width="1.9" stroke-opacity="0.3" fill="none" stroke-linecap="round" stroke-linejoin="round"/>
<path d="M490.9,794.3 L492.3,798.8 L493.7,803.5 L495.3,808.3 L496.8,813.1 L498.3,817.9 L499.7,822.5 L501.1,826.8 L502.3,830.7 L503.5,834.5 L504.7,838.3 L505.9,842.2 L507.1,846.1 L508.2,849.8 L509.4,853.5 L510.5,857" stroke="#f8f3eb" stroke-width="1.2" stroke-opacity="0.4" fill="none" stroke-linecap="round" stroke-linejoin="round"/>
<path d="M503.4,795.4 L504.1,800.3 L505,805.3 L505.8,810.4 L506.7,815.4 L507.5,820.3 L508.2,824.8 L508.8,828.9 L509.4,832.9 L510,836.9 L510.6,841 L511.2,845 L511.9,849 L512.5,852.8 L513,856.4 L513.5,859.8" stroke="#d6bc98" stroke-width="1" stroke-opacity="0.5" fill="none" stroke-linecap="round" stroke-linejoin="round"/>
<path d="M481.9,785.1 L483.2,788.2 L484.6,791.7 L486.2,795.7 L487.9,800.1 L489.7,804.7 L491.5,809.4 L493.3,814.2 L495.1,818.9 L496.8,823.4 L498.4,827.6 L499.9,831.4 L501.3,835.1 L502.8,838.8 L504.2,842.6 L505.6,846.4 L507,850.2 L508.3,853.8 L509.6,857.2 L510.8,860.4 L512,863.4 L513.1,866" stroke="#cdb190" stroke-width="1.6" stroke-opacity="0.5" fill="none" stroke-linecap="round" stroke-linejoin="round"/>
<path d="M497.6,802.3 L499.2,807.1 L500.8,811.9 L502.3,816.7 L503.8,821.3 L505.1,825.7 L506.2,829.7 L507.3,833.5 L508.3,837.4 L509.2,841.3 L510.2,845.3 L511,849.2 L511.8,852.9 L512.6,856.5" stroke="#ebdfcc" stroke-width="1" stroke-opacity="0.4" fill="none" stroke-linecap="round" stroke-linejoin="round"/>
<path d="M501.6,791 L502.7,795.6 L503.9,800.4 L505.1,805.3 L506.3,810.3 L507.5,815.2 L508.5,819.9 L509.5,824.4 L510.3,828.5 L510.9,832.5 L511.6,836.5 L512.2,840.6 L512.8,844.6 L513.3,848.6 L513.8,852.4 L514.2,856.1 L514.5,859.5 L514.8,862.7 L514.9,865.5" stroke="#f1e6d6" stroke-width="1.1" stroke-opacity="0.6" fill="none" stroke-linecap="round" stroke-linejoin="round"/>
<path d="M498.1,777.6 L498.1,780.2 L498.4,783.5 L498.9,787.4 L499.5,791.7 L500.2,796.3 L501.1,801.2 L502,806.2 L502.9,811.3 L503.9,816.2 L504.8,821 L505.7,825.5 L506.4,829.6 L507.2,833.5 L507.9,837.5 L508.7,841.5 L509.5,845.4 L510.3,849.3 L511.1,853.1 L511.9,856.7 L512.6,860 L513.3,863 L514,865.8 L514.5,868.1" stroke="#f8f3eb" stroke-width="1" stroke-opacity="0.4" fill="none" stroke-linecap="round" stroke-linejoin="round"/>
<path d="M502.8,782.2 L503.5,785.9 L504.4,790.2 L505.4,794.7 L506.5,799.6 L507.6,804.5 L508.7,809.6 L509.7,814.5 L510.6,819.3 L511.4,823.9 L512.1,828 L512.6,832 L513.1,836.1 L513.6,840.2 L514.1,844.3 L514.4,848.3 L514.7,852.2 L515,855.9 L515.2,859.4 L515.3,862.6" stroke="#d6bc98" stroke-width="1" stroke-opacity="0.5" fill="none" stroke-linecap="round" stroke-linejoin="round"/>
<path d="M505,785.5 L505.9,789.7 L506.9,794.3 L507.9,799.1 L509,804.1 L510.1,809.1 L511.1,814.1 L512,818.9 L512.7,823.5 L513.3,827.7 L513.8,831.7 L514.3,835.8 L514.7,840 L515,844.1 L515.3,848.1 L515.5,852 L515.6,855.8 L515.7,859.3 L515.7,862.5" stroke="#f8f3eb" stroke-width="0.8" stroke-opacity="0.6" fill="none" stroke-linecap="round" stroke-linejoin="round"/>
<path d="M498.1,797 L499.6,801.7 L501.1,806.5 L502.6,811.4 L504.1,816.2 L505.4,820.9 L506.6,825.2 L507.7,829.3 L508.6,833.1 L509.5,837.1 L510.4,841.1 L511.2,845 L511.9,848.9 L512.6,852.7 L513.2,856.3 L513.8,859.7 L514.2,862.8 L514.6,865.6" stroke="#cdb190" stroke-width="0.8" stroke-opacity="0.4" fill="none" stroke-linecap="round" stroke-linejoin="round"/>
<path d="M483.5,784.7 L485.1,787.6 L486.9,791 L488.8,794.9 L490.9,799.2 L492.9,803.7 L494.9,808.4 L497,813.1 L498.9,817.7 L500.7,822.2 L502.4,826.5 L503.8,830.3 L505.2,834 L506.5,837.9 L507.7,841.7 L508.9,845.6 L510,849.4 L511,853.1 L511.9,856.7 L512.7,860 L513.4,863" stroke="#ebdfcc" stroke-width="1.5" stroke-opacity="0.5" fill="none" stroke-linecap="round" stroke-linejoin="round"/>
</g>
<path d="M252,826 C262,816 277,818 283,832 C286,848 282,864 274,876 C264,872 255,860 252,845 Z" fill="#ffffff" opacity="0.65" filter="url(#blur1)"/>
<path d="M396,842 C399,838 405,840 408,848 C409,860 407,872 404,882 C400,872 397,858 396,842 Z" fill="#ffffff" opacity="0.5" filter="url(#blur1)"/>
<path d="M315,820 C319,815 325,816 328,822 C329,832 327,842 324,848 C320,842 316,832 315,820 Z" fill="#ffffff" opacity="0.4" filter="url(#blur1)"/>
<path d="M326.1,860 C328.8,885 332.7,905 338.7,924.3" stroke="#e3d3bb" stroke-width="1.2" fill="none" opacity="0.7"/>
<path d="M319.6,860 C317.9,885 321.4,905 323.1,918" stroke="#e3d3bb" stroke-width="1.2" fill="none" opacity="0.7"/>
<path d="M311.5,860 C314.5,885 320.4,905 316.4,917" stroke="#e3d3bb" stroke-width="1.2" fill="none" opacity="0.7"/>
<path d="M322.8,860 C320.4,885 331.3,905 330.6,905.6" stroke="#e3d3bb" stroke-width="1.2" fill="none" opacity="0.7"/>
<path d="M326.5,860 C327.6,885 333.1,905 338.9,931.8" stroke="#e3d3bb" stroke-width="1.2" fill="none" opacity="0.7"/>
<path d="M313.2,860 C309.3,885 321.5,905 326.1,908.2" stroke="#e3d3bb" stroke-width="1.2" fill="none" opacity="0.7"/>
</g>
<path d="M400,484 C430,483 470,495 497,520 C520,542 533,575 536,615 C538,650 533,685 522,708 L517,722 C512,740 505,752 490,758 C470,763 440,761 425,751 L418,742 C400,738 370,730 350,716 C330,708 305,699 295,695 L283,697 C270,690 261,680 257,665 C251,640 251,605 257,580 C267,545 295,515 330,500 C352,490 377,484 400,484 Z" fill="#b88a60" stroke="#b88a60" stroke-width="2.5" filter="url(#fuzz)"/>
<path d="M400,484 C430,483 470,495 497,520 C520,542 533,575 536,615 C538,650 533,685 522,708 L517,722 C512,740 505,752 490,758 C470,763 440,761 425,751 L418,742 C400,738 370,730 350,716 C330,708 305,699 295,695 L283,697 C270,690 261,680 257,665 C251,640 251,605 257,580 C267,545 295,515 330,500 C352,490 377,484 400,484 Z" fill="#c39368"/>
<clipPath id="meshclip"><path d="M400,486 C430,485 470,497 496,521 C519,543 531,576 534,615 C536,650 531,684 520,706 C495,716 470,721 450,721 C420,719 395,713 380,710 C360,705 320,690 295,677 C283,665 268,640 257,612 C254,600 255,590 259,581 C269,546 296,517 331,502 C353,492 377,486 400,486 Z"/></clipPath>
<g clip-path="url(#meshclip)"><path d="M400,486 C430,485 470,497 496,521 C519,543 531,576 534,615 C536,650 531,684 520,706 C495,716 470,721 450,721 C420,719 395,713 380,710 C360,705 320,690 295,677 C283,665 268,640 257,612 C254,600 255,590 259,581 C269,546 296,517 331,502 C353,492 377,486 400,486 Z" fill="#b2865e"/><g filter="url(#meshf)">
<path d="M400,486 C430,485 470,497 496,521 C519,543 531,576 534,615 C536,650 531,684 520,706 C495,716 470,721 450,721 C420,719 395,713 380,710 C360,705 320,690 295,677 C283,665 268,640 257,612 C254,600 255,590 259,581 C269,546 296,517 331,502 C353,492 377,486 400,486 Z" fill="#ad825b"/>
<path d="M250,538.9 L260,533.8 L270,529 L280,524.4 L290,520.1 L300,516 L310,512.1 L320,508.4 L330,505 L340,501.9 L350,498.9 L360,496.2 L370,493.8 L380,491.5 L390,489.5 L400,487.8 L410,486.2 L420,484.9 L430,483.9 L440,483.1 L450,482.5 L460,482.1 L470,482 L480,482.1 L490,482.5 L500,483.1 L510,483.9 L520,484.9 L530,486.2" stroke="#d9b487" stroke-width="6" stroke-opacity="0.8" stroke-dasharray="14.3 2.6 46.8 7 37.6 6.6 16.2 4.4 27.2 9.6 48.9 10 48.5 5.7 18.3 9.4 14.6 8.4 19.3 7.1 39.4 8.5 17.6 7.3 43.6 8.4 27.7 10" fill="none"/>
<path d="M250,538.9 L260,533.8 L270,529 L280,524.4 L290,520.1 L300,516 L310,512.1 L320,508.4 L330,505 L340,501.9 L350,498.9 L360,496.2 L370,493.8 L380,491.5 L390,489.5 L400,487.8 L410,486.2 L420,484.9 L430,483.9 L440,483.1 L450,482.5 L460,482.1 L470,482 L480,482.1 L490,482.5 L500,483.1 L510,483.9 L520,484.9 L530,486.2" stroke="#efd2a6" stroke-width="2.8" stroke-opacity="0.6" stroke-dasharray="13.4 18.3 13.4 13.1 12.5 23.1 15.8 22.9 9.8 25.7 13.6 15.9 11.9 15 9.8 21.7 5 27.7 5.8 14.7 8.6 9.9 10.8 15.1 15.3 19.7 8.1 20.8" fill="none"/>
<path d="M250,544.4 L260,539.3 L270,534.5 L280,529.9 L290,525.6 L300,521.5 L310,517.6 L320,513.9 L330,510.5 L340,507.4 L350,504.4 L360,501.7 L370,499.2 L380,497 L390,495 L400,493.3 L410,491.7 L420,490.4 L430,489.4 L440,488.6 L450,488 L460,487.6 L470,487.5 L480,487.6 L490,488 L500,488.6 L510,489.4 L520,490.4 L530,491.7" stroke="#7d5435" stroke-width="2.4" stroke-opacity="0.6" stroke-dasharray="11.8 5.6 25.2 8.2 31.4 4.7 21.3 10.1 15.2 6.6 23.4 8.5 27.2 11.8 12.3 11.1 23.7 8.7 17.4 7.5 15.3 3.7 31 9 12.9 4.1 20.5 10.4" fill="none"/>
<path d="M250,549.4 L260,544.2 L270,539.4 L280,534.7 L290,530.3 L300,526.2 L310,522.2 L320,518.5 L330,515.1 L340,511.9 L350,508.9 L360,506.2 L370,503.7 L380,501.4 L390,499.4 L400,497.6 L410,496 L420,494.7 L430,493.7 L440,492.8 L450,492.2 L460,491.9 L470,491.8 L480,491.9 L490,492.2 L500,492.8 L510,493.7 L520,494.7 L530,496" stroke="#d9b487" stroke-width="4.9" stroke-opacity="0.7" stroke-dasharray="30.4 9.2 38.6 4 18.3 6.8 39.9 3.3 24.2 7.6 30.9 4.4 29.7 5.4 50 7.4 18.9 4.9 36.6 2.2 13.7 7.9 50 8.5 15.6 5.9 40.8 3.2" fill="none"/>
<path d="M250,549.4 L260,544.2 L270,539.4 L280,534.7 L290,530.3 L300,526.2 L310,522.2 L320,518.5 L330,515.1 L340,511.9 L350,508.9 L360,506.2 L370,503.7 L380,501.4 L390,499.4 L400,497.6 L410,496 L420,494.7 L430,493.7 L440,492.8 L450,492.2 L460,491.9 L470,491.8 L480,491.9 L490,492.2 L500,492.8 L510,493.7 L520,494.7 L530,496" stroke="#efd2a6" stroke-width="2.7" stroke-opacity="0.7" stroke-dasharray="5.5 10.1 11.9 15.5 13.3 20.2 14.9 14.3 8.1 13.5 4.6 14.4 8.3 18.9 8 29.7 14.5 15.6 6.4 18.8 5.4 12.2 12.6 10.8 15.7 9.9 16 16.8" fill="none"/>
<path d="M250,554.9 L260,549.7 L270,544.9 L280,540.2 L290,535.8 L300,531.7 L310,527.7 L320,524 L330,520.6 L340,517.4 L350,514.4 L360,511.7 L370,509.2 L380,506.9 L390,504.9 L400,503.1 L410,501.5 L420,500.2 L430,499.2 L440,498.3 L450,497.7 L460,497.4 L470,497.3 L480,497.4 L490,497.7 L500,498.3 L510,499.2 L520,500.2 L530,501.5" stroke="#7d5435" stroke-width="2.2" stroke-opacity="0.7" stroke-dasharray="24.4 6.6 12.7 3.4 30.5 7.3 29.1 3.5 22.5 7.9 19.4 4.3 26.8 9.2 31.9 3.7 11 8.7 25.6 4.6 26.6 10.8 20.5 3.9 33.3 3.1 31.8 4.2" fill="none"/>
<path d="M250,559.7 L260,554.6 L270,549.6 L280,544.9 L290,540.5 L300,536.2 L310,532.3 L320,528.5 L330,525 L340,521.8 L350,518.8 L360,516 L370,513.5 L380,511.2 L390,509.1 L400,507.3 L410,505.7 L420,504.4 L430,503.3 L440,502.5 L450,501.9 L460,501.5 L470,501.4 L480,501.5 L490,501.9 L500,502.5 L510,503.3 L520,504.4 L530,505.7" stroke="#d9b487" stroke-width="5.8" stroke-opacity="0.9" stroke-dasharray="44.8 3.5 13.3 2.2 33.5 6.6 46.7 6 31.8 8.6 41.4 5.4 38.4 5.2 14.6 7.4 34.6 9.9 37.1 3.2 41.3 6.4 15.2 5.8 46 7 28.2 2.1" fill="none"/>
<path d="M250,559.7 L260,554.6 L270,549.6 L280,544.9 L290,540.5 L300,536.2 L310,532.3 L320,528.5 L330,525 L340,521.8 L350,518.8 L360,516 L370,513.5 L380,511.2 L390,509.1 L400,507.3 L410,505.7 L420,504.4 L430,503.3 L440,502.5 L450,501.9 L460,501.5 L470,501.4 L480,501.5 L490,501.9 L500,502.5 L510,503.3 L520,504.4 L530,505.7" stroke="#efd2a6" stroke-width="2.7" stroke-opacity="0.9" stroke-dasharray="14.3 12.8 5.5 18.4 7.3 20.5 9.4 24.4 15.1 16 13 23.3 5.7 24.7 7.5 20.3 10 22.7 14.7 28.1 4.6 8.7 4.7 27.4 12.2 21.6 8.7 14.9" fill="none"/>
<path d="M250,565.2 L260,560.1 L270,555.1 L280,550.4 L290,546 L300,541.7 L310,537.8 L320,534 L330,530.5 L340,527.3 L350,524.3 L360,521.5 L370,519 L380,516.7 L390,514.6 L400,512.8 L410,511.2 L420,509.9 L430,508.8 L440,508 L450,507.4 L460,507 L470,506.9 L480,507 L490,507.4 L500,508 L510,508.8 L520,509.9 L530,511.2" stroke="#7d5435" stroke-width="2.5" stroke-opacity="0.7" stroke-dasharray="30.9 8.5 17.9 11.5 28.2 7.2 14.2 11.7 12.9 11.6 14.1 10.2 21.9 10 21.3 5.4 28.9 6 17 8.6 26.3 10.2 25 10.8 28.1 3.1 13.8 10.5" fill="none"/>
<path d="M250,571.7 L260,566.5 L270,561.5 L280,556.7 L290,552.2 L300,547.9 L310,543.9 L320,540.1 L330,536.5 L340,533.2 L350,530.2 L360,527.4 L370,524.8 L380,522.5 L390,520.4 L400,518.5 L410,517 L420,515.6 L430,514.5 L440,513.7 L450,513 L460,512.7 L470,512.6 L480,512.7 L490,513 L500,513.7 L510,514.5 L520,515.6 L530,517" stroke="#d9b487" stroke-width="5.9" stroke-opacity="0.9" stroke-dasharray="21.4 5.1 26.3 8.2 20.9 5.6 38.2 4.6 22.2 3.3 47 8.1 41.8 4.3 17.3 9.1 49.7 3.2 49.1 8.4 32.8 8.2 31 6.3 32.5 5.9 26.5 8.3" fill="none"/>
<path d="M250,571.7 L260,566.5 L270,561.5 L280,556.7 L290,552.2 L300,547.9 L310,543.9 L320,540.1 L330,536.5 L340,533.2 L350,530.2 L360,527.4 L370,524.8 L380,522.5 L390,520.4 L400,518.5 L410,517 L420,515.6 L430,514.5 L440,513.7 L450,513 L460,512.7 L470,512.6 L480,512.7 L490,513 L500,513.7 L510,514.5 L520,515.6 L530,517" stroke="#efd2a6" stroke-width="3.1" stroke-opacity="0.7" stroke-dasharray="7.7 9.3 8.7 23.6 15.1 20.9 4.1 16.5 10.5 19.8 8.3 9.4 8.8 19.5 7.1 26.3 7.9 19.1 6.4 12.7 5.1 25.7 7.5 20.7 8.3 25.2 14.3 13.4" fill="none"/>
<path d="M250,577.2 L260,572 L270,567 L280,562.2 L290,557.7 L300,553.4 L310,549.4 L320,545.6 L330,542 L340,538.7 L350,535.7 L360,532.9 L370,530.3 L380,528 L390,525.9 L400,524 L410,522.5 L420,521.1 L430,520 L440,519.2 L450,518.5 L460,518.2 L470,518.1 L480,518.2 L490,518.5 L500,519.2 L510,520 L520,521.1 L530,522.5" stroke="#7d5435" stroke-width="2.6" stroke-opacity="0.6" stroke-dasharray="31.7 6.3 21.6 3.7 17.9 3.3 17 8.5 12.4 4.8 31.8 8.1 24.7 4.9 33.1 5.5 12.4 7 24.8 8.5 13.3 10.6 18.5 12 19.5 3.2 10.9 6.3" fill="none"/>
<path d="M250,584.5 L260,579.1 L270,574.1 L280,569.2 L290,564.6 L300,560.3 L310,556.2 L320,552.3 L330,548.7 L340,545.4 L350,542.3 L360,539.4 L370,536.8 L380,534.5 L390,532.4 L400,530.5 L410,528.9 L420,527.5 L430,526.4 L440,525.5 L450,524.9 L460,524.5 L470,524.4 L480,524.5 L490,524.9 L500,525.5 L510,526.4 L520,527.5 L530,528.9" stroke="#d9b487" stroke-width="5.5" stroke-opacity="0.6" stroke-dasharray="44.1 9.2 44.8 7.1 47 7.7 15.4 4.5 20.9 2.7 47 6.1 18.9 8.8 26.1 3.9 39.4 3.4 47.8 9.5 14.3 6.4 13.1 9.4 21.8 6.1 40.1 8.1" fill="none"/>
<path d="M250,584.5 L260,579.1 L270,574.1 L280,569.2 L290,564.6 L300,560.3 L310,556.2 L320,552.3 L330,548.7 L340,545.4 L350,542.3 L360,539.4 L370,536.8 L380,534.5 L390,532.4 L400,530.5 L410,528.9 L420,527.5 L430,526.4 L440,525.5 L450,524.9 L460,524.5 L470,524.4 L480,524.5 L490,524.9 L500,525.5 L510,526.4 L520,527.5 L530,528.9" stroke="#efd2a6" stroke-width="2.5" stroke-opacity="0.5" stroke-dasharray="7.8 8.1 6.4 24.5 11.1 17.7 11.8 18.4 8.5 16.6 8.5 16.4 9.3 25.8 15 27.6 9.6 28.1 13.6 11.5 14 9.7 11.4 16.2 13 25.1 15.5 28.4" fill="none"/>
<path d="M250,590 L260,584.6 L270,579.6 L280,574.7 L290,570.1 L300,565.8 L310,561.7 L320,557.8 L330,554.2 L340,550.9 L350,547.8 L360,544.9 L370,542.3 L380,540 L390,537.9 L400,536 L410,534.4 L420,533 L430,531.9 L440,531 L450,530.4 L460,530 L470,529.9 L480,530 L490,530.4 L500,531 L510,531.9 L520,533 L530,534.4" stroke="#7d5435" stroke-width="2.5" stroke-opacity="0.7" stroke-dasharray="11.9 11.8 18.1 5.1 12.9 6.3 18.3 9.6 14.5 7.1 32.2 7 13.7 6.8 16.2 3.2 24.3 5.7 30.1 5.3 12.7 7.1 22.1 4.4 22.8 8.7 29.7 11.3" fill="none"/>
<path d="M250,594.8 L260,589.4 L270,584.3 L280,579.4 L290,574.7 L300,570.3 L310,566.2 L320,562.3 L330,558.6 L340,555.2 L350,552.1 L360,549.2 L370,546.6 L380,544.2 L390,542 L400,540.2 L410,538.5 L420,537.2 L430,536 L440,535.1 L450,534.5 L460,534.1 L470,534 L480,534.1 L490,534.5 L500,535.1 L510,536 L520,537.2 L530,538.5" stroke="#d9b487" stroke-width="5" stroke-opacity="0.6" stroke-dasharray="16.5 8 48.9 5.5 21.9 3.9 21 5.1 27.8 3.3 43.6 9.8 17.5 7.1 28.8 6.1 31.4 5.5 42 9.5 22.9 4.9 13.5 5.3 22.5 3.4 44 6.2" fill="none"/>
<path d="M250,594.8 L260,589.4 L270,584.3 L280,579.4 L290,574.7 L300,570.3 L310,566.2 L320,562.3 L330,558.6 L340,555.2 L350,552.1 L360,549.2 L370,546.6 L380,544.2 L390,542 L400,540.2 L410,538.5 L420,537.2 L430,536 L440,535.1 L450,534.5 L460,534.1 L470,534 L480,534.1 L490,534.5 L500,535.1 L510,536 L520,537.2 L530,538.5" stroke="#efd2a6" stroke-width="3.2" stroke-opacity="0.5" stroke-dasharray="11.2 26.2 14.7 24.1 13.1 11.9 5.6 22.7 11.5 12.2 7.7 8.2 12.3 19.4 14.1 28.2 10.2 15.6 7.4 22.1 15.3 10 8.9 24.8 5.6 22.6 7 20.4" fill="none"/>
<path d="M250,600.3 L260,594.9 L270,589.8 L280,584.9 L290,580.2 L300,575.8 L310,571.7 L320,567.8 L330,564.1 L340,560.7 L350,557.6 L360,554.7 L370,552.1 L380,549.7 L390,547.5 L400,545.7 L410,544 L420,542.7 L430,541.5 L440,540.6 L450,540 L460,539.6 L470,539.5 L480,539.6 L490,540 L500,540.6 L510,541.5 L520,542.7 L530,544" stroke="#7d5435" stroke-width="2.9" stroke-opacity="0.5" stroke-dasharray="27.6 8.2 31.5 6.2 33.3 11.7 11.8 6.2 16.1 10.5 32.8 10 31.7 8.2 32.5 5.6 12.7 9.6 21.2 3.2 30.1 4.2 16.1 3.8 25.5 4.5 17.8 8" fill="none"/>
<path d="M250,605.6 L260,600.1 L270,594.9 L280,590 L290,585.3 L300,580.8 L310,576.6 L320,572.7 L330,569 L340,565.6 L350,562.4 L360,559.4 L370,556.8 L380,554.4 L390,552.2 L400,550.3 L410,548.6 L420,547.2 L430,546.1 L440,545.2 L450,544.6 L460,544.2 L470,544.1 L480,544.2 L490,544.6 L500,545.2 L510,546.1 L520,547.2 L530,548.6" stroke="#d9b487" stroke-width="5.7" stroke-opacity="0.8" stroke-dasharray="47.2 7.9 21.9 8.7 36.2 5.7 21.1 5.6 25.3 2.8 18.8 4.2 29.7 6.7 40.9 2.9 16.6 9.1 32.6 3.8 20.6 7.4 29.6 5.2 48 2.1 36.1 7.6" fill="none"/>
<path d="M250,605.6 L260,600.1 L270,594.9 L280,590 L290,585.3 L300,580.8 L310,576.6 L320,572.7 L330,569 L340,565.6 L350,562.4 L360,559.4 L370,556.8 L380,554.4 L390,552.2 L400,550.3 L410,548.6 L420,547.2 L430,546.1 L440,545.2 L450,544.6 L460,544.2 L470,544.1 L480,544.2 L490,544.6 L500,545.2 L510,546.1 L520,547.2 L530,548.6" stroke="#efd2a6" stroke-width="3.2" stroke-opacity="0.7" stroke-dasharray="4.4 29.4 4.6 16 8.8 26.4 12.6 26.5 10.8 29.7 7.8 16.8 10.7 15.1 5.8 23 8.2 27.2 12 8.3 5.3 12.1 7.9 12.4 12 13 9 16.7" fill="none"/>
<path d="M250,611.1 L260,605.6 L270,600.4 L280,595.5 L290,590.8 L300,586.3 L310,582.1 L320,578.2 L330,574.5 L340,571.1 L350,567.9 L360,564.9 L370,562.3 L380,559.9 L390,557.7 L400,555.8 L410,554.1 L420,552.7 L430,551.6 L440,550.7 L450,550.1 L460,549.7 L470,549.6 L480,549.7 L490,550.1 L500,550.7 L510,551.6 L520,552.7 L530,554.1" stroke="#7d5435" stroke-width="2.9" stroke-opacity="0.7" stroke-dasharray="11.2 11.8 34.3 3.4 31.6 8.6 32.9 8.6 25.7 10.3 10.9 3.9 13 3.1 15.9 3.4 12.8 6.1 14.2 3.5 34 11.3 32.5 3.8 24.8 11.4 21 7.6" fill="none"/>
<path d="M250,618 L260,612.5 L270,607.2 L280,602.2 L290,597.4 L300,592.9 L310,588.6 L320,584.6 L330,580.9 L340,577.4 L350,574.2 L360,571.2 L370,568.5 L380,566 L390,563.9 L400,561.9 L410,560.2 L420,558.8 L430,557.7 L440,556.8 L450,556.1 L460,555.7 L470,555.6 L480,555.7 L490,556.1 L500,556.8 L510,557.7 L520,558.8 L530,560.2" stroke="#d9b487" stroke-width="4.9" stroke-opacity="0.6" stroke-dasharray="33.9 4.2 40 7.9 22.9 5.6 38.4 3.8 26.7 6.4 25.9 9.1 23.5 5.8 43.1 2.2 24.7 3.5 32.7 9.8 27.1 9.4 18.2 9.6 24.3 4.6 22.3 9" fill="none"/>
<path d="M250,618 L260,612.5 L270,607.2 L280,602.2 L290,597.4 L300,592.9 L310,588.6 L320,584.6 L330,580.9 L340,577.4 L350,574.2 L360,571.2 L370,568.5 L380,566 L390,563.9 L400,561.9 L410,560.2 L420,558.8 L430,557.7 L440,556.8 L450,556.1 L460,555.7 L470,555.6 L480,555.7 L490,556.1 L500,556.8 L510,557.7 L520,558.8 L530,560.2" stroke="#efd2a6" stroke-width="2.5" stroke-opacity="0.5" stroke-dasharray="4.3 20.1 11.3 15.7 11.9 19.4 14 15.8 13.2 19.5 15.9 22.9 15.2 17.2 12 11.1 6.4 21.4 7.3 26.5 5.1 26.8 15.1 29.9 7.2 21.9 11.6 23.5" fill="none"/>
<path d="M250,623.5 L260,618 L270,612.7 L280,607.7 L290,602.9 L300,598.4 L310,594.1 L320,590.1 L330,586.4 L340,582.9 L350,579.7 L360,576.7 L370,574 L380,571.5 L390,569.4 L400,567.4 L410,565.7 L420,564.3 L430,563.2 L440,562.3 L450,561.6 L460,561.2 L470,561.1 L480,561.2 L490,561.6 L500,562.3 L510,563.2 L520,564.3 L530,565.7" stroke="#7d5435" stroke-width="2.8" stroke-opacity="0.5" stroke-dasharray="20.3 7.9 12.9 6.6 34.8 4.3 31.2 5.5 25.5 4 31.3 9.2 17.2 6.2 18.8 7.7 24.9 8.8 10.2 9.7 34.7 6.4 17.5 7.8 30.1 6.9 19.4 5.1" fill="none"/>
<path d="M250,629.2 L260,623.6 L270,618.2 L280,613.1 L290,608.3 L300,603.7 L310,599.4 L320,595.4 L330,591.6 L340,588 L350,584.8 L360,581.8 L370,579 L380,576.5 L390,574.3 L400,572.4 L410,570.7 L420,569.2 L430,568.1 L440,567.1 L450,566.5 L460,566.1 L470,566 L480,566.1 L490,566.5 L500,567.1 L510,568.1 L520,569.2 L530,570.7" stroke="#d9b487" stroke-width="6.4" stroke-opacity="0.6" stroke-dasharray="48.8 6.9 21.2 4.6 48.9 9.1 48.3 2.2 21.7 9.2 23.4 6.3 23.9 7 28.6 8.6 39.6 5.4 29.6 2.3 37.7 5.6 12.4 2.5 20.7 5.3 31 7.2" fill="none"/>
<path d="M250,629.2 L260,623.6 L270,618.2 L280,613.1 L290,608.3 L300,603.7 L310,599.4 L320,595.4 L330,591.6 L340,588 L350,584.8 L360,581.8 L370,579 L380,576.5 L390,574.3 L400,572.4 L410,570.7 L420,569.2 L430,568.1 L440,567.1 L450,566.5 L460,566.1 L470,566 L480,566.1 L490,566.5 L500,567.1 L510,568.1 L520,569.2 L530,570.7" stroke="#efd2a6" stroke-width="2.1" stroke-opacity="0.7" stroke-dasharray="6.3 17.3 8.8 24.9 14.8 20.9 12.3 24.4 5.1 16 8.4 9.7 7.7 11.9 11.9 14.5 8.1 28.6 10.1 29.4 11.6 19.5 13.8 12.6 14.7 17.1 4.7 20.4" fill="none"/>
<path d="M250,634.7 L260,629.1 L270,623.7 L280,618.6 L290,613.8 L300,609.2 L310,604.9 L320,600.9 L330,597.1 L340,593.5 L350,590.3 L360,587.3 L370,584.5 L380,582 L390,579.8 L400,577.9 L410,576.2 L420,574.7 L430,573.6 L440,572.6 L450,572 L460,571.6 L470,571.5 L480,571.6 L490,572 L500,572.6 L510,573.6 L520,574.7 L530,576.2" stroke="#7d5435" stroke-width="2.4" stroke-opacity="0.6" stroke-dasharray="25.8 9.5 27.3 3.1 10.1 9.4 23.8 11.3 19.9 3.9 10.4 3.3 14.4 9.9 24.2 10.8 32.4 7.6 13.6 4.8 25 4.3 23 7.6 10.7 3.7 33.7 7.4" fill="none"/>
<path d="M250,639.5 L260,633.8 L270,628.4 L280,623.3 L290,618.4 L300,613.8 L310,609.4 L320,605.3 L330,601.5 L340,597.9 L350,594.6 L360,591.6 L370,588.8 L380,586.3 L390,584 L400,582.1 L410,580.3 L420,578.9 L430,577.7 L440,576.8 L450,576.1 L460,575.7 L470,575.6 L480,575.7 L490,576.1 L500,576.8 L510,577.7 L520,578.9 L530,580.3" stroke="#d9b487" stroke-width="5.3" stroke-opacity="0.6" stroke-dasharray="42.4 7.2 38 6.6 17.5 3.9 22.5 2.3 35.9 8.9 48 2.5 19.3 7 12.7 3.8 27 8.1 13.7 2.4 21.1 3.8 18.1 6.7 18.6 2 44.9 5.6" fill="none"/>
<path d="M250,639.5 L260,633.8 L270,628.4 L280,623.3 L290,618.4 L300,613.8 L310,609.4 L320,605.3 L330,601.5 L340,597.9 L350,594.6 L360,591.6 L370,588.8 L380,586.3 L390,584 L400,582.1 L410,580.3 L420,578.9 L430,577.7 L440,576.8 L450,576.1 L460,575.7 L470,575.6 L480,575.7 L490,576.1 L500,576.8 L510,577.7 L520,578.9 L530,580.3" stroke="#efd2a6" stroke-width="2.4" stroke-opacity="0.7" stroke-dasharray="14.6 29.5 4.8 22.9 12.1 20.9 9 16.8 12.5 8.5 14.4 9.9 6 16.3 4.1 27.4 8.8 16 8 27.2 8 22.3 15.5 17.3 15 20.2 8.6 18.3" fill="none"/>
<path d="M250,645 L260,639.3 L270,633.9 L280,628.8 L290,623.9 L300,619.3 L310,614.9 L320,610.8 L330,607 L340,603.4 L350,600.1 L360,597.1 L370,594.3 L380,591.8 L390,589.5 L400,587.6 L410,585.8 L420,584.4 L430,583.2 L440,582.3 L450,581.6 L460,581.2 L470,581.1 L480,581.2 L490,581.6 L500,582.3 L510,583.2 L520,584.4 L530,585.8" stroke="#7d5435" stroke-width="2.3" stroke-opacity="0.6" stroke-dasharray="17 3.2 30.1 5.2 13.2 4.8 23.6 10.1 23.9 7.2 29.9 5.2 19.2 4.9 20.1 8.7 24.5 5.7 21.9 4.8 31.5 9.1 33.6 12 24.9 7 34.7 7.8" fill="none"/>
<path d="M250,650.7 L260,645 L270,639.5 L280,634.3 L290,629.3 L300,624.7 L310,620.2 L320,616.1 L330,612.2 L340,608.6 L350,605.3 L360,602.2 L370,599.4 L380,596.8 L390,594.6 L400,592.6 L410,590.8 L420,589.4 L430,588.1 L440,587.2 L450,586.5 L460,586.1 L470,586 L480,586.1 L490,586.5 L500,587.2 L510,588.1 L520,589.4 L530,590.8" stroke="#d9b487" stroke-width="6.2" stroke-opacity="0.7" stroke-dasharray="16.8 8 37.8 2.7 44.4 7.9 41.1 2.2 39.3 3.2 12.6 7.7 38.4 8.2 20.8 3.5 45.9 2.5 46.7 8.4 40.8 3.5 39.3 2.7 23 8.5 27.2 4.8" fill="none"/>
<path d="M250,650.7 L260,645 L270,639.5 L280,634.3 L290,629.3 L300,624.7 L310,620.2 L320,616.1 L330,612.2 L340,608.6 L350,605.3 L360,602.2 L370,599.4 L380,596.8 L390,594.6 L400,592.6 L410,590.8 L420,589.4 L430,588.1 L440,587.2 L450,586.5 L460,586.1 L470,586 L480,586.1 L490,586.5 L500,587.2 L510,588.1 L520,589.4 L530,590.8" stroke="#efd2a6" stroke-width="2.8" stroke-opacity="0.9" stroke-dasharray="11.5 21.8 14.4 28.6 6.1 16.1 13.6 23.2 14.8 8.6 12.4 18.2 16 16.8 14.9 10.1 7.5 14 11.3 12.8 12.1 16.9 11.3 17.5 13.1 11.4 12.9 20.2" fill="none"/>
<path d="M250,656.2 L260,650.5 L270,645 L280,639.8 L290,634.8 L300,630.2 L310,625.7 L320,621.6 L330,617.7 L340,614.1 L350,610.8 L360,607.7 L370,604.9 L380,602.3 L390,600.1 L400,598.1 L410,596.3 L420,594.9 L430,593.6 L440,592.7 L450,592 L460,591.6 L470,591.5 L480,591.6 L490,592 L500,592.7 L510,593.6 L520,594.9 L530,596.3" stroke="#7d5435" stroke-width="2.2" stroke-opacity="0.7" stroke-dasharray="24.1 5 22.4 7.7 33.1 9 24.4 11.4 12.8 9.9 26.4 11.1 31.9 8.3 27.4 11.8 27 3.3 18 10 18.6 11.2 20.4 9.7 35 8.5 15.5 7.7" fill="none"/>
<path d="M250,660.5 L260,654.7 L270,649.1 L280,643.9 L290,638.8 L300,634.1 L310,629.7 L320,625.5 L330,621.5 L340,617.9 L350,614.5 L360,611.4 L370,608.6 L380,606 L390,603.7 L400,601.7 L410,599.9 L420,598.4 L430,597.2 L440,596.3 L450,595.6 L460,595.2 L470,595.1 L480,595.2 L490,595.6 L500,596.3 L510,597.2 L520,598.4 L530,599.9" stroke="#d9b487" stroke-width="5.9" stroke-opacity="0.7" stroke-dasharray="28.8 4.7 31.1 7.5 43.9 7 31.3 7.4 19.8 7.4 44.2 8.2 30.6 3.5 48.2 8.6 33.2 3.4 18.2 8.2 21 4.1 48.6 3.3 25.2 2.7 36.2 3.1" fill="none"/>
<path d="M250,660.5 L260,654.7 L270,649.1 L280,643.9 L290,638.8 L300,634.1 L310,629.7 L320,625.5 L330,621.5 L340,617.9 L350,614.5 L360,611.4 L370,608.6 L380,606 L390,603.7 L400,601.7 L410,599.9 L420,598.4 L430,597.2 L440,596.3 L450,595.6 L460,595.2 L470,595.1 L480,595.2 L490,595.6 L500,596.3 L510,597.2 L520,598.4 L530,599.9" stroke="#efd2a6" stroke-width="2.4" stroke-opacity="0.9" stroke-dasharray="9.8 23.5 4.1 23.2 5.6 22.1 12.4 10.9 12.5 20.9 6.9 21.8 5.4 17.3 15.3 22.9 5.9 29.5 14.1 16.9 6.5 23.2 4.1 18.7 4.5 27.7 7.6 10.4" fill="none"/>
<path d="M250,666 L260,660.2 L270,654.6 L280,649.4 L290,644.3 L300,639.6 L310,635.2 L320,631 L330,627 L340,623.4 L350,620 L360,616.9 L370,614.1 L380,611.5 L390,609.2 L400,607.2 L410,605.4 L420,603.9 L430,602.7 L440,601.8 L450,601.1 L460,600.7 L470,600.6 L480,600.7 L490,601.1 L500,601.8 L510,602.7 L520,603.9 L530,605.4" stroke="#7d5435" stroke-width="2.3" stroke-opacity="0.5" stroke-dasharray="14 7 24.2 5.6 23.9 3.4 21.7 11.8 22.1 9.7 18.3 9.7 16.6 8.8 33.9 7.4 29.6 5.9 19 3.8 17.1 8.5 28.3 9.3 26.3 3.7 28.7 3.2" fill="none"/>
<path d="M250,672.7 L260,666.8 L270,661.2 L280,655.9 L290,650.8 L300,646 L310,641.5 L320,637.2 L330,633.3 L340,629.6 L350,626.2 L360,623 L370,620.1 L380,617.5 L390,615.2 L400,613.1 L410,611.4 L420,609.9 L430,608.6 L440,607.7 L450,607 L460,606.6 L470,606.4 L480,606.6 L490,607 L500,607.7 L510,608.6 L520,609.9 L530,611.4" stroke="#d9b487" stroke-width="5.7" stroke-opacity="0.8" stroke-dasharray="26 9.7 32 9.2 37.9 2.8 39.3 4.5 35.4 5 36.6 4.8 20.7 3.1 46.9 8.7 21.6 2.5 16.1 8.4 47 10 27.3 2.4 20.2 5.4 39.8 10" fill="none"/>
<path d="M250,672.7 L260,666.8 L270,661.2 L280,655.9 L290,650.8 L300,646 L310,641.5 L320,637.2 L330,633.3 L340,629.6 L350,626.2 L360,623 L370,620.1 L380,617.5 L390,615.2 L400,613.1 L410,611.4 L420,609.9 L430,608.6 L440,607.7 L450,607 L460,606.6 L470,606.4 L480,606.6 L490,607 L500,607.7 L510,608.6 L520,609.9 L530,611.4" stroke="#efd2a6" stroke-width="2.7" stroke-opacity="0.7" stroke-dasharray="5.7 13 5.7 22 8.8 29.5 14.2 18.5 6.6 16.2 4.4 21.4 14 19.2 5.7 9.6 4.7 23.6 14.7 9.4 4.1 29 6.1 23.9 8.5 8.1 13.6 22.9" fill="none"/>
<path d="M250,678.2 L260,672.3 L270,666.7 L280,661.4 L290,656.3 L300,651.5 L310,647 L320,642.7 L330,638.8 L340,635.1 L350,631.7 L360,628.5 L370,625.6 L380,623 L390,620.7 L400,618.6 L410,616.9 L420,615.4 L430,614.1 L440,613.2 L450,612.5 L460,612.1 L470,611.9 L480,612.1 L490,612.5 L500,613.2 L510,614.1 L520,615.4 L530,616.9" stroke="#7d5435" stroke-width="2.9" stroke-opacity="0.6" stroke-dasharray="23.6 7.7 20.7 7.8 25.6 4.4 20 8.5 12 10.3 28.1 6 26.5 8.1 20.5 6.3 26.4 4.2 31.6 7.8 25.8 10.6 15.6 9.7 27.3 4.3 24.5 8" fill="none"/>
<path d="M250,683.6 L260,677.6 L270,672 L280,666.6 L290,661.4 L300,656.6 L310,652 L320,647.7 L330,643.7 L340,640 L350,636.5 L360,633.3 L370,630.4 L380,627.8 L390,625.4 L400,623.3 L410,621.5 L420,620 L430,618.8 L440,617.8 L450,617.1 L460,616.7 L470,616.5 L480,616.7 L490,617.1 L500,617.8 L510,618.8 L520,620 L530,621.5" stroke="#d9b487" stroke-width="5.8" stroke-opacity="0.9" stroke-dasharray="21.1 5.5 21.9 3.8 48.8 3.6 40.5 3.8 43.8 7.2 19.1 7.4 38.9 3.8 29.4 6.3 38.5 7.9 46.6 6.5 44.4 7.4 42.4 3.1 31.1 6.1 43.9 9.6" fill="none"/>
<path d="M250,683.6 L260,677.6 L270,672 L280,666.6 L290,661.4 L300,656.6 L310,652 L320,647.7 L330,643.7 L340,640 L350,636.5 L360,633.3 L370,630.4 L380,627.8 L390,625.4 L400,623.3 L410,621.5 L420,620 L430,618.8 L440,617.8 L450,617.1 L460,616.7 L470,616.5 L480,616.7 L490,617.1 L500,617.8 L510,618.8 L520,620 L530,621.5" stroke="#efd2a6" stroke-width="2.9" stroke-opacity="0.5" stroke-dasharray="10.2 18.1 12.2 20 15.6 12.2 9.7 10 8.5 21.6 8.9 9 4.5 23.4 15.5 18.1 5.4 11 14.9 9.9 15.9 12.4 5.4 24 8.3 16.1 14.1 25.7" fill="none"/>
<path d="M250,689.1 L260,683.1 L270,677.5 L280,672.1 L290,666.9 L300,662.1 L310,657.5 L320,653.2 L330,649.2 L340,645.5 L350,642 L360,638.8 L370,635.9 L380,633.3 L390,630.9 L400,628.8 L410,627 L420,625.5 L430,624.3 L440,623.3 L450,622.6 L460,622.2 L470,622 L480,622.2 L490,622.6 L500,623.3 L510,624.3 L520,625.5 L530,627" stroke="#7d5435" stroke-width="2.5" stroke-opacity="0.5" stroke-dasharray="16.4 5.2 22.8 7.7 18.9 7.4 30.4 6.2 18.9 5.9 25.1 3.3 32.8 5.2 18.9 9.2 10.5 11.9 21 10.1 22.2 3.7 16.5 4.4 33.3 10.9 26.7 10.5" fill="none"/>
<path d="M250,694.4 L260,688.4 L270,682.6 L280,677.1 L290,672 L300,667.1 L310,662.4 L320,658.1 L330,654 L340,650.2 L350,646.7 L360,643.5 L370,640.6 L380,637.9 L390,635.5 L400,633.4 L410,631.6 L420,630.1 L430,628.8 L440,627.8 L450,627.1 L460,626.7 L470,626.6 L480,626.7 L490,627.1 L500,627.8 L510,628.8 L520,630.1 L530,631.6" stroke="#d9b487" stroke-width="6" stroke-opacity="0.7" stroke-dasharray="49.9 8.1 22.2 5.6 12.9 10 30.5 5.9 13.2 8.7 14.8 7 36.5 6.8 44 9.7 38.3 5.6 20.7 9.7 31.6 4.9 32.1 4.5 17 7 20 8.6" fill="none"/>
<path d="M250,694.4 L260,688.4 L270,682.6 L280,677.1 L290,672 L300,667.1 L310,662.4 L320,658.1 L330,654 L340,650.2 L350,646.7 L360,643.5 L370,640.6 L380,637.9 L390,635.5 L400,633.4 L410,631.6 L420,630.1 L430,628.8 L440,627.8 L450,627.1 L460,626.7 L470,626.6 L480,626.7 L490,627.1 L500,627.8 L510,628.8 L520,630.1 L530,631.6" stroke="#efd2a6" stroke-width="3" stroke-opacity="0.6" stroke-dasharray="9.6 28.6 7.8 15.4 9.8 13 7 27.3 11.3 21.9 12.7 11.2 8.6 9.4 15.9 15.9 10.9 20.9 5.7 23.4 15 27.9 5.1 12.4 9.1 20.6 5.2 25.4" fill="none"/>
<path d="M250,699.9 L260,693.9 L270,688.1 L280,682.6 L290,677.5 L300,672.6 L310,667.9 L320,663.6 L330,659.5 L340,655.7 L350,652.2 L360,649 L370,646.1 L380,643.4 L390,641 L400,638.9 L410,637.1 L420,635.6 L430,634.3 L440,633.3 L450,632.6 L460,632.2 L470,632.1 L480,632.2 L490,632.6 L500,633.3 L510,634.3 L520,635.6 L530,637.1" stroke="#7d5435" stroke-width="2" stroke-opacity="0.7" stroke-dasharray="29.9 4.3 11.8 11.7 18.5 6.3 31.3 5.2 31.8 9.4 18.4 9.3 26.8 11 29.6 7.5 32.4 10.3 34.9 4.4 15.1 11 26.8 6.6 19.9 10 33.2 8.3" fill="none"/>
<path d="M250,706.5 L260,700.4 L270,694.5 L280,689 L290,683.8 L300,678.8 L310,674.1 L320,669.7 L330,665.6 L340,661.8 L350,658.2 L360,655 L370,652 L380,649.3 L390,646.9 L400,644.7 L410,642.9 L420,641.3 L430,640.1 L440,639.1 L450,638.4 L460,637.9 L470,637.8 L480,637.9 L490,638.4 L500,639.1 L510,640.1 L520,641.3 L530,642.9" stroke="#d9b487" stroke-width="5.5" stroke-opacity="0.6" stroke-dasharray="21.6 6.6 37 9.7 14.8 3.5 47.1 6.7 23.6 4.8 29.8 9.8 38.2 7.8 47 8.7 24.1 3.4 46.1 6.4 40.8 7 21 2.2 13.8 5.6 45.9 4.3" fill="none"/>
<path d="M250,706.5 L260,700.4 L270,694.5 L280,689 L290,683.8 L300,678.8 L310,674.1 L320,669.7 L330,665.6 L340,661.8 L350,658.2 L360,655 L370,652 L380,649.3 L390,646.9 L400,644.7 L410,642.9 L420,641.3 L430,640.1 L440,639.1 L450,638.4 L460,637.9 L470,637.8 L480,637.9 L490,638.4 L500,639.1 L510,640.1 L520,641.3 L530,642.9" stroke="#efd2a6" stroke-width="3.1" stroke-opacity="0.8" stroke-dasharray="6.9 9.2 5.5 9.1 4.9 26 10.9 23.8 4.1 14 11.7 8.3 7.9 8.6 7.9 27.1 4.3 18.7 11.3 25.6 6.1 27 13.6 9.9 11.4 25.1 15.9 16.8" fill="none"/>
<path d="M250,712 L260,705.9 L270,700 L280,694.5 L290,689.3 L300,684.3 L310,679.6 L320,675.2 L330,671.1 L340,667.3 L350,663.7 L360,660.5 L370,657.5 L380,654.8 L390,652.4 L400,650.2 L410,648.4 L420,646.8 L430,645.6 L440,644.6 L450,643.9 L460,643.4 L470,643.3 L480,643.4 L490,643.9 L500,644.6 L510,645.6 L520,646.8 L530,648.4" stroke="#7d5435" stroke-width="2.6" stroke-opacity="0.6" stroke-dasharray="10.6 5.9 26.4 5.8 20.4 9.4 30.9 4.4 10.5 4.9 23.2 10.6 18.9 6.3 18.6 9.1 31.6 4.4 34.5 8.2 15.8 8.6 30.3 7.3 10.8 8.8 26.3 7.9" fill="none"/>
<path d="M250,717.6 L260,711.4 L270,705.6 L280,700 L290,694.7 L300,689.6 L310,684.9 L320,680.4 L330,676.3 L340,672.4 L350,668.8 L360,665.5 L370,662.5 L380,659.8 L390,657.4 L400,655.2 L410,653.3 L420,651.8 L430,650.5 L440,649.5 L450,648.7 L460,648.3 L470,648.2 L480,648.3 L490,648.7 L500,649.5 L510,650.5 L520,651.8 L530,653.3" stroke="#d9b487" stroke-width="5.4" stroke-opacity="0.9" stroke-dasharray="25.7 6.2 22.4 4 33.2 2.8 42.7 9.8 17.7 7 27.2 9.8 47.6 7 16.6 6.3 19.8 8.2 21.8 6.8 40 9.2 45.1 8.8 41.6 6.2 25.3 7.7" fill="none"/>
<path d="M250,717.6 L260,711.4 L270,705.6 L280,700 L290,694.7 L300,689.6 L310,684.9 L320,680.4 L330,676.3 L340,672.4 L350,668.8 L360,665.5 L370,662.5 L380,659.8 L390,657.4 L400,655.2 L410,653.3 L420,651.8 L430,650.5 L440,649.5 L450,648.7 L460,648.3 L470,648.2 L480,648.3 L490,648.7 L500,649.5 L510,650.5 L520,651.8 L530,653.3" stroke="#efd2a6" stroke-width="2.6" stroke-opacity="0.9" stroke-dasharray="6.6 28.1 14.8 16.6 6.5 25.4 4.3 22.5 4.2 25.7 15 22.8 8.2 13 8.5 28 8.5 22.5 14.3 8.7 4.2 23.6 6.9 15.8 7.9 17.4 7.3 27.3" fill="none"/>
<path d="M250,723.1 L260,716.9 L270,711.1 L280,705.5 L290,700.2 L300,695.1 L310,690.4 L320,685.9 L330,681.8 L340,677.9 L350,674.3 L360,671 L370,668 L380,665.3 L390,662.9 L400,660.7 L410,658.8 L420,657.3 L430,656 L440,655 L450,654.2 L460,653.8 L470,653.7 L480,653.8 L490,654.2 L500,655 L510,656 L520,657.3 L530,658.8" stroke="#7d5435" stroke-width="2.9" stroke-opacity="0.5" stroke-dasharray="29.8 7.3 33.3 9.9 33.9 4.2 17.5 3.8 10.1 10.8 16.2 5.9 25.3 11.6 15.3 3.5 29.6 10.7 28.4 3.4 29.3 7 20.9 4.3 33.4 9.2 30.1 4.4" fill="none"/>
<path d="M250,730.5 L260,724.2 L270,718.3 L280,712.6 L290,707.2 L300,702.1 L310,697.3 L320,692.8 L330,688.6 L340,684.7 L350,681.1 L360,677.7 L370,674.7 L380,671.9 L390,669.4 L400,667.3 L410,665.4 L420,663.8 L430,662.5 L440,661.4 L450,660.7 L460,660.3 L470,660.1 L480,660.3 L490,660.7 L500,661.4 L510,662.5 L520,663.8 L530,665.4" stroke="#d9b487" stroke-width="4.5" stroke-opacity="0.6" stroke-dasharray="23.5 6 25.4 8 29.7 5.2 27.7 7.1 37.3 5.2 24.8 9.2 34.2 3.6 35.8 2.1 17.1 6.8 33.8 7.6 39.7 2.4 46 2.5 16.2 9.7 48.9 6.2" fill="none"/>
<path d="M250,730.5 L260,724.2 L270,718.3 L280,712.6 L290,707.2 L300,702.1 L310,697.3 L320,692.8 L330,688.6 L340,684.7 L350,681.1 L360,677.7 L370,674.7 L380,671.9 L390,669.4 L400,667.3 L410,665.4 L420,663.8 L430,662.5 L440,661.4 L450,660.7 L460,660.3 L470,660.1 L480,660.3 L490,660.7 L500,661.4 L510,662.5 L520,663.8 L530,665.4" stroke="#efd2a6" stroke-width="3.2" stroke-opacity="0.8" stroke-dasharray="10.5 21.9 10.5 29.9 10.4 26.5 15.5 9.7 15.6 26.8 15.7 12.9 4.9 23.5 4.2 13.9 15.6 12.3 4.6 25.4 15.4 13.9 7.9 8.9 9.4 14.2 8 17" fill="none"/>
<path d="M250,736 L260,729.7 L270,723.8 L280,718.1 L290,712.7 L300,707.6 L310,702.8 L320,698.3 L330,694.1 L340,690.2 L350,686.6 L360,683.2 L370,680.2 L380,677.4 L390,674.9 L400,672.8 L410,670.9 L420,669.3 L430,668 L440,666.9 L450,666.2 L460,665.8 L470,665.6 L480,665.8 L490,666.2 L500,666.9 L510,668 L520,669.3 L530,670.9" stroke="#7d5435" stroke-width="2.5" stroke-opacity="0.6" stroke-dasharray="16.7 6.8 23.5 6.4 13.8 9.8 32 10.2 32.5 8.7 16 7.5 34.7 9.2 28.2 11.9 30.6 9 12.2 8.6 10.8 9.4 20.1 8 27.1 7 26.7 7.1" fill="none"/>
<path d="M250,740.8 L260,734.4 L270,728.4 L280,722.7 L290,717.3 L300,712.1 L310,707.3 L320,702.7 L330,698.5 L340,694.5 L350,690.8 L360,687.5 L370,684.4 L380,681.6 L390,679.1 L400,676.9 L410,675 L420,673.4 L430,672 L440,671 L450,670.3 L460,669.8 L470,669.7 L480,669.8 L490,670.3 L500,671 L510,672 L520,673.4 L530,675" stroke="#d9b487" stroke-width="5.2" stroke-opacity="0.6" stroke-dasharray="36.6 5.8 25 6.4 26.4 8.6 42.1 9 25.5 2.5 49.1 4.1 37.1 8.6 14.7 8.4 37.2 9.4 41.1 4.1 44 8.9 25.2 6.7 33.7 10 14.5 8.1" fill="none"/>
<path d="M250,740.8 L260,734.4 L270,728.4 L280,722.7 L290,717.3 L300,712.1 L310,707.3 L320,702.7 L330,698.5 L340,694.5 L350,690.8 L360,687.5 L370,684.4 L380,681.6 L390,679.1 L400,676.9 L410,675 L420,673.4 L430,672 L440,671 L450,670.3 L460,669.8 L470,669.7 L480,669.8 L490,670.3 L500,671 L510,672 L520,673.4 L530,675" stroke="#efd2a6" stroke-width="2.2" stroke-opacity="0.7" stroke-dasharray="6 16 12.1 11.4 11.9 11.9 15.4 26.8 11.8 28 7.9 16 14.4 17.4 8.9 23.5 8.5 16 12 19.5 7.6 22.6 7.3 14.4 9.4 10.5 11.6 24.1" fill="none"/>
<path d="M250,746.3 L260,739.9 L270,733.9 L280,728.2 L290,722.8 L300,717.6 L310,712.8 L320,708.2 L330,704 L340,700 L350,696.3 L360,693 L370,689.9 L380,687.1 L390,684.6 L400,682.4 L410,680.5 L420,678.9 L430,677.5 L440,676.5 L450,675.8 L460,675.3 L470,675.2 L480,675.3 L490,675.8 L500,676.5 L510,677.5 L520,678.9 L530,680.5" stroke="#7d5435" stroke-width="1.9" stroke-opacity="0.7" stroke-dasharray="10.1 4.2 22.2 8.9 25.6 7.7 30 5.3 23.9 3 16.5 8.3 17.7 7.9 32.9 5.3 16.6 6.9 23.1 7.4 12.2 4.2 34 5.6 29.5 11.3 27.9 6.4" fill="none"/>
<path d="M250,752.1 L260,745.7 L270,739.6 L280,733.8 L290,728.3 L300,723.1 L310,718.2 L320,713.6 L330,709.3 L340,705.3 L350,701.6 L360,698.2 L370,695.1 L380,692.3 L390,689.7 L400,687.5 L410,685.6 L420,683.9 L430,682.6 L440,681.6 L450,680.8 L460,680.4 L470,680.2 L480,680.4 L490,680.8 L500,681.6 L510,682.6 L520,683.9 L530,685.6" stroke="#d9b487" stroke-width="4.6" stroke-opacity="0.7" stroke-dasharray="48.9 5.4 35.1 4.1 21.1 8.8 16.9 6.9 49.2 8.8 34 2.5 19.7 8.9 15 5.6 26.9 5.3 47.6 7.1 42.1 2.9 33.4 9.5 38.6 5.5 49.8 3.4" fill="none"/>
<path d="M250,752.1 L260,745.7 L270,739.6 L280,733.8 L290,728.3 L300,723.1 L310,718.2 L320,713.6 L330,709.3 L340,705.3 L350,701.6 L360,698.2 L370,695.1 L380,692.3 L390,689.7 L400,687.5 L410,685.6 L420,683.9 L430,682.6 L440,681.6 L450,680.8 L460,680.4 L470,680.2 L480,680.4 L490,680.8 L500,681.6 L510,682.6 L520,683.9 L530,685.6" stroke="#efd2a6" stroke-width="2.1" stroke-opacity="0.8" stroke-dasharray="5.6 24.6 4.1 13.1 6.4 19.9 15.1 14.5 8 16.5 9.5 10 14.2 20.6 4.2 18.9 14.2 12.7 9.5 26.1 6.4 15.4 14.4 20.1 13 26.6 5.7 17" fill="none"/>
<path d="M250,757.6 L260,751.2 L270,745.1 L280,739.3 L290,733.8 L300,728.6 L310,723.7 L320,719.1 L330,714.8 L340,710.8 L350,707.1 L360,703.7 L370,700.6 L380,697.8 L390,695.2 L400,693 L410,691.1 L420,689.4 L430,688.1 L440,687.1 L450,686.3 L460,685.9 L470,685.7 L480,685.9 L490,686.3 L500,687.1 L510,688.1 L520,689.4 L530,691.1" stroke="#7d5435" stroke-width="2.3" stroke-opacity="0.7" stroke-dasharray="18 4.7 34.6 4.7 23.5 7.7 12.2 6.5 26.6 5.7 19.9 11 27 5.8 16.2 6.4 20.9 7.9 17.6 4.2 15.2 8.9 33.3 8.9 27.7 4.3 33.3 6.1" fill="none"/>
<path d="M250,764.8 L260,758.3 L270,752.2 L280,746.3 L290,740.7 L300,735.5 L310,730.5 L320,725.9 L330,721.5 L340,717.4 L350,713.7 L360,710.2 L370,707.1 L380,704.2 L390,701.7 L400,699.4 L410,697.4 L420,695.8 L430,694.4 L440,693.4 L450,692.6 L460,692.2 L470,692 L480,692.2 L490,692.6 L500,693.4 L510,694.4 L520,695.8 L530,697.4" stroke="#d9b487" stroke-width="4.9" stroke-opacity="0.8" stroke-dasharray="37.2 7.8 12.3 2.5 48.2 8.6 13.3 3.8 28.7 3.6 20 9.8 35.2 5.2 39.7 3.6 19.7 3.4 44.6 3 17.2 9 42.9 6 12.5 7.8 40 3.3" fill="none"/>
<path d="M250,764.8 L260,758.3 L270,752.2 L280,746.3 L290,740.7 L300,735.5 L310,730.5 L320,725.9 L330,721.5 L340,717.4 L350,713.7 L360,710.2 L370,707.1 L380,704.2 L390,701.7 L400,699.4 L410,697.4 L420,695.8 L430,694.4 L440,693.4 L450,692.6 L460,692.2 L470,692 L480,692.2 L490,692.6 L500,693.4 L510,694.4 L520,695.8 L530,697.4" stroke="#efd2a6" stroke-width="2.7" stroke-opacity="0.6" stroke-dasharray="13 25.6 10.4 11.5 13.3 23.7 10.2 18.2 6.4 10 4.6 12.9 14 23.5 9.3 17.3 14.4 28.3 5.6 11.5 9.4 24.7 14.5 25.5 12.5 23.8 7.7 13.7" fill="none"/>
<path d="M250,770.3 L260,763.8 L270,757.7 L280,751.8 L290,746.2 L300,741 L310,736 L320,731.4 L330,727 L340,722.9 L350,719.2 L360,715.7 L370,712.6 L380,709.7 L390,707.2 L400,704.9 L410,702.9 L420,701.3 L430,699.9 L440,698.9 L450,698.1 L460,697.7 L470,697.5 L480,697.7 L490,698.1 L500,698.9 L510,699.9 L520,701.3 L530,702.9" stroke="#7d5435" stroke-width="2.2" stroke-opacity="0.6" stroke-dasharray="33.6 9 15.8 11.8 18.2 4.4 17.3 8.9 27.4 4.8 13.7 4.7 18.3 6.6 11 6.2 26.4 4.9 26.4 7.7 11.8 7.4 10.4 10 32.2 11.2 15 5.5" fill="none"/>
<path d="M250,776.8 L260,770.3 L270,764 L280,758.1 L290,752.5 L300,747.2 L310,742.1 L320,737.4 L330,733 L340,728.9 L350,725.1 L360,721.6 L370,718.4 L380,715.5 L390,713 L400,710.7 L410,708.7 L420,707 L430,705.7 L440,704.6 L450,703.8 L460,703.4 L470,703.2 L480,703.4 L490,703.8 L500,704.6 L510,705.7 L520,707 L530,708.7" stroke="#d9b487" stroke-width="4.6" stroke-opacity="0.6" stroke-dasharray="40.7 3.6 29.9 8.1 41.1 9.2 34 4.4 34 2.8 12 3.6 17.8 4.4 18.5 4.8 30.3 4.6 25.8 2.9 43.6 8.5 39.5 5.6 40.4 2.9 18.1 5.1" fill="none"/>
<path d="M250,776.8 L260,770.3 L270,764 L280,758.1 L290,752.5 L300,747.2 L310,742.1 L320,737.4 L330,733 L340,728.9 L350,725.1 L360,721.6 L370,718.4 L380,715.5 L390,713 L400,710.7 L410,708.7 L420,707 L430,705.7 L440,704.6 L450,703.8 L460,703.4 L470,703.2 L480,703.4 L490,703.8 L500,704.6 L510,705.7 L520,707 L530,708.7" stroke="#efd2a6" stroke-width="2.7" stroke-opacity="0.9" stroke-dasharray="11 17.1 12.4 17.1 14 9.7 12.7 24.2 8.3 22.6 5.1 8.1 11.7 26.4 7.6 13.7 5.3 13.3 5.8 14 10.5 15.1 7 20.5 4.5 13.6 15.4 14.2" fill="none"/>
<path d="M250,782.3 L260,775.8 L270,769.5 L280,763.6 L290,758 L300,752.7 L310,747.6 L320,742.9 L330,738.5 L340,734.4 L350,730.6 L360,727.1 L370,723.9 L380,721 L390,718.5 L400,716.2 L410,714.2 L420,712.5 L430,711.2 L440,710.1 L450,709.3 L460,708.9 L470,708.7 L480,708.9 L490,709.3 L500,710.1 L510,711.2 L520,712.5 L530,714.2" stroke="#7d5435" stroke-width="2.2" stroke-opacity="0.5" stroke-dasharray="32.7 9.5 23.4 5.2 12.4 4 11.3 10.1 27.5 4.9 28.6 3.8 14.3 10.6 35 6.8 25.6 4 24.2 4.1 26.6 5 16.1 10 22.8 10.4 30.5 3.7" fill="none"/>
<path d="M250,788.5 L260,781.9 L270,775.6 L280,769.6 L290,763.9 L300,758.5 L310,753.4 L320,748.7 L330,744.2 L340,740 L350,736.2 L360,732.7 L370,729.4 L380,726.5 L390,723.9 L400,721.6 L410,719.6 L420,717.9 L430,716.5 L440,715.4 L450,714.7 L460,714.2 L470,714.1 L480,714.2 L490,714.7 L500,715.4 L510,716.5 L520,717.9 L530,719.6" stroke="#d9b487" stroke-width="4.6" stroke-opacity="0.8" stroke-dasharray="20.2 8.2 18.6 4.4 15.2 8.1 34.5 3.5 24.1 9.5 41.9 2.3 42 3.2 31.4 3.3 42.3 8.2 19.7 9.4 38.1 7.7 14.5 2 45.5 2.3 32 4.6" fill="none"/>
<path d="M250,788.5 L260,781.9 L270,775.6 L280,769.6 L290,763.9 L300,758.5 L310,753.4 L320,748.7 L330,744.2 L340,740 L350,736.2 L360,732.7 L370,729.4 L380,726.5 L390,723.9 L400,721.6 L410,719.6 L420,717.9 L430,716.5 L440,715.4 L450,714.7 L460,714.2 L470,714.1 L480,714.2 L490,714.7 L500,715.4 L510,716.5 L520,717.9 L530,719.6" stroke="#efd2a6" stroke-width="2.1" stroke-opacity="0.8" stroke-dasharray="4.8 27.1 4.6 16 8.9 22.3 15.7 20.8 13.6 18.8 13.3 18.9 7.1 23.3 7.6 9.2 9.6 25.3 12.2 11.6 8.6 22.1 15.3 19.3 13 21.1 11.9 21.9" fill="none"/>
<path d="M250,794 L260,787.4 L270,781.1 L280,775.1 L290,769.4 L300,764 L310,758.9 L320,754.2 L330,749.7 L340,745.5 L350,741.7 L360,738.2 L370,734.9 L380,732 L390,729.4 L400,727.1 L410,725.1 L420,723.4 L430,722 L440,720.9 L450,720.2 L460,719.7 L470,719.6 L480,719.7 L490,720.2 L500,720.9 L510,722 L520,723.4 L530,725.1" stroke="#7d5435" stroke-width="2.9" stroke-opacity="0.6" stroke-dasharray="30.1 9.8 31.2 5.2 24.7 8.1 31.9 8.2 33.3 11 11.3 9 19.9 8.6 29.3 6.1 19.5 11.5 15.7 9 29.8 9 32.6 6.8 17.6 5.7 25.1 11.6" fill="none"/>
<path d="M250,800.2 L260,793.5 L270,787.2 L280,781.1 L290,775.3 L300,769.9 L310,764.8 L320,760 L330,755.4 L340,751.2 L350,747.4 L360,743.8 L370,740.5 L380,737.6 L390,734.9 L400,732.6 L410,730.6 L420,728.9 L430,727.5 L440,726.4 L450,725.6 L460,725.1 L470,725 L480,725.1 L490,725.6 L500,726.4 L510,727.5 L520,728.9 L530,730.6" stroke="#d9b487" stroke-width="5.1" stroke-opacity="0.9" stroke-dasharray="27.6 4.4 17.5 6.4 15.2 5.2 29.7 2.3 24.8 9.9 19.1 9.1 27.5 6.3 21.2 3.7 35.8 5 46.1 5.1 24.6 3.2 18.4 4.8 43 9.1 48.5 4.5" fill="none"/>
<path d="M250,800.2 L260,793.5 L270,787.2 L280,781.1 L290,775.3 L300,769.9 L310,764.8 L320,760 L330,755.4 L340,751.2 L350,747.4 L360,743.8 L370,740.5 L380,737.6 L390,734.9 L400,732.6 L410,730.6 L420,728.9 L430,727.5 L440,726.4 L450,725.6 L460,725.1 L470,725 L480,725.1 L490,725.6 L500,726.4 L510,727.5 L520,728.9 L530,730.6" stroke="#efd2a6" stroke-width="3.1" stroke-opacity="0.8" stroke-dasharray="13.5 21.3 14.3 29.3 8.7 8.2 14.2 10.3 7 20.4 11.9 24.2 12.1 29.7 12.8 24.6 12 11 13 13.6 9 19.3 8 13.9 7.6 14.7 12.5 23.1" fill="none"/>
<path d="M250,805.7 L260,799 L270,792.7 L280,786.6 L290,780.8 L300,775.4 L310,770.3 L320,765.5 L330,760.9 L340,756.7 L350,752.9 L360,749.3 L370,746 L380,743.1 L390,740.4 L400,738.1 L410,736.1 L420,734.4 L430,733 L440,731.9 L450,731.1 L460,730.6 L470,730.5 L480,730.6 L490,731.1 L500,731.9 L510,733 L520,734.4 L530,736.1" stroke="#7d5435" stroke-width="2.7" stroke-opacity="0.5" stroke-dasharray="11.5 8.9 22.3 9.2 10.4 10.9 32.2 4.1 19.4 5.8 22.8 4.4 25.2 7.1 33.7 7.3 10.2 11.4 16.8 4.7 33 7.6 34.9 4.6 24.7 11.8 25.7 5.2" fill="none"/>
<path d="M250,810.7 L260,804 L270,797.5 L280,791.4 L290,785.6 L300,780.1 L310,774.9 L320,770.1 L330,765.5 L340,761.3 L350,757.3 L360,753.7 L370,750.4 L380,747.4 L390,744.8 L400,742.4 L410,740.4 L420,738.7 L430,737.2 L440,736.1 L450,735.4 L460,734.9 L470,734.7 L480,734.9 L490,735.4 L500,736.1 L510,737.2 L520,738.7 L530,740.4" stroke="#d9b487" stroke-width="6.3" stroke-opacity="0.7" stroke-dasharray="32.8 5.3 15.2 9.6 36.3 5.9 49 4.9 46.3 4.6 43.7 6 13.8 6.3 46 3.6 42.7 2.5 23.7 6.2 37.9 9.3 34.3 9.8 41.5 4.9 38.4 4.2" fill="none"/>
<path d="M250,810.7 L260,804 L270,797.5 L280,791.4 L290,785.6 L300,780.1 L310,774.9 L320,770.1 L330,765.5 L340,761.3 L350,757.3 L360,753.7 L370,750.4 L380,747.4 L390,744.8 L400,742.4 L410,740.4 L420,738.7 L430,737.2 L440,736.1 L450,735.4 L460,734.9 L470,734.7 L480,734.9 L490,735.4 L500,736.1 L510,737.2 L520,738.7 L530,740.4" stroke="#efd2a6" stroke-width="2.5" stroke-opacity="0.5" stroke-dasharray="11.4 28.4 8.8 23 8.3 15 13.5 18.4 5.3 28.4 11.5 19 8.9 11.5 14.7 9 7.3 19.8 11.9 26.7 8.9 9.7 8.7 23.8 8.7 25.8 14.2 10.7" fill="none"/>
<path d="M250,816.2 L260,809.5 L270,803 L280,796.9 L290,791.1 L300,785.6 L310,780.4 L320,775.6 L330,771 L340,766.8 L350,762.8 L360,759.2 L370,755.9 L380,752.9 L390,750.3 L400,747.9 L410,745.9 L420,744.2 L430,742.7 L440,741.6 L450,740.9 L460,740.4 L470,740.2 L480,740.4 L490,740.9 L500,741.6 L510,742.7 L520,744.2 L530,745.9" stroke="#7d5435" stroke-width="2" stroke-opacity="0.7" stroke-dasharray="23.3 9.3 17.6 8.4 19 11.8 32.1 10.9 12.4 8.4 30.7 10.5 27.8 11.4 14.1 4.6 28.1 9.7 12.9 6.6 31 10.1 31 6.6 22.5 6 31.6 9.4" fill="none"/>
</g>
<linearGradient id="meshdark" x1="0" y1="0" x2="0" y2="1"><stop offset="0" stop-color="#7a5232" stop-opacity="0"/><stop offset="0.55" stop-color="#7a5232" stop-opacity="0.05"/><stop offset="1" stop-color="#7a5232" stop-opacity="0.3"/></linearGradient>
<rect x="250" y="480" width="290" height="245" fill="url(#meshdark)"/>
</g>
<path d="M262,668 C270,676 282,680 295,678 C315,688 335,696 350,700 C365,705 372,708 380,711 C400,716 425,721 450,722 C475,721 500,716 520,706 L517,722 C512,740 505,752 490,758 C470,763 440,761 425,751 L418,742 C400,738 370,730 350,716 C330,708 305,699 295,695 L283,697 C272,692 264,684 260,676 Z" fill="#c39267"/>
<path d="M295,686 C320,697 345,706 375,716 C400,724 430,730 455,732 C480,732 500,728 516,720" stroke="#b3845b" stroke-width="1.2" fill="none" opacity="0.6"/>
<path d="M420,742 C440,744 470,746 512,738" stroke="#a97a52" stroke-width="1.2" fill="none" opacity="0.5"/>
<path d="M372,708 L380,711 L377,727 L369,724 Z" fill="#d3a47c"/>
<g fill="none" stroke-linecap="round" stroke-linejoin="round">
<path d="M262,585 L262.7,583 L263.6,580.4 L264.7,577.2 L265.9,573.8 L267.2,570.1 L268.7,566.5 L270.3,563.1 L272,560 L273.8,557.3 L275.7,554.7 L277.7,552.2 L279.9,549.8 L282.2,547.4 L284.6,545 L287.2,542.5 L290,540 L292.9,537.4 L296,534.8 L299.2,532.1 L302.5,529.4 L306,526.8 L309.8,524.1 L313.8,521.5 L318,519 L322.6,516.5 L327.4,513.9 L332.6,511.4 L337.9,508.9 L343.4,506.5 L349,504.1 L354.5,502 L360,500 L365.5,498.1 L371,496.3 L376.7,494.6 L382.3,493 L388,491.6 L393.7,490.4 L399.4,489.6 L405,489 L410.7,488.8 L416.6,488.8 L422.4,489.2 L428.3,489.8 L434.1,490.5 L439.7,491.5 L445,492.7 L450,494 L454.7,495.5 L459.1,497.2 L463.3,499.2 L467.4,501.3 L471.2,503.6 L474.9,506 L478.5,508.5 L482,511 L485.4,513.6 L488.6,516.4 L491.6,519.4 L494.6,522.4 L497.4,525.5 L500,528.6 L502.6,531.8 L505,535 L507.3,538.2 L509.5,541.5 L511.5,544.9 L513.4,548.2 L515.2,551.7 L516.9,555.1 L518.5,558.6 L520,562 L521.4,565.4 L522.6,568.8 L523.7,572.1 L524.8,575.5 L525.7,578.9 L526.5,582.5 L527.3,586.2 L528,590 L528.6,594 L529.2,598.1 L529.7,602.4 L530.1,606.8 L530.5,611.2 L530.7,615.7 L530.9,620.3 L531,625 L531,629.8 L530.9,634.8 L530.8,639.9 L530.6,645.1 L530.3,650.3 L529.9,655.4 L529.5,660.3 L529,665 L528.4,669.6 L527.7,674.3 L527,678.9 L526.1,683.4 L525.3,687.6 L524.5,691.5 L523.7,695 L523,698 L522.4,700.4 L521.8,702.4 L521.2,703.9 L520.6,705.1 L520.1,706 L519.7,706.7 L519.3,707.4 L519,708" stroke="#b98a60" stroke-width="8.6"/>
<path d="M263,578 L264.3,580.2 L266,583.2 L268,586.8 L270.2,590.8 L272.7,594.9 L275.1,598.9 L277.6,602.7 L280,606 L282.3,608.9 L284.6,611.5 L286.8,613.9 L289.2,616.2 L291.6,618.6 L294.2,620.9 L297,623.4 L300,626 L303.2,628.8 L306.7,631.8 L310.3,634.9 L314.1,638 L318,641.1 L322,644.2 L326,647.2 L330,650 L334.1,652.7 L338.4,655.5 L342.7,658.1 L347.1,660.8 L351.5,663.3 L355.8,665.7 L360,667.9 L364,670 L367.7,671.9 L371.2,673.5 L374.6,675 L377.9,676.3 L381.2,677.6 L384.6,679 L388.2,680.4 L392,682 L396.4,683.8 L401.3,685.9 L406.5,688.1 L411.8,690.2 L416.8,692.3 L421.3,694.2 L425.2,695.8 L428,697" stroke="#b98a60" stroke-width="8.6"/>
<path d="M288,542 L290.5,544.5 L293.9,547.8 L297.9,551.8 L302.4,556.2 L307,560.9 L311.7,565.5 L316.1,570 L320,574 L323.5,577.7 L326.8,581.4 L330,585.1 L333.1,588.6 L336.2,592.1 L339.4,595.5 L342.6,598.8 L346,602 L349.5,605.1 L353.1,608 L356.8,610.8 L360.5,613.5 L364.3,616.2 L368.1,618.8 L372,621.4 L376,624 L380.2,626.7 L384.6,629.3 L389.2,632 L393.8,634.6 L398.2,637.2 L402.5,639.6 L406.5,641.9 L410,644 L413.1,646 L416,647.8 L418.7,649.6 L421.1,651.2 L423.3,652.7 L425.1,654 L426.7,655.1 L428,656" stroke="#b98a60" stroke-width="8.6"/>
<path d="M318,517 L319.5,517.9 L321.3,519.1 L323.5,520.4 L326,522 L328.7,523.7 L331.7,525.7 L334.8,527.8 L338,530 L341.5,532.5 L345.3,535.2 L349.4,538.1 L353.6,541.2 L357.9,544.4 L362.1,547.6 L366.2,550.8 L370,554 L373.6,557.2 L377.2,560.4 L380.6,563.6 L384,566.9 L387.2,570.2 L390.3,573.5 L393.3,576.7 L396,580 L398.5,583.2 L400.8,586.5 L402.9,589.7 L404.9,592.9 L406.7,596.1 L408.5,599.4 L410.3,602.7 L412,606 L413.7,609.4 L415.4,612.8 L417.1,616.2 L418.6,619.6 L420.1,623.1 L421.5,626.7 L422.8,630.3 L424,634 L425.1,637.8 L426,641.8 L426.9,645.8 L427.7,649.9 L428.4,654 L429,658.1 L429.5,662.1 L430,666 L430.4,669.8 L430.7,673.6 L431,677.3 L431.2,680.9 L431.3,684.5 L431.3,688.1 L431.2,691.6 L431,695 L430.6,698.5 L430.1,702.1 L429.3,705.8 L428.6,709.3 L427.8,712.6 L427,715.6 L426.4,718.1 L426,720" stroke="#b98a60" stroke-width="8.6"/>
<path d="M360,500 L363.2,501.5 L367.4,503.5 L372.5,505.8 L378.1,508.4 L384,511.3 L389.8,514.2 L395.2,517.1 L400,520 L404.3,522.9 L408.4,525.9 L412.4,529 L416.2,532.2 L419.9,535.4 L423.4,538.6 L426.8,541.8 L430,545 L433,548.1 L435.8,551.3 L438.5,554.4 L440.9,557.6 L443.3,560.7 L445.6,563.8 L447.8,566.9 L450,570 L452.2,573 L454.2,575.9 L456.3,578.8 L458.2,581.7 L460,584.6 L461.8,587.6 L463.4,590.7 L465,594 L466.4,597.5 L467.8,601.1 L469,604.9 L470.2,608.7 L471.3,612.6 L472.2,616.4 L473.2,620.3 L474,624 L474.8,627.6 L475.5,631.1 L476.1,634.6 L476.6,638.1 L477.1,641.6 L477.5,645.2 L477.8,649 L478,653 L478.2,657.3 L478.2,661.9 L478.3,666.6 L478.2,671.5 L478,676.4 L477.8,681.1 L477.4,685.7 L477,690 L476.4,694.2 L475.5,698.5 L474.5,702.7 L473.4,706.8 L472.4,710.6 L471.4,714 L470.6,716.8 L470,719" stroke="#b98a60" stroke-width="8.6"/>
<path d="M402,489 L405.3,490.6 L409.8,492.7 L415.1,495.1 L421,497.9 L427.1,500.8 L433.2,503.9 L438.9,507 L444,510 L448.5,513 L452.9,516 L457.1,519 L461.2,522.2 L465.1,525.4 L468.9,528.8 L472.5,532.3 L476,536 L479.4,539.8 L482.6,543.8 L485.7,548 L488.7,552.2 L491.5,556.6 L494.2,561 L496.7,565.5 L499,570 L501.2,574.5 L503.1,579.2 L504.9,583.9 L506.6,588.6 L508.1,593.4 L509.5,598.3 L510.8,603.1 L512,608 L513.2,612.9 L514.2,617.8 L515.2,622.8 L516.1,627.8 L516.9,632.8 L517.4,637.8 L517.8,642.9 L518,648 L517.9,653.2 L517.6,658.7 L517.1,664.2 L516.4,669.7 L515.7,675.1 L514.8,680.4 L513.9,685.4 L513,690 L512,694.4 L510.8,698.8 L509.5,703.1 L508.2,707.1 L506.9,710.8 L505.7,714.1 L504.7,716.9 L504,719" stroke="#b98a60" stroke-width="8.6"/>
<path d="M262,585 L262.7,583 L263.6,580.4 L264.7,577.2 L265.9,573.8 L267.2,570.1 L268.7,566.5 L270.3,563.1 L272,560 L273.8,557.3 L275.7,554.7 L277.7,552.2 L279.9,549.8 L282.2,547.4 L284.6,545 L287.2,542.5 L290,540 L292.9,537.4 L296,534.8 L299.2,532.1 L302.5,529.4 L306,526.8 L309.8,524.1 L313.8,521.5 L318,519 L322.6,516.5 L327.4,513.9 L332.6,511.4 L337.9,508.9 L343.4,506.5 L349,504.1 L354.5,502 L360,500 L365.5,498.1 L371,496.3 L376.7,494.6 L382.3,493 L388,491.6 L393.7,490.4 L399.4,489.6 L405,489 L410.7,488.8 L416.6,488.8 L422.4,489.2 L428.3,489.8 L434.1,490.5 L439.7,491.5 L445,492.7 L450,494 L454.7,495.5 L459.1,497.2 L463.3,499.2 L467.4,501.3 L471.2,503.6 L474.9,506 L478.5,508.5 L482,511 L485.4,513.6 L488.6,516.4 L491.6,519.4 L494.6,522.4 L497.4,525.5 L500,528.6 L502.6,531.8 L505,535 L507.3,538.2 L509.5,541.5 L511.5,544.9 L513.4,548.2 L515.2,551.7 L516.9,555.1 L518.5,558.6 L520,562 L521.4,565.4 L522.6,568.8 L523.7,572.1 L524.8,575.5 L525.7,578.9 L526.5,582.5 L527.3,586.2 L528,590 L528.6,594 L529.2,598.1 L529.7,602.4 L530.1,606.8 L530.5,611.2 L530.7,615.7 L530.9,620.3 L531,625 L531,629.8 L530.9,634.8 L530.8,639.9 L530.6,645.1 L530.3,650.3 L529.9,655.4 L529.5,660.3 L529,665 L528.4,669.6 L527.7,674.3 L527,678.9 L526.1,683.4 L525.3,687.6 L524.5,691.5 L523.7,695 L523,698 L522.4,700.4 L521.8,702.4 L521.2,703.9 L520.6,705.1 L520.1,706 L519.7,706.7 L519.3,707.4 L519,708" stroke="#cc9c72" stroke-width="6.6"/>
<path d="M263,578 L264.3,580.2 L266,583.2 L268,586.8 L270.2,590.8 L272.7,594.9 L275.1,598.9 L277.6,602.7 L280,606 L282.3,608.9 L284.6,611.5 L286.8,613.9 L289.2,616.2 L291.6,618.6 L294.2,620.9 L297,623.4 L300,626 L303.2,628.8 L306.7,631.8 L310.3,634.9 L314.1,638 L318,641.1 L322,644.2 L326,647.2 L330,650 L334.1,652.7 L338.4,655.5 L342.7,658.1 L347.1,660.8 L351.5,663.3 L355.8,665.7 L360,667.9 L364,670 L367.7,671.9 L371.2,673.5 L374.6,675 L377.9,676.3 L381.2,677.6 L384.6,679 L388.2,680.4 L392,682 L396.4,683.8 L401.3,685.9 L406.5,688.1 L411.8,690.2 L416.8,692.3 L421.3,694.2 L425.2,695.8 L428,697" stroke="#cc9c72" stroke-width="6.6"/>
<path d="M288,542 L290.5,544.5 L293.9,547.8 L297.9,551.8 L302.4,556.2 L307,560.9 L311.7,565.5 L316.1,570 L320,574 L323.5,577.7 L326.8,581.4 L330,585.1 L333.1,588.6 L336.2,592.1 L339.4,595.5 L342.6,598.8 L346,602 L349.5,605.1 L353.1,608 L356.8,610.8 L360.5,613.5 L364.3,616.2 L368.1,618.8 L372,621.4 L376,624 L380.2,626.7 L384.6,629.3 L389.2,632 L393.8,634.6 L398.2,637.2 L402.5,639.6 L406.5,641.9 L410,644 L413.1,646 L416,647.8 L418.7,649.6 L421.1,651.2 L423.3,652.7 L425.1,654 L426.7,655.1 L428,656" stroke="#cc9c72" stroke-width="6.6"/>
<path d="M318,517 L319.5,517.9 L321.3,519.1 L323.5,520.4 L326,522 L328.7,523.7 L331.7,525.7 L334.8,527.8 L338,530 L341.5,532.5 L345.3,535.2 L349.4,538.1 L353.6,541.2 L357.9,544.4 L362.1,547.6 L366.2,550.8 L370,554 L373.6,557.2 L377.2,560.4 L380.6,563.6 L384,566.9 L387.2,570.2 L390.3,573.5 L393.3,576.7 L396,580 L398.5,583.2 L400.8,586.5 L402.9,589.7 L404.9,592.9 L406.7,596.1 L408.5,599.4 L410.3,602.7 L412,606 L413.7,609.4 L415.4,612.8 L417.1,616.2 L418.6,619.6 L420.1,623.1 L421.5,626.7 L422.8,630.3 L424,634 L425.1,637.8 L426,641.8 L426.9,645.8 L427.7,649.9 L428.4,654 L429,658.1 L429.5,662.1 L430,666 L430.4,669.8 L430.7,673.6 L431,677.3 L431.2,680.9 L431.3,684.5 L431.3,688.1 L431.2,691.6 L431,695 L430.6,698.5 L430.1,702.1 L429.3,705.8 L428.6,709.3 L427.8,712.6 L427,715.6 L426.4,718.1 L426,720" stroke="#cc9c72" stroke-width="6.6"/>
<path d="M360,500 L363.2,501.5 L367.4,503.5 L372.5,505.8 L378.1,508.4 L384,511.3 L389.8,514.2 L395.2,517.1 L400,520 L404.3,522.9 L408.4,525.9 L412.4,529 L416.2,532.2 L419.9,535.4 L423.4,538.6 L426.8,541.8 L430,545 L433,548.1 L435.8,551.3 L438.5,554.4 L440.9,557.6 L443.3,560.7 L445.6,563.8 L447.8,566.9 L450,570 L452.2,573 L454.2,575.9 L456.3,578.8 L458.2,581.7 L460,584.6 L461.8,587.6 L463.4,590.7 L465,594 L466.4,597.5 L467.8,601.1 L469,604.9 L470.2,608.7 L471.3,612.6 L472.2,616.4 L473.2,620.3 L474,624 L474.8,627.6 L475.5,631.1 L476.1,634.6 L476.6,638.1 L477.1,641.6 L477.5,645.2 L477.8,649 L478,653 L478.2,657.3 L478.2,661.9 L478.3,666.6 L478.2,671.5 L478,676.4 L477.8,681.1 L477.4,685.7 L477,690 L476.4,694.2 L475.5,698.5 L474.5,702.7 L473.4,706.8 L472.4,710.6 L471.4,714 L470.6,716.8 L470,719" stroke="#cc9c72" stroke-width="6.6"/>
<path d="M402,489 L405.3,490.6 L409.8,492.7 L415.1,495.1 L421,497.9 L427.1,500.8 L433.2,503.9 L438.9,507 L444,510 L448.5,513 L452.9,516 L457.1,519 L461.2,522.2 L465.1,525.4 L468.9,528.8 L472.5,532.3 L476,536 L479.4,539.8 L482.6,543.8 L485.7,548 L488.7,552.2 L491.5,556.6 L494.2,561 L496.7,565.5 L499,570 L501.2,574.5 L503.1,579.2 L504.9,583.9 L506.6,588.6 L508.1,593.4 L509.5,598.3 L510.8,603.1 L512,608 L513.2,612.9 L514.2,617.8 L515.2,622.8 L516.1,627.8 L516.9,632.8 L517.4,637.8 L517.8,642.9 L518,648 L517.9,653.2 L517.6,658.7 L517.1,664.2 L516.4,669.7 L515.7,675.1 L514.8,680.4 L513.9,685.4 L513,690 L512,694.4 L510.8,698.8 L509.5,703.1 L508.2,707.1 L506.9,710.8 L505.7,714.1 L504.7,716.9 L504,719" stroke="#cc9c72" stroke-width="6.6"/>
</g>
<g clip-path="url(#c2)">
<rect x="508" y="870" width="186" height="186" fill="#e8d8c0"/>
<path d="M505,870 L695,870 L695,940 C680,950 660,958 640,961 C620,964 600,966 580,964 C555,962 530,955 505,942 Z" fill="#9d7250"/>
<g filter="url(#meshf)">
<path d="M505,890 L515,887.2 L525,884.7 L535,882.6 L545,880.7 L555,879.1 L565,877.9 L575,877 L585,876.3 L595,876 L605,876 L615,876.3 L625,877 L635,877.9 L645,879.1 L655,880.7 L665,882.6 L675,884.7 L685,887.2 L695,890 L705,893.1" stroke="#d5b080" stroke-width="4.9" stroke-opacity="0.6" stroke-dasharray="17.1 7.6 14.4 3.3 23 7.5 9.5 2 20.6 3.4 17.5 3.3 24 6.7 22.9 7.1 10.9 3.3 26.7 3.4 10.7 3.7 8.7 7.8" fill="none"/>
<path d="M505,890 L515,887.2 L525,884.7 L535,882.6 L545,880.7 L555,879.1 L565,877.9 L575,877 L585,876.3 L595,876 L605,876 L615,876.3 L625,877 L635,877.9 L645,879.1 L655,880.7 L665,882.6 L675,884.7 L685,887.2 L695,890 L705,893.1" stroke="#ecd2a2" stroke-width="1.8" stroke-opacity="0.6" stroke-dasharray="5 19 9.1 14.5 9.3 20.1 8.4 18.3 6.6 18.3 9.3 13.3 5.5 17.7 9.2 9.3 3.2 16.8 3.9 24.2 4.5 15.8 8.3 15.6" fill="none"/>
<path d="M505,893.8 L515,891 L525,888.5 L535,886.4 L545,884.5 L555,882.9 L565,881.7 L575,880.8 L585,880.1 L595,879.8 L605,879.8 L615,880.1 L625,880.8 L635,881.7 L645,882.9 L655,884.5 L665,886.4 L675,888.5 L685,891 L695,893.8 L705,896.9" stroke="#6e4b2e" stroke-width="2.2" stroke-opacity="0.6" fill="none"/>
<path d="M505,897.8 L515,895 L525,892.5 L535,890.3 L545,888.4 L555,886.9 L565,885.7 L575,884.7 L585,884.1 L595,883.8 L605,883.8 L615,884.1 L625,884.7 L635,885.7 L645,886.9 L655,888.4 L665,890.3 L675,892.5 L685,895 L695,897.8 L705,900.9" stroke="#d5b080" stroke-width="3.9" stroke-opacity="0.5" stroke-dasharray="29.5 5.5 21.1 2.2 19.8 4.8 18.6 3.8 28.6 7.8 19.7 3.4 20.2 6.9 14.2 7.8 20.7 6.3 12.9 3 25.8 3.6 16.2 7.7" fill="none"/>
<path d="M505,897.8 L515,895 L525,892.5 L535,890.3 L545,888.4 L555,886.9 L565,885.7 L575,884.7 L585,884.1 L595,883.8 L605,883.8 L615,884.1 L625,884.7 L635,885.7 L645,886.9 L655,888.4 L665,890.3 L675,892.5 L685,895 L695,897.8 L705,900.9" stroke="#ecd2a2" stroke-width="1.8" stroke-opacity="0.6" stroke-dasharray="3.8 14.6 9.7 15 7.7 23 3.4 14.3 6.7 19.2 4.8 18.9 7 15.3 9.8 23 7.3 11.2 7.3 9.9 4.2 20.9 3.5 23.3" fill="none"/>
<path d="M505,901.6 L515,898.8 L525,896.3 L535,894.1 L545,892.2 L555,890.7 L565,889.5 L575,888.5 L585,887.9 L595,887.6 L605,887.6 L615,887.9 L625,888.5 L635,889.5 L645,890.7 L655,892.2 L665,894.1 L675,896.3 L685,898.8 L695,901.6 L705,904.7" stroke="#6e4b2e" stroke-width="2.2" stroke-opacity="0.6" fill="none"/>
<path d="M505,904.8 L515,902 L525,899.5 L535,897.3 L545,895.5 L555,893.9 L565,892.7 L575,891.7 L585,891.1 L595,890.8 L605,890.8 L615,891.1 L625,891.7 L635,892.7 L645,893.9 L655,895.5 L665,897.3 L675,899.5 L685,902 L695,904.8 L705,907.9" stroke="#d5b080" stroke-width="3.7" stroke-opacity="0.8" stroke-dasharray="25.1 6.7 24.3 6.6 12.4 6.5 26.4 3.8 25.3 2.1 24.3 5.7 8.3 4.1 17.2 7 22.1 6.5 19.8 5.3 21.8 5.4 14.9 4.1" fill="none"/>
<path d="M505,904.8 L515,902 L525,899.5 L535,897.3 L545,895.5 L555,893.9 L565,892.7 L575,891.7 L585,891.1 L595,890.8 L605,890.8 L615,891.1 L625,891.7 L635,892.7 L645,893.9 L655,895.5 L665,897.3 L675,899.5 L685,902 L695,904.8 L705,907.9" stroke="#ecd2a2" stroke-width="1.8" stroke-opacity="0.6" stroke-dasharray="7.8 15.2 3.2 20.1 8.4 13.8 9 14.2 9.2 16.3 3.6 13.7 5.2 23.3 9.8 22.4 6.7 12.3 5.7 14 7.6 23.9 4.4 12.7" fill="none"/>
<path d="M505,908.6 L515,905.8 L525,903.3 L535,901.1 L545,899.3 L555,897.7 L565,896.5 L575,895.5 L585,894.9 L595,894.6 L605,894.6 L615,894.9 L625,895.5 L635,896.5 L645,897.7 L655,899.3 L665,901.1 L675,903.3 L685,905.8 L695,908.6 L705,911.7" stroke="#6e4b2e" stroke-width="2.2" stroke-opacity="0.6" fill="none"/>
<path d="M505,913 L515,910.2 L525,907.7 L535,905.6 L545,903.7 L555,902.1 L565,900.9 L575,900 L585,899.4 L595,899 L605,899 L615,899.4 L625,900 L635,900.9 L645,902.1 L655,903.7 L665,905.6 L675,907.7 L685,910.2 L695,913 L705,916.1" stroke="#d5b080" stroke-width="3.5" stroke-opacity="0.6" stroke-dasharray="19.4 6.6 24 3 27.7 4.6 11 2.7 24 5.2 8.6 6.9 29.4 2.5 25.2 3.2 20.6 7.5 26.9 4 20.3 4.8 24.9 7.4" fill="none"/>
<path d="M505,913 L515,910.2 L525,907.7 L535,905.6 L545,903.7 L555,902.1 L565,900.9 L575,900 L585,899.4 L595,899 L605,899 L615,899.4 L625,900 L635,900.9 L645,902.1 L655,903.7 L665,905.6 L675,907.7 L685,910.2 L695,913 L705,916.1" stroke="#ecd2a2" stroke-width="1.8" stroke-opacity="0.6" stroke-dasharray="5.5 23 3.7 22.9 9.6 15.5 7 23.6 7.8 23.5 8.3 17.7 8 22.6 4.2 19.1 9 24.8 8 16 9.2 18.3 3.8 16.5" fill="none"/>
<path d="M505,916.8 L515,914 L525,911.5 L535,909.4 L545,907.5 L555,905.9 L565,904.7 L575,903.8 L585,903.2 L595,902.8 L605,902.8 L615,903.2 L625,903.8 L635,904.7 L645,905.9 L655,907.5 L665,909.4 L675,911.5 L685,914 L695,916.8 L705,919.9" stroke="#6e4b2e" stroke-width="2.2" stroke-opacity="0.6" fill="none"/>
<path d="M505,920.6 L515,917.8 L525,915.3 L535,913.1 L545,911.3 L555,909.7 L565,908.5 L575,907.5 L585,906.9 L595,906.6 L605,906.6 L615,906.9 L625,907.5 L635,908.5 L645,909.7 L655,911.3 L665,913.1 L675,915.3 L685,917.8 L695,920.6 L705,923.7" stroke="#d5b080" stroke-width="4.2" stroke-opacity="0.8" stroke-dasharray="23.4 6.8 27.6 2 20.5 6.5 12.9 6.4 22.3 3.5 28 3.2 8 4.8 16.8 7.6 29.1 6.7 9 5.3 20.7 4.5 8.9 4.8" fill="none"/>
<path d="M505,920.6 L515,917.8 L525,915.3 L535,913.1 L545,911.3 L555,909.7 L565,908.5 L575,907.5 L585,906.9 L595,906.6 L605,906.6 L615,906.9 L625,907.5 L635,908.5 L645,909.7 L655,911.3 L665,913.1 L675,915.3 L685,917.8 L695,920.6 L705,923.7" stroke="#ecd2a2" stroke-width="1.8" stroke-opacity="0.6" stroke-dasharray="8.3 23 3.7 10.4 6.7 18.5 5.3 16.7 9.7 14.5 9.2 9.2 3.2 19 3.6 17.5 7.3 21.5 6.8 20 7.6 18.5 6.2 19.4" fill="none"/>
<path d="M505,924.4 L515,921.6 L525,919.1 L535,916.9 L545,915.1 L555,913.5 L565,912.3 L575,911.3 L585,910.7 L595,910.4 L605,910.4 L615,910.7 L625,911.3 L635,912.3 L645,913.5 L655,915.1 L665,916.9 L675,919.1 L685,921.6 L695,924.4 L705,927.5" stroke="#6e4b2e" stroke-width="2.2" stroke-opacity="0.6" fill="none"/>
<path d="M505,928.4 L515,925.6 L525,923.1 L535,921 L545,919.1 L555,917.6 L565,916.3 L575,915.4 L585,914.8 L595,914.5 L605,914.5 L615,914.8 L625,915.4 L635,916.3 L645,917.6 L655,919.1 L665,921 L675,923.1 L685,925.6 L695,928.4 L705,931.5" stroke="#d5b080" stroke-width="3.8" stroke-opacity="0.5" stroke-dasharray="12.6 3.1 19.2 7 12.6 6.2 24.2 6 29.6 5.7 9.9 5.1 22.9 2.5 13.3 7.3 29.6 2.5 14 3.9 14.5 5 20.7 4" fill="none"/>
<path d="M505,928.4 L515,925.6 L525,923.1 L535,921 L545,919.1 L555,917.6 L565,916.3 L575,915.4 L585,914.8 L595,914.5 L605,914.5 L615,914.8 L625,915.4 L635,916.3 L645,917.6 L655,919.1 L665,921 L675,923.1 L685,925.6 L695,928.4 L705,931.5" stroke="#ecd2a2" stroke-width="1.8" stroke-opacity="0.6" stroke-dasharray="3.3 19.6 8.4 11.6 5.7 24.7 9.5 17.8 4.5 20.9 8.3 9.4 3.2 9 8.1 19.4 3.9 23.5 8.6 8.9 7.3 13 4.8 10.3" fill="none"/>
<path d="M505,932.2 L515,929.4 L525,926.9 L535,924.8 L545,922.9 L555,921.4 L565,920.1 L575,919.2 L585,918.6 L595,918.3 L605,918.3 L615,918.6 L625,919.2 L635,920.1 L645,921.4 L655,922.9 L665,924.8 L675,926.9 L685,929.4 L695,932.2 L705,935.3" stroke="#6e4b2e" stroke-width="2.2" stroke-opacity="0.6" fill="none"/>
<path d="M505,936.6 L515,933.8 L525,931.3 L535,929.2 L545,927.3 L555,925.7 L565,924.5 L575,923.6 L585,922.9 L595,922.6 L605,922.6 L615,922.9 L625,923.6 L635,924.5 L645,925.7 L655,927.3 L665,929.2 L675,931.3 L685,933.8 L695,936.6 L705,939.7" stroke="#d5b080" stroke-width="3.7" stroke-opacity="0.5" stroke-dasharray="26.6 2.2 16.4 3 11.6 7.7 22.4 4.8 21.7 6.5 24.5 4 25.7 2.1 19.8 4 20 4.1 26 2 25 3.4 15.5 2.5" fill="none"/>
<path d="M505,936.6 L515,933.8 L525,931.3 L535,929.2 L545,927.3 L555,925.7 L565,924.5 L575,923.6 L585,922.9 L595,922.6 L605,922.6 L615,922.9 L625,923.6 L635,924.5 L645,925.7 L655,927.3 L665,929.2 L675,931.3 L685,933.8 L695,936.6 L705,939.7" stroke="#ecd2a2" stroke-width="1.8" stroke-opacity="0.6" stroke-dasharray="9 15.2 5.4 9.1 3.9 15.8 4.5 8.9 7.6 12.2 9.4 23.8 6.6 21.2 7.4 19 4.5 20.8 9.2 20.1 6 10 9.6 18.4" fill="none"/>
<path d="M505,940.4 L515,937.6 L525,935.1 L535,933 L545,931.1 L555,929.5 L565,928.3 L575,927.4 L585,926.7 L595,926.4 L605,926.4 L615,926.7 L625,927.4 L635,928.3 L645,929.5 L655,931.1 L665,933 L675,935.1 L685,937.6 L695,940.4 L705,943.5" stroke="#6e4b2e" stroke-width="2.2" stroke-opacity="0.6" fill="none"/>
<path d="M505,944.5 L515,941.7 L525,939.2 L535,937.1 L545,935.2 L555,933.7 L565,932.4 L575,931.5 L585,930.9 L595,930.6 L605,930.6 L615,930.9 L625,931.5 L635,932.4 L645,933.7 L655,935.2 L665,937.1 L675,939.2 L685,941.7 L695,944.5 L705,947.6" stroke="#d5b080" stroke-width="4.3" stroke-opacity="0.8" stroke-dasharray="11.7 7.7 14.3 4.3 15.5 7.8 10 7.2 22.1 5.7 22.4 6.4 11.1 2.4 9.5 4.3 9.7 6.4 19.8 2.4 9.6 5.3 23.9 5.9" fill="none"/>
<path d="M505,944.5 L515,941.7 L525,939.2 L535,937.1 L545,935.2 L555,933.7 L565,932.4 L575,931.5 L585,930.9 L595,930.6 L605,930.6 L615,930.9 L625,931.5 L635,932.4 L645,933.7 L655,935.2 L665,937.1 L675,939.2 L685,941.7 L695,944.5 L705,947.6" stroke="#ecd2a2" stroke-width="1.8" stroke-opacity="0.6" stroke-dasharray="9.4 15.7 9.3 12.3 5.8 19.8 4.2 24.8 9.1 22.6 6.2 13.5 4.4 14.6 8.5 9.8 4.5 14 5.3 18.6 8.9 9.2 3.6 21.3" fill="none"/>
<path d="M505,948.3 L515,945.5 L525,943 L535,940.9 L545,939 L555,937.5 L565,936.2 L575,935.3 L585,934.7 L595,934.4 L605,934.4 L615,934.7 L625,935.3 L635,936.2 L645,937.5 L655,939 L665,940.9 L675,943 L685,945.5 L695,948.3 L705,951.4" stroke="#6e4b2e" stroke-width="2.2" stroke-opacity="0.6" fill="none"/>
<path d="M505,952.5 L515,949.7 L525,947.2 L535,945.1 L545,943.2 L555,941.7 L565,940.4 L575,939.5 L585,938.9 L595,938.5 L605,938.5 L615,938.9 L625,939.5 L635,940.4 L645,941.7 L655,943.2 L665,945.1 L675,947.2 L685,949.7 L695,952.5 L705,955.6" stroke="#d5b080" stroke-width="3.7" stroke-opacity="0.8" stroke-dasharray="14.9 3.6 9 4.9 26.4 2.3 13.6 2.5 20.8 2.4 14.5 3.6 28.5 7.6 15.8 5.3 11.9 4.2 24.2 4.2 11.7 6 27.2 7.5" fill="none"/>
<path d="M505,952.5 L515,949.7 L525,947.2 L535,945.1 L545,943.2 L555,941.7 L565,940.4 L575,939.5 L585,938.9 L595,938.5 L605,938.5 L615,938.9 L625,939.5 L635,940.4 L645,941.7 L655,943.2 L665,945.1 L675,947.2 L685,949.7 L695,952.5 L705,955.6" stroke="#ecd2a2" stroke-width="1.8" stroke-opacity="0.6" stroke-dasharray="9.5 8.5 7.5 23.1 8.3 22.5 4.7 23.2 4.8 8.1 3.7 14.4 5.6 12.8 6.3 16.3 3.8 17.4 6.4 14.9 6.4 23.7 9.4 15.2" fill="none"/>
<path d="M505,956.3 L515,953.5 L525,951 L535,948.9 L545,947 L555,945.5 L565,944.2 L575,943.3 L585,942.7 L595,942.3 L605,942.3 L615,942.7 L625,943.3 L635,944.2 L645,945.5 L655,947 L665,948.9 L675,951 L685,953.5 L695,956.3 L705,959.4" stroke="#6e4b2e" stroke-width="2.2" stroke-opacity="0.6" fill="none"/>
<path d="M505,959.6 L515,956.8 L525,954.3 L535,952.2 L545,950.3 L555,948.7 L565,947.5 L575,946.6 L585,946 L595,945.6 L605,945.6 L615,946 L625,946.6 L635,947.5 L645,948.7 L655,950.3 L665,952.2 L675,954.3 L685,956.8 L695,959.6 L705,962.7" stroke="#d5b080" stroke-width="3.7" stroke-opacity="0.8" stroke-dasharray="12.2 3.6 17.8 3.4 15.4 2.3 19.2 4.9 12.7 5.7 30 7.6 16.3 2.4 17.5 2.3 19.5 5.1 15 2.6 18.5 4.8 28.8 6.7" fill="none"/>
<path d="M505,959.6 L515,956.8 L525,954.3 L535,952.2 L545,950.3 L555,948.7 L565,947.5 L575,946.6 L585,946 L595,945.6 L605,945.6 L615,946 L625,946.6 L635,947.5 L645,948.7 L655,950.3 L665,952.2 L675,954.3 L685,956.8 L695,959.6 L705,962.7" stroke="#ecd2a2" stroke-width="1.8" stroke-opacity="0.6" stroke-dasharray="7.4 9.7 5 21.4 3.5 20 6.3 12.4 6.6 18.7 8.7 23.3 7.5 19.7 3.2 19 8.4 19.3 4 14.2 5.7 23.1 5.3 8.7" fill="none"/>
<path d="M505,963.4 L515,960.6 L525,958.1 L535,956 L545,954.1 L555,952.5 L565,951.3 L575,950.4 L585,949.8 L595,949.4 L605,949.4 L615,949.8 L625,950.4 L635,951.3 L645,952.5 L655,954.1 L665,956 L675,958.1 L685,960.6 L695,963.4 L705,966.5" stroke="#6e4b2e" stroke-width="2.2" stroke-opacity="0.6" fill="none"/>
<path d="M505,967.9 L515,965.1 L525,962.6 L535,960.4 L545,958.6 L555,957 L565,955.8 L575,954.9 L585,954.2 L595,953.9 L605,953.9 L615,954.2 L625,954.9 L635,955.8 L645,957 L655,958.6 L665,960.4 L675,962.6 L685,965.1 L695,967.9 L705,971" stroke="#d5b080" stroke-width="3.8" stroke-opacity="0.8" stroke-dasharray="22.4 5.9 23.4 2.1 18.1 6.3 17.9 7.1 14.3 7.9 26.5 3.8 14.9 3.2 9.5 2.2 11.6 4.2 18.7 2.4 16.2 7.1 24.3 6" fill="none"/>
<path d="M505,967.9 L515,965.1 L525,962.6 L535,960.4 L545,958.6 L555,957 L565,955.8 L575,954.9 L585,954.2 L595,953.9 L605,953.9 L615,954.2 L625,954.9 L635,955.8 L645,957 L655,958.6 L665,960.4 L675,962.6 L685,965.1 L695,967.9 L705,971" stroke="#ecd2a2" stroke-width="1.8" stroke-opacity="0.6" stroke-dasharray="4.3 16 5.2 21.3 4.9 24.6 8.3 8.5 4.2 15 8 17.7 8.4 12.1 8.9 10.6 8.7 18.3 6.3 17.3 5.7 12.4 6.9 12.7" fill="none"/>
<path d="M505,971.7 L515,968.9 L525,966.4 L535,964.2 L545,962.4 L555,960.8 L565,959.6 L575,958.7 L585,958 L595,957.7 L605,957.7 L615,958 L625,958.7 L635,959.6 L645,960.8 L655,962.4 L665,964.2 L675,966.4 L685,968.9 L695,971.7 L705,974.8" stroke="#6e4b2e" stroke-width="2.2" stroke-opacity="0.6" fill="none"/>
<path d="M505,975.5 L515,972.7 L525,970.2 L535,968.1 L545,966.2 L555,964.7 L565,963.4 L575,962.5 L585,961.9 L595,961.6 L605,961.6 L615,961.9 L625,962.5 L635,963.4 L645,964.7 L655,966.2 L665,968.1 L675,970.2 L685,972.7 L695,975.5 L705,978.6" stroke="#d5b080" stroke-width="3.8" stroke-opacity="0.5" stroke-dasharray="28 8 11 3.9 24.6 3 17.3 2.5 26 6.7 13.6 5.4 12.9 2.9 24.4 7.8 23.7 2.6 17.6 6.9 29.3 7.4 9.6 6.5" fill="none"/>
<path d="M505,975.5 L515,972.7 L525,970.2 L535,968.1 L545,966.2 L555,964.7 L565,963.4 L575,962.5 L585,961.9 L595,961.6 L605,961.6 L615,961.9 L625,962.5 L635,963.4 L645,964.7 L655,966.2 L665,968.1 L675,970.2 L685,972.7 L695,975.5 L705,978.6" stroke="#ecd2a2" stroke-width="1.8" stroke-opacity="0.6" stroke-dasharray="3.5 14.4 5.1 19.3 7.9 17.9 6.1 16.5 6.7 19.6 5.6 16.9 6.9 15.4 7.1 12.3 5.7 22.6 9.7 18.9 5.9 24.3 4.8 22" fill="none"/>
<path d="M505,979.3 L515,976.5 L525,974 L535,971.9 L545,970 L555,968.5 L565,967.2 L575,966.3 L585,965.7 L595,965.4 L605,965.4 L615,965.7 L625,966.3 L635,967.2 L645,968.5 L655,970 L665,971.9 L675,974 L685,976.5 L695,979.3 L705,982.4" stroke="#6e4b2e" stroke-width="2.2" stroke-opacity="0.6" fill="none"/>
<path d="M505,983.6 L515,980.8 L525,978.3 L535,976.1 L545,974.3 L555,972.7 L565,971.5 L575,970.5 L585,969.9 L595,969.6 L605,969.6 L615,969.9 L625,970.5 L635,971.5 L645,972.7 L655,974.3 L665,976.1 L675,978.3 L685,980.8 L695,983.6 L705,986.7" stroke="#d5b080" stroke-width="4" stroke-opacity="0.8" stroke-dasharray="9.3 6.1 12.7 4 28.2 4.7 15.5 6.6 29 7.3 18.2 3.9 29.4 7.9 10 7.8 19.9 4.4 10.9 6.5 16.2 6.2 16.4 5" fill="none"/>
<path d="M505,983.6 L515,980.8 L525,978.3 L535,976.1 L545,974.3 L555,972.7 L565,971.5 L575,970.5 L585,969.9 L595,969.6 L605,969.6 L615,969.9 L625,970.5 L635,971.5 L645,972.7 L655,974.3 L665,976.1 L675,978.3 L685,980.8 L695,983.6 L705,986.7" stroke="#ecd2a2" stroke-width="1.8" stroke-opacity="0.6" stroke-dasharray="7.5 22.9 3.8 16.7 9.2 18.5 7.5 16 6.2 13.6 6.8 13.9 8.3 13.3 8.7 19.8 7.7 21.3 5.8 10 7.4 13 6.9 11.5" fill="none"/>
<path d="M505,987.4 L515,984.6 L525,982.1 L535,979.9 L545,978.1 L555,976.5 L565,975.3 L575,974.3 L585,973.7 L595,973.4 L605,973.4 L615,973.7 L625,974.3 L635,975.3 L645,976.5 L655,978.1 L665,979.9 L675,982.1 L685,984.6 L695,987.4 L705,990.5" stroke="#6e4b2e" stroke-width="2.2" stroke-opacity="0.6" fill="none"/>
</g>
<path d="M522,918 L519,950" stroke="#b98b62" stroke-width="9"/>
<path d="M522,918 L519,950" stroke="#cd9d73" stroke-width="7"/>
<path d="M548,880 L553,966" stroke="#b98b62" stroke-width="9"/>
<path d="M548,880 L553,966" stroke="#cd9d73" stroke-width="7"/>
<path d="M594,868 L591,966" stroke="#b98b62" stroke-width="9"/>
<path d="M594,868 L591,966" stroke="#cd9d73" stroke-width="7"/>
<path d="M638,878 L630,966" stroke="#b98b62" stroke-width="9"/>
<path d="M638,878 L630,966" stroke="#cd9d73" stroke-width="7"/>
<path d="M673,900 L665,952" stroke="#b98b62" stroke-width="9"/>
<path d="M673,900 L665,952" stroke="#cd9d73" stroke-width="7"/>
<path d="M505,940 C515,944 525,948 532,952 L534,1000 L505,1000 Z" fill="#e6d5bd"/>
<path d="M695,932 C688,936 680,940 672,944 L672,975 L695,975 Z" fill="#e9dac4"/>
<path d="M505,962 C540,978 580,992 620,992 C650,990 680,975 700,958 L700,1060 L505,1060 Z" fill="#e7d6bd"/>
<path d="M505,1010 C560,1005 640,1005 700,1000 L700,1060 L505,1060 Z" fill="#f1e8dc" filter="url(#blur6)"/>
<path d="M530,985 C560,998 600,1002 640,1000 C660,996 675,990 690,982 L690,1010 C650,1020 580,1020 530,1010 Z" fill="#dcc29c" opacity="0.7" filter="url(#blur3)"/>
<g filter="url(#blur08)">
<path d="M617.5,994.2 C616.5,1014.2 623.1,1039.2 621.1,1058" stroke="#d5b994" stroke-width="3.1" fill="none" opacity="0.6"/>
<path d="M619.2,996.2 C622.2,1016.2 620.6,1041.2 612,1058" stroke="#f8f2ea" stroke-width="2.5" fill="none" opacity="0.6"/>
<path d="M583.3,989 C579.6,1009 588.1,1034 591.4,1058" stroke="#f8f2ea" stroke-width="2.7" fill="none" opacity="0.6"/>
<path d="M505.7,980.7 C503.9,1000.7 509.1,1025.7 517.4,1058" stroke="#f8f2ea" stroke-width="1.1" fill="none" opacity="0.6"/>
<path d="M520.7,977.2 C518.3,997.2 520.2,1022.2 510.4,1058" stroke="#efe3d2" stroke-width="1.8" fill="none" opacity="0.6"/>
<path d="M584.3,987 C582.4,1007 577.2,1032 574.3,1058" stroke="#d5b994" stroke-width="1.7" fill="none" opacity="0.6"/>
<path d="M517,976.3 C520.8,996.3 511.2,1021.3 525.9,1058" stroke="#efe3d2" stroke-width="1.9" fill="none" opacity="0.6"/>
<path d="M598.4,979.7 C601.9,999.7 599.4,1024.7 587.7,1058" stroke="#d5b994" stroke-width="3.1" fill="none" opacity="0.6"/>
<path d="M585.3,982.4 C581.5,1002.4 582.3,1027.4 575.1,1058" stroke="#fbf8f3" stroke-width="1.2" fill="none" opacity="0.6"/>
<path d="M616.4,979.8 C618,999.8 621.2,1024.8 623.4,1058" stroke="#d5b994" stroke-width="2.6" fill="none" opacity="0.6"/>
<path d="M661.7,986.8 C661.2,1006.8 653.9,1031.8 672.1,1058" stroke="#d5b994" stroke-width="1.3" fill="none" opacity="0.6"/>
<path d="M625.5,981 C623.5,1001 624.2,1026 626.2,1058" stroke="#cdb08a" stroke-width="1.1" fill="none" opacity="0.6"/>
<path d="M548.5,975.6 C548.6,995.6 543.9,1020.6 553.7,1058" stroke="#fbf8f3" stroke-width="2.5" fill="none" opacity="0.6"/>
<path d="M676.3,980.1 C674.8,1000.1 678.9,1025.1 670.6,1058" stroke="#d5b994" stroke-width="1.2" fill="none" opacity="0.6"/>
<path d="M593,983.5 C594.6,1003.5 595.9,1028.5 597.8,1058" stroke="#efe3d2" stroke-width="2" fill="none" opacity="0.6"/>
<path d="M604.4,982.7 C606.5,1002.7 601.4,1027.7 599.4,1058" stroke="#efe3d2" stroke-width="2.3" fill="none" opacity="0.6"/>
<path d="M533.7,998.3 C536.8,1018.3 533.1,1043.3 526.5,1058" stroke="#f8f2ea" stroke-width="3" fill="none" opacity="0.6"/>
<path d="M641.5,996.7 C643,1016.7 641.1,1041.7 636.9,1058" stroke="#f8f2ea" stroke-width="1.3" fill="none" opacity="0.6"/>
<path d="M518.3,984.7 C518.2,1004.7 514.4,1029.7 522.4,1058" stroke="#d5b994" stroke-width="2.1" fill="none" opacity="0.6"/>
<path d="M666.9,998.5 C666.3,1018.5 670.2,1043.5 667.8,1058" stroke="#cdb08a" stroke-width="3.3" fill="none" opacity="0.6"/>
<path d="M622.6,977.6 C622.2,997.6 624.8,1022.6 617.2,1058" stroke="#f8f2ea" stroke-width="3.1" fill="none" opacity="0.6"/>
<path d="M684.2,988.9 C680.8,1008.9 687.2,1033.9 673.1,1058" stroke="#cdb08a" stroke-width="1.2" fill="none" opacity="0.6"/>
<path d="M647.6,994.3 C647.1,1014.3 641,1039.3 645.1,1058" stroke="#f8f2ea" stroke-width="2.8" fill="none" opacity="0.6"/>
<path d="M644.8,975.8 C648.1,995.8 647.6,1020.8 645.6,1058" stroke="#cdb08a" stroke-width="1.2" fill="none" opacity="0.6"/>
<path d="M536.2,988.3 C538.8,1008.3 530.9,1033.3 528.3,1058" stroke="#fbf8f3" stroke-width="2.8" fill="none" opacity="0.6"/>
<path d="M573.9,997.3 C573.5,1017.3 574.7,1042.3 564.1,1058" stroke="#cdb08a" stroke-width="3.3" fill="none" opacity="0.6"/>
<path d="M641.8,984.7 C639.6,1004.7 636.8,1029.7 649.3,1058" stroke="#fbf8f3" stroke-width="2" fill="none" opacity="0.6"/>
<path d="M543.4,994.7 C545.3,1014.7 550,1039.7 543.1,1058" stroke="#dcc4a2" stroke-width="1.8" fill="none" opacity="0.6"/>
<path d="M552.1,981.4 C551.9,1001.4 560,1026.4 543.7,1058" stroke="#dcc4a2" stroke-width="1.8" fill="none" opacity="0.6"/>
<path d="M537.8,993.6 C536.6,1013.6 532.8,1038.6 535.9,1058" stroke="#f8f2ea" stroke-width="3.2" fill="none" opacity="0.6"/>
<path d="M614.2,975.3 C616.3,995.3 615.9,1020.3 623.8,1058" stroke="#efe3d2" stroke-width="1.6" fill="none" opacity="0.6"/>
<path d="M565.4,997 C569,1017 562.2,1042 568.2,1058" stroke="#fbf8f3" stroke-width="1.9" fill="none" opacity="0.6"/>
<path d="M525.9,980.7 C529.2,1000.7 524.5,1025.7 529.2,1058" stroke="#dcc4a2" stroke-width="2.9" fill="none" opacity="0.6"/>
<path d="M551.4,998 C553.9,1018 559.3,1043 556.9,1058" stroke="#d5b994" stroke-width="3" fill="none" opacity="0.6"/>
<path d="M553.1,991.4 C552.2,1011.4 558.5,1036.4 544.3,1058" stroke="#dcc4a2" stroke-width="2.8" fill="none" opacity="0.6"/>
<path d="M632.5,976.4 C635.6,996.4 627.2,1021.4 628.1,1058" stroke="#d5b994" stroke-width="3.1" fill="none" opacity="0.6"/>
<path d="M686.4,996.8 C686.7,1016.8 693,1041.8 693.4,1058" stroke="#dcc4a2" stroke-width="3.4" fill="none" opacity="0.6"/>
<path d="M684.8,986.8 C684.5,1006.8 688.8,1031.8 692.9,1058" stroke="#cdb08a" stroke-width="1.9" fill="none" opacity="0.6"/>
<path d="M552.4,977.5 C551,997.5 544.8,1022.5 559.5,1058" stroke="#d5b994" stroke-width="1.9" fill="none" opacity="0.6"/>
<path d="M621.9,987.4 C618.3,1007.4 627.6,1032.4 625.2,1058" stroke="#efe3d2" stroke-width="3" fill="none" opacity="0.6"/>
<path d="M686.3,982.7 C687.3,1002.7 692.6,1027.7 685.6,1058" stroke="#efe3d2" stroke-width="2.8" fill="none" opacity="0.6"/>
<path d="M564.2,996.8 C564.8,1016.8 557.9,1041.8 566.3,1058" stroke="#dcc4a2" stroke-width="1.2" fill="none" opacity="0.6"/>
<path d="M589.8,975.3 C593.4,995.3 585.4,1020.3 582.8,1058" stroke="#dcc4a2" stroke-width="1.9" fill="none" opacity="0.6"/>
<path d="M687.1,992.4 C684.1,1012.4 693.8,1037.4 676,1058" stroke="#dcc4a2" stroke-width="2.4" fill="none" opacity="0.6"/>
<path d="M509.5,978.3 C513.5,998.3 504.4,1023.3 504.5,1058" stroke="#dcc4a2" stroke-width="3" fill="none" opacity="0.6"/>
<path d="M572.8,980.6 C574.7,1000.6 577.6,1025.6 566,1058" stroke="#cdb08a" stroke-width="2.1" fill="none" opacity="0.6"/>
<path d="M577.3,992.7 C580.8,1012.7 572.5,1037.7 572.6,1058" stroke="#efe3d2" stroke-width="2.3" fill="none" opacity="0.6"/>
<path d="M689.8,987.3 C691.8,1007.3 681.9,1032.3 698.7,1058" stroke="#dcc4a2" stroke-width="3.4" fill="none" opacity="0.6"/>
<path d="M695,989 C697.4,1009 689.9,1034 704.8,1058" stroke="#dcc4a2" stroke-width="3.2" fill="none" opacity="0.6"/>
<path d="M526.4,989.2 C522.9,1009.2 519.3,1034.2 526.6,1058" stroke="#dcc4a2" stroke-width="3.1" fill="none" opacity="0.6"/>
<path d="M640.7,992.8 C638.4,1012.8 640.1,1037.8 632.4,1058" stroke="#d5b994" stroke-width="1.4" fill="none" opacity="0.6"/>
<path d="M624.9,995.1 C624.3,1015.1 626.5,1040.1 619.1,1058" stroke="#efe3d2" stroke-width="1.6" fill="none" opacity="0.6"/>
<path d="M546.1,990.7 C542.6,1010.7 550.5,1035.7 553.4,1058" stroke="#cdb08a" stroke-width="1.4" fill="none" opacity="0.6"/>
<path d="M653.7,988.5 C651.6,1008.5 658.9,1033.5 647.3,1058" stroke="#d5b994" stroke-width="3.3" fill="none" opacity="0.6"/>
<path d="M543.4,989.6 C545.1,1009.6 547.4,1034.6 548.5,1058" stroke="#cdb08a" stroke-width="1.5" fill="none" opacity="0.6"/>
</g>
<path d="M505,942 C530,954 552,960.6 575,964 C600,966 625,964 647.5,960.6 C665,956 680,948 695,936 L695,960 C680,968 668,972 650,982 C630,990 600,992 575,991 C555,990 540,985 525,978 C518,970 514,960 505,950 Z" fill="#c4946b"/>
<path d="M505,952 C512,960 518,970 526,980 L526,1000 L505,1000 Z" fill="#d9bc93" opacity="0.8" filter="url(#blur1)"/>
<path d="M512,958 C545,972 580,978 610,978 C640,976 665,968 690,952" stroke="#b2835a" stroke-width="1" fill="none" opacity="0.55"/>
<path d="M550,964 L550,975 M631,964 L631,975" stroke="#8f6640" stroke-width="1.6" opacity="0.7"/>
</g>
<g stroke-linecap="round" fill="none">
<line x1="190.4" y1="337.6" x2="89" y2="412" stroke="#f6f1ea" stroke-width="5"/>
<line x1="250" y1="428" x2="141" y2="494" stroke="#f6f1ea" stroke-width="5"/>
<line x1="548" y1="523" x2="457.4" y2="573.2" stroke="#f6f1ea" stroke-width="5"/>
<line x1="217" y1="683" x2="278" y2="678" stroke="#f6f1ea" stroke-width="5"/>
<line x1="237" y1="937" x2="392" y2="733" stroke="#f6f1ea" stroke-width="5"/>
<line x1="557" y1="788" x2="488" y2="742" stroke="#f6f1ea" stroke-width="5"/>
<line x1="607" y1="855" x2="588.2" y2="980.7" stroke="#f6f1ea" stroke-width="5"/>
<line x1="190.4" y1="337.6" x2="89" y2="412" stroke="#5c6065" stroke-width="2.8"/>
<line x1="250" y1="428" x2="141" y2="494" stroke="#5c6065" stroke-width="2.8"/>
<line x1="548" y1="523" x2="457.4" y2="573.2" stroke="#5c6065" stroke-width="2.8"/>
<line x1="217" y1="683" x2="278" y2="678" stroke="#5c6065" stroke-width="2.8"/>
<line x1="237" y1="937" x2="392" y2="733" stroke="#5c6065" stroke-width="2.8"/>
<line x1="557" y1="788" x2="488" y2="742" stroke="#5c6065" stroke-width="2.8"/>
<line x1="607" y1="855" x2="588.2" y2="980.7" stroke="#5c6065" stroke-width="2.8"/>
</g><g fill="#5c6065" stroke="#f6f1ea" stroke-width="1.5">
<circle cx="89" cy="412" r="8.9"/>
<circle cx="141" cy="494" r="8.9"/>
<circle cx="457.4" cy="573.2" r="8.9"/>
<circle cx="278" cy="678" r="8.9"/>
<circle cx="392" cy="733" r="8.9"/>
<circle cx="488" cy="742" r="8.9"/>
<circle cx="588.2" cy="980.7" r="8.9"/>
</g>
</svg>

<div class="t" style="left:95px;top:297px;">Monofilament part</div>
<div class="t" style="left:261px;top:372.5px;">Temple-to-temple<br>sheer lace front</div>
<div class="t" style="left:551.4px;top:479.8px;">Resilient<br>stretch material<br>throughout the<br>cap base for a<br>custom-like fit</div>
<div class="t" style="right:594px;top:653px;text-align:right;">Velvet-lined<br>ear tabs</div>
<div class="t" style="left:568px;top:780.5px;">Velvet-lined<br>extended nape</div>
<div class="t" style="left:79.6px;top:916.5px;">Ultra-thin<br>adjusters at<br>the nape for a<br>personalized fit</div>

</body>
</html>
